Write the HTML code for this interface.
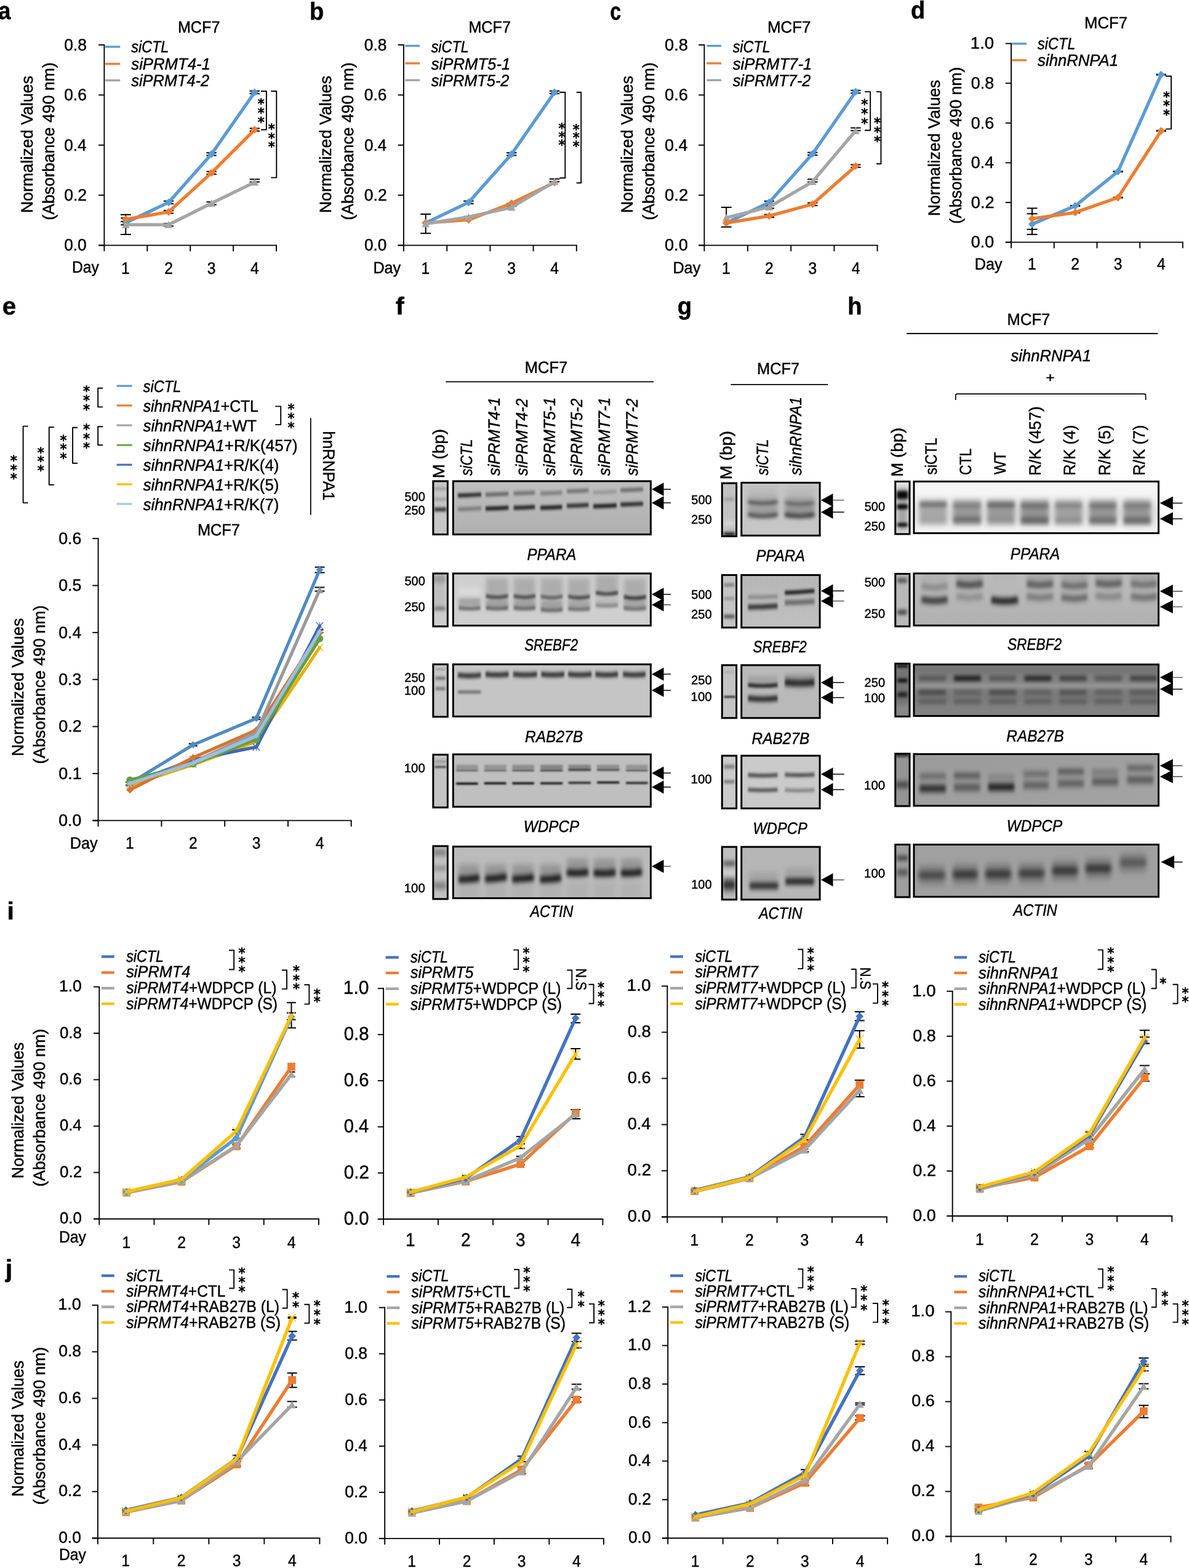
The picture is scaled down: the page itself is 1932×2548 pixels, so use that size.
<!DOCTYPE html>
<html lang="en"><head><meta charset="utf-8"><title>Figure</title>
<style>
html,body{margin:0;padding:0;background:#fff}
svg{display:block}
text.st{font-family:'DejaVu Sans','Liberation Sans',sans-serif;stroke:#000;stroke-width:0.85px}
text{font-family:'Liberation Sans', sans-serif;white-space:pre;stroke:#000;stroke-width:0.45px}
</style></head>
<body>
<svg width="1932" height="2548" viewBox="0 0 1932 2548" font-family='"Liberation Sans", sans-serif' text-rendering="geometricPrecision">
<defs>
<linearGradient id="lg1" x1="0" y1="0" x2="0" y2="1"><stop offset="0" stop-color="#BEBEBE"/><stop offset="1" stop-color="#B0B0B0"/></linearGradient>
<filter id="g15_25" x="-10%" y="-30%" width="120%" height="160%"><feGaussianBlur stdDeviation="1.5 2.5"/></filter>
<filter id="g25_20" x="-10%" y="-30%" width="120%" height="160%"><feGaussianBlur stdDeviation="2.5 2.0"/></filter>
<filter id="g35_40" x="-10%" y="-30%" width="120%" height="160%"><feGaussianBlur stdDeviation="3.5 4.0"/></filter>
<filter id="g25_25" x="-10%" y="-30%" width="120%" height="160%"><feGaussianBlur stdDeviation="2.5 2.5"/></filter>
<filter id="g25_30" x="-10%" y="-30%" width="120%" height="160%"><feGaussianBlur stdDeviation="2.5 3.0"/></filter>
<filter id="g25_50" x="-10%" y="-30%" width="120%" height="160%"><feGaussianBlur stdDeviation="2.5 5.0"/></filter>
<filter id="g35_50" x="-10%" y="-30%" width="120%" height="160%"><feGaussianBlur stdDeviation="3.5 5.0"/></filter>
<filter id="g15_30" x="-10%" y="-30%" width="120%" height="160%"><feGaussianBlur stdDeviation="1.5 3.0"/></filter>
<filter id="g15_20" x="-10%" y="-30%" width="120%" height="160%"><feGaussianBlur stdDeviation="1.5 2.0"/></filter>
<filter id="g15_15" x="-10%" y="-30%" width="120%" height="160%"><feGaussianBlur stdDeviation="1.5 1.5"/></filter>
<filter id="g15_10" x="-10%" y="-30%" width="120%" height="160%"><feGaussianBlur stdDeviation="1.5 1.0"/></filter>
<filter id="g25_45" x="-10%" y="-30%" width="120%" height="160%"><feGaussianBlur stdDeviation="2.5 4.5"/></filter>
<filter id="g35_60" x="-10%" y="-30%" width="120%" height="160%"><feGaussianBlur stdDeviation="3.5 6.0"/></filter>
<filter id="g25_40" x="-10%" y="-30%" width="120%" height="160%"><feGaussianBlur stdDeviation="2.5 4.0"/></filter>
<filter id="g25_35" x="-10%" y="-30%" width="120%" height="160%"><feGaussianBlur stdDeviation="2.5 3.5"/></filter>
<linearGradient id="lg13" x1="0" y1="0" x2="0" y2="1"><stop offset="0" stop-color="#B6B6B6"/><stop offset="1" stop-color="#C0C0C0"/></linearGradient>
<filter id="g15_40" x="-10%" y="-30%" width="120%" height="160%"><feGaussianBlur stdDeviation="1.5 4.0"/></filter>
<filter id="g15_35" x="-10%" y="-30%" width="120%" height="160%"><feGaussianBlur stdDeviation="1.5 3.5"/></filter>
<filter id="g25_65" x="-10%" y="-30%" width="120%" height="160%"><feGaussianBlur stdDeviation="2.5 6.5"/></filter>
<filter id="g50_80" x="-10%" y="-30%" width="120%" height="160%"><feGaussianBlur stdDeviation="5.0 8.0"/></filter>
<filter id="g50_50" x="-10%" y="-30%" width="120%" height="160%"><feGaussianBlur stdDeviation="5.0 5.0"/></filter>
<linearGradient id="lg23" x1="0" y1="0" x2="0" y2="1"><stop offset="0" stop-color="#BCBCBC"/><stop offset="1" stop-color="#B0B0B0"/></linearGradient>
<filter id="g35_30" x="-10%" y="-30%" width="120%" height="160%"><feGaussianBlur stdDeviation="3.5 3.0"/></filter>
<linearGradient id="lg27" x1="0" y1="0" x2="1" y2="1"><stop offset="0" stop-color="#9A9A9A"/><stop offset="1" stop-color="#A4A4A4"/></linearGradient>
<filter id="g35_70" x="-10%" y="-30%" width="120%" height="160%"><feGaussianBlur stdDeviation="3.5 7.0"/></filter>

</defs>
<rect x="0" y="0" width="1932" height="2548" fill="#fff"/>
<text font-size="40" text-anchor="start" fill="#000" font-weight="bold" textLength="20.43" lengthAdjust="spacingAndGlyphs" x="-3.08" y="31.4" >a</text>
<text font-size="40" text-anchor="start" fill="#000" font-weight="bold" textLength="23.29" lengthAdjust="spacingAndGlyphs" x="502.95" y="31.6" >b</text>
<text font-size="40" text-anchor="start" fill="#000" font-weight="bold" textLength="17.95" lengthAdjust="spacingAndGlyphs" x="991.23" y="31.7" >c</text>
<text font-size="40" text-anchor="start" fill="#000" font-weight="bold" textLength="23.29" lengthAdjust="spacingAndGlyphs" x="1480.1" y="30" >d</text>
<line x1="169.4" y1="72.05" x2="169.4" y2="399.55" stroke="#000" stroke-width="1.9" stroke-linecap="butt" />
<line x1="160.1" y1="398.6" x2="449.95" y2="398.6" stroke="#000" stroke-width="1.9" stroke-linecap="butt" />
<line x1="160.1" y1="398.6" x2="169.4" y2="398.6" stroke="#000" stroke-width="1.9" stroke-linecap="butt" />
<text font-size="27" text-anchor="start" fill="#000" textLength="36.52" lengthAdjust="spacingAndGlyphs" x="104.17" y="407.3" >0.0</text>
<line x1="160.1" y1="317.2" x2="169.4" y2="317.2" stroke="#000" stroke-width="1.9" stroke-linecap="butt" />
<text font-size="27" text-anchor="start" fill="#000" textLength="36.95" lengthAdjust="spacingAndGlyphs" x="104.16" y="325.9" >0.2</text>
<line x1="160.1" y1="235.8" x2="169.4" y2="235.8" stroke="#000" stroke-width="1.9" stroke-linecap="butt" />
<text font-size="27" text-anchor="start" fill="#000" textLength="36.39" lengthAdjust="spacingAndGlyphs" x="104.18" y="244.5" >0.4</text>
<line x1="160.1" y1="154.4" x2="169.4" y2="154.4" stroke="#000" stroke-width="1.9" stroke-linecap="butt" />
<text font-size="27" text-anchor="start" fill="#000" textLength="36.66" lengthAdjust="spacingAndGlyphs" x="104.17" y="163.1" >0.6</text>
<line x1="160.1" y1="73" x2="169.4" y2="73" stroke="#000" stroke-width="1.9" stroke-linecap="butt" />
<text font-size="27" text-anchor="start" fill="#000" textLength="36.66" lengthAdjust="spacingAndGlyphs" x="104.17" y="81.7" >0.8</text>
<line x1="169.4" y1="398.6" x2="169.4" y2="408.4" stroke="#000" stroke-width="1.9" stroke-linecap="butt" />
<line x1="239.3" y1="398.6" x2="239.3" y2="408.4" stroke="#000" stroke-width="1.9" stroke-linecap="butt" />
<line x1="309.2" y1="398.6" x2="309.2" y2="408.4" stroke="#000" stroke-width="1.9" stroke-linecap="butt" />
<line x1="379.1" y1="398.6" x2="379.1" y2="408.4" stroke="#000" stroke-width="1.9" stroke-linecap="butt" />
<line x1="449" y1="398.6" x2="449" y2="408.4" stroke="#000" stroke-width="1.9" stroke-linecap="butt" />
<text font-size="27" text-anchor="start" fill="#000" textLength="13.69" lengthAdjust="spacingAndGlyphs" x="197.1" y="445" >1</text>
<text font-size="27" text-anchor="start" fill="#000" textLength="13.72" lengthAdjust="spacingAndGlyphs" x="267.16" y="445" >2</text>
<text font-size="27" text-anchor="start" fill="#000" textLength="13.74" lengthAdjust="spacingAndGlyphs" x="336.75" y="445" >3</text>
<text font-size="27" text-anchor="start" fill="#000" textLength="13.77" lengthAdjust="spacingAndGlyphs" x="407.05" y="445" >4</text>
<text font-size="26.7" text-anchor="start" fill="#000" textLength="43.78" lengthAdjust="spacingAndGlyphs" x="116.96" y="443.2" >Day</text>
<text font-size="26.7" text-anchor="start" fill="#000" textLength="68.48" lengthAdjust="spacingAndGlyphs" x="288.91" y="53" >MCF7</text>
<text font-size="26.7" text-anchor="start" fill="#000" textLength="223.3" lengthAdjust="spacingAndGlyphs" transform="translate(53.1,346.32) rotate(-90)" x="0" y="0" >Normalized Values</text>
<text font-size="26.7" text-anchor="start" fill="#000" textLength="256.19" lengthAdjust="spacingAndGlyphs" transform="translate(88,357.67) rotate(-90)" x="0" y="0" >(Absorbance 490 nm)</text>
<line x1="204.3" y1="348.8" x2="204.3" y2="381" stroke="#000" stroke-width="2" stroke-linecap="butt" />
<line x1="195.8" y1="348.8" x2="212.8" y2="348.8" stroke="#000" stroke-width="2" stroke-linecap="butt" />
<line x1="195.8" y1="381" x2="212.8" y2="381" stroke="#000" stroke-width="2" stroke-linecap="butt" />
<line x1="204.3" y1="354.3" x2="204.3" y2="360" stroke="#000" stroke-width="2" stroke-linecap="butt" />
<line x1="196.3" y1="354.3" x2="212.3" y2="354.3" stroke="#000" stroke-width="2" stroke-linecap="butt" />
<line x1="196.3" y1="360" x2="212.3" y2="360" stroke="#000" stroke-width="2" stroke-linecap="butt" />
<line x1="204.3" y1="360" x2="204.3" y2="365.3" stroke="#000" stroke-width="2" stroke-linecap="butt" />
<line x1="196.3" y1="360" x2="212.3" y2="360" stroke="#000" stroke-width="2" stroke-linecap="butt" />
<line x1="196.3" y1="365.3" x2="212.3" y2="365.3" stroke="#000" stroke-width="2" stroke-linecap="butt" />
<line x1="274" y1="326.7" x2="274" y2="331.1" stroke="#000" stroke-width="2" stroke-linecap="butt" />
<line x1="265.8" y1="326.7" x2="282.2" y2="326.7" stroke="#000" stroke-width="2" stroke-linecap="butt" />
<line x1="265.8" y1="331.1" x2="282.2" y2="331.1" stroke="#000" stroke-width="2" stroke-linecap="butt" />
<line x1="274" y1="342.2" x2="274" y2="346.6" stroke="#000" stroke-width="2" stroke-linecap="butt" />
<line x1="265.8" y1="342.2" x2="282.2" y2="342.2" stroke="#000" stroke-width="2" stroke-linecap="butt" />
<line x1="265.8" y1="346.6" x2="282.2" y2="346.6" stroke="#000" stroke-width="2" stroke-linecap="butt" />
<line x1="274" y1="363" x2="274" y2="367.4" stroke="#000" stroke-width="2" stroke-linecap="butt" />
<line x1="265.8" y1="363" x2="282.2" y2="363" stroke="#000" stroke-width="2" stroke-linecap="butt" />
<line x1="265.8" y1="367.4" x2="282.2" y2="367.4" stroke="#000" stroke-width="2" stroke-linecap="butt" />
<line x1="343.6" y1="248.2" x2="343.6" y2="252.6" stroke="#000" stroke-width="2" stroke-linecap="butt" />
<line x1="335.4" y1="248.2" x2="351.8" y2="248.2" stroke="#000" stroke-width="2" stroke-linecap="butt" />
<line x1="335.4" y1="252.6" x2="351.8" y2="252.6" stroke="#000" stroke-width="2" stroke-linecap="butt" />
<line x1="343.6" y1="278.7" x2="343.6" y2="283.1" stroke="#000" stroke-width="2" stroke-linecap="butt" />
<line x1="335.4" y1="278.7" x2="351.8" y2="278.7" stroke="#000" stroke-width="2" stroke-linecap="butt" />
<line x1="335.4" y1="283.1" x2="351.8" y2="283.1" stroke="#000" stroke-width="2" stroke-linecap="butt" />
<line x1="343.6" y1="328.2" x2="343.6" y2="332.6" stroke="#000" stroke-width="2" stroke-linecap="butt" />
<line x1="335.4" y1="328.2" x2="351.8" y2="328.2" stroke="#000" stroke-width="2" stroke-linecap="butt" />
<line x1="335.4" y1="332.6" x2="351.8" y2="332.6" stroke="#000" stroke-width="2" stroke-linecap="butt" />
<line x1="413.8" y1="147.8" x2="413.8" y2="152.2" stroke="#000" stroke-width="2" stroke-linecap="butt" />
<line x1="405.6" y1="147.8" x2="422" y2="147.8" stroke="#000" stroke-width="2" stroke-linecap="butt" />
<line x1="405.6" y1="152.2" x2="422" y2="152.2" stroke="#000" stroke-width="2" stroke-linecap="butt" />
<line x1="413.8" y1="208.6" x2="413.8" y2="213" stroke="#000" stroke-width="2" stroke-linecap="butt" />
<line x1="405.6" y1="208.6" x2="422" y2="208.6" stroke="#000" stroke-width="2" stroke-linecap="butt" />
<line x1="405.6" y1="213" x2="422" y2="213" stroke="#000" stroke-width="2" stroke-linecap="butt" />
<line x1="413.8" y1="291.3" x2="413.8" y2="295.7" stroke="#000" stroke-width="2" stroke-linecap="butt" />
<line x1="405.6" y1="291.3" x2="422" y2="291.3" stroke="#000" stroke-width="2" stroke-linecap="butt" />
<line x1="405.6" y1="295.7" x2="422" y2="295.7" stroke="#000" stroke-width="2" stroke-linecap="butt" />
<polyline points="204.3,362 274,328.9 343.6,250.4 413.8,150" fill="none" stroke="#5B9BD5" stroke-width="5.3" stroke-linejoin="round" stroke-linecap="round"/>
<polygon points="204.3,355.7 210.6,362 204.3,368.3 198,362" fill="#5B9BD5" stroke="none" stroke-width="0"/>
<polygon points="274,322.6 280.3,328.9 274,335.2 267.7,328.9" fill="#5B9BD5" stroke="none" stroke-width="0"/>
<polygon points="343.6,244.1 349.9,250.4 343.6,256.7 337.3,250.4" fill="#5B9BD5" stroke="none" stroke-width="0"/>
<polygon points="413.8,143.7 420.1,150 413.8,156.3 407.5,150" fill="#5B9BD5" stroke="none" stroke-width="0"/>
<polyline points="204.3,356.3 274,344.4 343.6,280.9 413.8,210.8" fill="none" stroke="#ED7D31" stroke-width="5.3" stroke-linejoin="round" stroke-linecap="round"/>
<polygon points="204.3,350 210.6,356.3 204.3,362.6 198,356.3" fill="#ED7D31" stroke="none" stroke-width="0"/>
<polygon points="274,338.1 280.3,344.4 274,350.7 267.7,344.4" fill="#ED7D31" stroke="none" stroke-width="0"/>
<polygon points="343.6,274.6 349.9,280.9 343.6,287.2 337.3,280.9" fill="#ED7D31" stroke="none" stroke-width="0"/>
<polygon points="413.8,204.5 420.1,210.8 413.8,217.1 407.5,210.8" fill="#ED7D31" stroke="none" stroke-width="0"/>
<polyline points="204.3,365.2 274,365.2 343.6,330.4 413.8,296.1" fill="none" stroke="#A5A5A5" stroke-width="5.3" stroke-linejoin="round" stroke-linecap="round"/>
<polygon points="204.3,358.9 210.6,370.87 198,370.87" fill="#A5A5A5" stroke="none" stroke-width="0"/>
<polygon points="274,358.9 280.3,370.87 267.7,370.87" fill="#A5A5A5" stroke="none" stroke-width="0"/>
<polygon points="343.6,324.1 349.9,336.07 337.3,336.07" fill="#A5A5A5" stroke="none" stroke-width="0"/>
<polygon points="413.8,289.8 420.1,301.77 407.5,301.77" fill="#A5A5A5" stroke="none" stroke-width="0"/>
<line x1="170.8" y1="76" x2="195.3" y2="76" stroke="#5B9BD5" stroke-width="3.4" stroke-linecap="butt" />
<line x1="170.8" y1="103.8" x2="195.3" y2="103.8" stroke="#ED7D31" stroke-width="3.4" stroke-linecap="butt" />
<line x1="170.8" y1="130.6" x2="195.3" y2="130.6" stroke="#A5A5A5" stroke-width="3.4" stroke-linecap="butt" />
<text font-size="26.7" text-anchor="start" fill="#000" font-style="italic" textLength="60.93" lengthAdjust="spacingAndGlyphs" x="213.31" y="85" >siCTL</text>
<text font-size="26.7" text-anchor="start" fill="#000" font-style="italic" textLength="128.58" lengthAdjust="spacingAndGlyphs" x="213.3" y="112.7" >siPRMT4-1</text>
<text font-size="26.7" text-anchor="start" fill="#000" font-style="italic" textLength="126.77" lengthAdjust="spacingAndGlyphs" x="213.3" y="140.1" >siPRMT4-2</text>
<path d="M423.9 148.2 H432.9 V210.8 H423.9" fill="none" stroke="#000" stroke-width="1.9" stroke-linejoin="round"/>
<text class="st" font-size="22" text-anchor="middle"><tspan x="424.3" y="175.85">*</tspan><tspan x="424.3" y="190.98">*</tspan><tspan x="424.3" y="206.11">*</tspan></text>
<path d="M440.3 148.2 H449.3 V288.6 H440.3" fill="none" stroke="#000" stroke-width="1.9" stroke-linejoin="round"/>
<text class="st" font-size="22" text-anchor="middle"><tspan x="441.3" y="216.75">*</tspan><tspan x="441.3" y="231.53">*</tspan><tspan x="441.3" y="246.31">*</tspan></text>
<line x1="655.9" y1="72.05" x2="655.9" y2="399.55" stroke="#000" stroke-width="1.9" stroke-linecap="butt" />
<line x1="646.6" y1="398.6" x2="937.75" y2="398.6" stroke="#000" stroke-width="1.9" stroke-linecap="butt" />
<line x1="646.6" y1="398.6" x2="655.9" y2="398.6" stroke="#000" stroke-width="1.9" stroke-linecap="butt" />
<text font-size="27" text-anchor="start" fill="#000" textLength="36.42" lengthAdjust="spacingAndGlyphs" x="591.88" y="407.3" >0.0</text>
<line x1="646.6" y1="317.2" x2="655.9" y2="317.2" stroke="#000" stroke-width="1.9" stroke-linecap="butt" />
<text font-size="27" text-anchor="start" fill="#000" textLength="36.84" lengthAdjust="spacingAndGlyphs" x="591.87" y="325.9" >0.2</text>
<line x1="646.6" y1="235.8" x2="655.9" y2="235.8" stroke="#000" stroke-width="1.9" stroke-linecap="butt" />
<text font-size="27" text-anchor="start" fill="#000" textLength="36.28" lengthAdjust="spacingAndGlyphs" x="591.88" y="244.5" >0.4</text>
<line x1="646.6" y1="154.4" x2="655.9" y2="154.4" stroke="#000" stroke-width="1.9" stroke-linecap="butt" />
<text font-size="27" text-anchor="start" fill="#000" textLength="36.56" lengthAdjust="spacingAndGlyphs" x="591.87" y="163.1" >0.6</text>
<line x1="646.6" y1="73" x2="655.9" y2="73" stroke="#000" stroke-width="1.9" stroke-linecap="butt" />
<text font-size="27" text-anchor="start" fill="#000" textLength="36.56" lengthAdjust="spacingAndGlyphs" x="591.87" y="81.7" >0.8</text>
<line x1="655.9" y1="398.6" x2="655.9" y2="408.4" stroke="#000" stroke-width="1.9" stroke-linecap="butt" />
<line x1="726.2" y1="398.6" x2="726.2" y2="408.4" stroke="#000" stroke-width="1.9" stroke-linecap="butt" />
<line x1="796.4" y1="398.6" x2="796.4" y2="408.4" stroke="#000" stroke-width="1.9" stroke-linecap="butt" />
<line x1="866.6" y1="398.6" x2="866.6" y2="408.4" stroke="#000" stroke-width="1.9" stroke-linecap="butt" />
<line x1="936.8" y1="398.6" x2="936.8" y2="408.4" stroke="#000" stroke-width="1.9" stroke-linecap="butt" />
<text font-size="27" text-anchor="start" fill="#000" textLength="13.69" lengthAdjust="spacingAndGlyphs" x="684.5" y="444.5" >1</text>
<text font-size="27" text-anchor="start" fill="#000" textLength="13.72" lengthAdjust="spacingAndGlyphs" x="754.56" y="444.5" >2</text>
<text font-size="27" text-anchor="start" fill="#000" textLength="13.74" lengthAdjust="spacingAndGlyphs" x="824.35" y="444.5" >3</text>
<text font-size="27" text-anchor="start" fill="#000" textLength="13.77" lengthAdjust="spacingAndGlyphs" x="894.25" y="444.5" >4</text>
<text font-size="26.7" text-anchor="start" fill="#000" textLength="44.72" lengthAdjust="spacingAndGlyphs" x="606.41" y="443.5" >Day</text>
<text font-size="26.7" text-anchor="start" fill="#000" textLength="68.48" lengthAdjust="spacingAndGlyphs" x="761.41" y="53" >MCF7</text>
<text font-size="26.7" text-anchor="start" fill="#000" textLength="223.3" lengthAdjust="spacingAndGlyphs" transform="translate(538.1,346.32) rotate(-90)" x="0" y="0" >Normalized Values</text>
<text font-size="26.7" text-anchor="start" fill="#000" textLength="256.19" lengthAdjust="spacingAndGlyphs" transform="translate(573.5,357.67) rotate(-90)" x="0" y="0" >(Absorbance 490 nm)</text>
<line x1="691.7" y1="348" x2="691.7" y2="379.2" stroke="#000" stroke-width="2" stroke-linecap="butt" />
<line x1="683.2" y1="348" x2="700.2" y2="348" stroke="#000" stroke-width="2" stroke-linecap="butt" />
<line x1="683.2" y1="379.2" x2="700.2" y2="379.2" stroke="#000" stroke-width="2" stroke-linecap="butt" />
<line x1="761.4" y1="326.7" x2="761.4" y2="331.1" stroke="#000" stroke-width="2" stroke-linecap="butt" />
<line x1="753.2" y1="326.7" x2="769.6" y2="326.7" stroke="#000" stroke-width="2" stroke-linecap="butt" />
<line x1="753.2" y1="331.1" x2="769.6" y2="331.1" stroke="#000" stroke-width="2" stroke-linecap="butt" />
<line x1="761.4" y1="351.8" x2="761.4" y2="356.2" stroke="#000" stroke-width="2" stroke-linecap="butt" />
<line x1="753.2" y1="351.8" x2="769.6" y2="351.8" stroke="#000" stroke-width="2" stroke-linecap="butt" />
<line x1="753.2" y1="356.2" x2="769.6" y2="356.2" stroke="#000" stroke-width="2" stroke-linecap="butt" />
<line x1="831.2" y1="248.2" x2="831.2" y2="252.6" stroke="#000" stroke-width="2" stroke-linecap="butt" />
<line x1="823" y1="248.2" x2="839.4" y2="248.2" stroke="#000" stroke-width="2" stroke-linecap="butt" />
<line x1="823" y1="252.6" x2="839.4" y2="252.6" stroke="#000" stroke-width="2" stroke-linecap="butt" />
<line x1="831.2" y1="330.8" x2="831.2" y2="335.2" stroke="#000" stroke-width="2" stroke-linecap="butt" />
<line x1="823" y1="330.8" x2="839.4" y2="330.8" stroke="#000" stroke-width="2" stroke-linecap="butt" />
<line x1="823" y1="335.2" x2="839.4" y2="335.2" stroke="#000" stroke-width="2" stroke-linecap="butt" />
<line x1="901" y1="147.8" x2="901" y2="152.2" stroke="#000" stroke-width="2" stroke-linecap="butt" />
<line x1="892.8" y1="147.8" x2="909.2" y2="147.8" stroke="#000" stroke-width="2" stroke-linecap="butt" />
<line x1="892.8" y1="152.2" x2="909.2" y2="152.2" stroke="#000" stroke-width="2" stroke-linecap="butt" />
<line x1="901" y1="290.8" x2="901" y2="295.2" stroke="#000" stroke-width="2" stroke-linecap="butt" />
<line x1="892.8" y1="290.8" x2="909.2" y2="290.8" stroke="#000" stroke-width="2" stroke-linecap="butt" />
<line x1="892.8" y1="295.2" x2="909.2" y2="295.2" stroke="#000" stroke-width="2" stroke-linecap="butt" />
<polyline points="691.7,362.3 761.4,328.9 831.2,250.4 901,150" fill="none" stroke="#5B9BD5" stroke-width="5.3" stroke-linejoin="round" stroke-linecap="round"/>
<polygon points="691.7,356 698,362.3 691.7,368.6 685.4,362.3" fill="#5B9BD5" stroke="none" stroke-width="0"/>
<polygon points="761.4,322.6 767.7,328.9 761.4,335.2 755.1,328.9" fill="#5B9BD5" stroke="none" stroke-width="0"/>
<polygon points="831.2,244.1 837.5,250.4 831.2,256.7 824.9,250.4" fill="#5B9BD5" stroke="none" stroke-width="0"/>
<polygon points="901,143.7 907.3,150 901,156.3 894.7,150" fill="#5B9BD5" stroke="none" stroke-width="0"/>
<polyline points="691.7,362.3 761.4,357.2 831.2,330.4 901,296.7" fill="none" stroke="#ED7D31" stroke-width="5.3" stroke-linejoin="round" stroke-linecap="round"/>
<polygon points="691.7,356 698,362.3 691.7,368.6 685.4,362.3" fill="#ED7D31" stroke="none" stroke-width="0"/>
<polygon points="761.4,350.9 767.7,357.2 761.4,363.5 755.1,357.2" fill="#ED7D31" stroke="none" stroke-width="0"/>
<polygon points="831.2,324.1 837.5,330.4 831.2,336.7 824.9,330.4" fill="#ED7D31" stroke="none" stroke-width="0"/>
<polygon points="901,290.4 907.3,296.7 901,303 894.7,296.7" fill="#ED7D31" stroke="none" stroke-width="0"/>
<polyline points="691.7,363.7 761.4,352.7 831.2,336.9 901,295.2" fill="none" stroke="#A5A5A5" stroke-width="5.3" stroke-linejoin="round" stroke-linecap="round"/>
<polygon points="691.7,357.4 698,369.37 685.4,369.37" fill="#A5A5A5" stroke="none" stroke-width="0"/>
<polygon points="761.4,346.4 767.7,358.37 755.1,358.37" fill="#A5A5A5" stroke="none" stroke-width="0"/>
<polygon points="831.2,330.6 837.5,342.57 824.9,342.57" fill="#A5A5A5" stroke="none" stroke-width="0"/>
<polygon points="901,288.9 907.3,300.87 894.7,300.87" fill="#A5A5A5" stroke="none" stroke-width="0"/>
<line x1="658.3" y1="74.5" x2="682.1" y2="74.5" stroke="#5B9BD5" stroke-width="3.4" stroke-linecap="butt" />
<line x1="658.3" y1="102.9" x2="682.1" y2="102.9" stroke="#ED7D31" stroke-width="3.4" stroke-linecap="butt" />
<line x1="658.3" y1="130.3" x2="682.1" y2="130.3" stroke="#A5A5A5" stroke-width="3.4" stroke-linecap="butt" />
<text font-size="26.7" text-anchor="start" fill="#000" font-style="italic" textLength="60.93" lengthAdjust="spacingAndGlyphs" x="700.71" y="85" >siCTL</text>
<text font-size="26.7" text-anchor="start" fill="#000" font-style="italic" textLength="128.58" lengthAdjust="spacingAndGlyphs" x="700.7" y="112.7" >siPRMT5-1</text>
<text font-size="26.7" text-anchor="start" fill="#000" font-style="italic" textLength="126.77" lengthAdjust="spacingAndGlyphs" x="700.7" y="140.1" >siPRMT5-2</text>
<path d="M909.3 150 H918.3 V289.2 H909.3" fill="none" stroke="#000" stroke-width="1.9" stroke-linejoin="round"/>
<text class="st" font-size="22" text-anchor="middle"><tspan x="912.9" y="216.15">*</tspan><tspan x="912.9" y="229.73">*</tspan><tspan x="912.9" y="243.31">*</tspan></text>
<path d="M936.7 150 H944.2 V297.3 H936.7" fill="none" stroke="#000" stroke-width="1.9" stroke-linejoin="round"/>
<text class="st" font-size="22" text-anchor="middle"><tspan x="936.2" y="217.65">*</tspan><tspan x="936.2" y="231.23">*</tspan><tspan x="936.2" y="244.81">*</tspan></text>
<line x1="1144.4" y1="72.05" x2="1144.4" y2="399.55" stroke="#000" stroke-width="1.9" stroke-linecap="butt" />
<line x1="1135.1" y1="398.6" x2="1426.55" y2="398.6" stroke="#000" stroke-width="1.9" stroke-linecap="butt" />
<line x1="1135.1" y1="398.6" x2="1144.4" y2="398.6" stroke="#000" stroke-width="1.9" stroke-linecap="butt" />
<text font-size="27" text-anchor="start" fill="#000" textLength="37.69" lengthAdjust="spacingAndGlyphs" x="1080.04" y="407.3" >0.0</text>
<line x1="1135.1" y1="317.2" x2="1144.4" y2="317.2" stroke="#000" stroke-width="1.9" stroke-linecap="butt" />
<text font-size="27" text-anchor="start" fill="#000" textLength="38.12" lengthAdjust="spacingAndGlyphs" x="1080.03" y="325.9" >0.2</text>
<line x1="1135.1" y1="235.8" x2="1144.4" y2="235.8" stroke="#000" stroke-width="1.9" stroke-linecap="butt" />
<text font-size="27" text-anchor="start" fill="#000" textLength="37.54" lengthAdjust="spacingAndGlyphs" x="1080.04" y="244.5" >0.4</text>
<line x1="1135.1" y1="154.4" x2="1144.4" y2="154.4" stroke="#000" stroke-width="1.9" stroke-linecap="butt" />
<text font-size="27" text-anchor="start" fill="#000" textLength="37.83" lengthAdjust="spacingAndGlyphs" x="1080.04" y="163.1" >0.6</text>
<line x1="1135.1" y1="73" x2="1144.4" y2="73" stroke="#000" stroke-width="1.9" stroke-linecap="butt" />
<text font-size="27" text-anchor="start" fill="#000" textLength="37.83" lengthAdjust="spacingAndGlyphs" x="1080.04" y="81.7" >0.8</text>
<line x1="1144.4" y1="398.6" x2="1144.4" y2="408.4" stroke="#000" stroke-width="1.9" stroke-linecap="butt" />
<line x1="1214.9" y1="398.6" x2="1214.9" y2="408.4" stroke="#000" stroke-width="1.9" stroke-linecap="butt" />
<line x1="1285.2" y1="398.6" x2="1285.2" y2="408.4" stroke="#000" stroke-width="1.9" stroke-linecap="butt" />
<line x1="1355.5" y1="398.6" x2="1355.5" y2="408.4" stroke="#000" stroke-width="1.9" stroke-linecap="butt" />
<line x1="1425.6" y1="398.6" x2="1425.6" y2="408.4" stroke="#000" stroke-width="1.9" stroke-linecap="butt" />
<text font-size="27" text-anchor="start" fill="#000" textLength="13.69" lengthAdjust="spacingAndGlyphs" x="1173" y="445.2" >1</text>
<text font-size="27" text-anchor="start" fill="#000" textLength="13.72" lengthAdjust="spacingAndGlyphs" x="1243.06" y="445.2" >2</text>
<text font-size="27" text-anchor="start" fill="#000" textLength="13.74" lengthAdjust="spacingAndGlyphs" x="1313.45" y="445.2" >3</text>
<text font-size="27" text-anchor="start" fill="#000" textLength="13.77" lengthAdjust="spacingAndGlyphs" x="1383.65" y="445.2" >4</text>
<text font-size="26.7" text-anchor="start" fill="#000" textLength="44.83" lengthAdjust="spacingAndGlyphs" x="1093.41" y="443.5" >Day</text>
<text font-size="26.7" text-anchor="start" fill="#000" textLength="70.58" lengthAdjust="spacingAndGlyphs" x="1246.95" y="53" >MCF7</text>
<text font-size="26.7" text-anchor="start" fill="#000" textLength="223.3" lengthAdjust="spacingAndGlyphs" transform="translate(1027.5,346.32) rotate(-90)" x="0" y="0" >Normalized Values</text>
<text font-size="26.7" text-anchor="start" fill="#000" textLength="256.19" lengthAdjust="spacingAndGlyphs" transform="translate(1063,357.67) rotate(-90)" x="0" y="0" >(Absorbance 490 nm)</text>
<line x1="1180.2" y1="336.9" x2="1180.2" y2="368.8" stroke="#000" stroke-width="2" stroke-linecap="butt" />
<line x1="1171.7" y1="336.9" x2="1188.7" y2="336.9" stroke="#000" stroke-width="2" stroke-linecap="butt" />
<line x1="1171.7" y1="368.8" x2="1188.7" y2="368.8" stroke="#000" stroke-width="2" stroke-linecap="butt" />
<line x1="1249.9" y1="326.8" x2="1249.9" y2="331.2" stroke="#000" stroke-width="2" stroke-linecap="butt" />
<line x1="1241.7" y1="326.8" x2="1258.1" y2="326.8" stroke="#000" stroke-width="2" stroke-linecap="butt" />
<line x1="1241.7" y1="331.2" x2="1258.1" y2="331.2" stroke="#000" stroke-width="2" stroke-linecap="butt" />
<line x1="1249.9" y1="334.1" x2="1249.9" y2="338.5" stroke="#000" stroke-width="2" stroke-linecap="butt" />
<line x1="1241.7" y1="334.1" x2="1258.1" y2="334.1" stroke="#000" stroke-width="2" stroke-linecap="butt" />
<line x1="1241.7" y1="338.5" x2="1258.1" y2="338.5" stroke="#000" stroke-width="2" stroke-linecap="butt" />
<line x1="1249.9" y1="348.7" x2="1249.9" y2="353.1" stroke="#000" stroke-width="2" stroke-linecap="butt" />
<line x1="1241.7" y1="348.7" x2="1258.1" y2="348.7" stroke="#000" stroke-width="2" stroke-linecap="butt" />
<line x1="1241.7" y1="353.1" x2="1258.1" y2="353.1" stroke="#000" stroke-width="2" stroke-linecap="butt" />
<line x1="1320.3" y1="247.7" x2="1320.3" y2="252.1" stroke="#000" stroke-width="2" stroke-linecap="butt" />
<line x1="1312.1" y1="247.7" x2="1328.5" y2="247.7" stroke="#000" stroke-width="2" stroke-linecap="butt" />
<line x1="1312.1" y1="252.1" x2="1328.5" y2="252.1" stroke="#000" stroke-width="2" stroke-linecap="butt" />
<line x1="1320.3" y1="291.3" x2="1320.3" y2="295.7" stroke="#000" stroke-width="2" stroke-linecap="butt" />
<line x1="1312.1" y1="291.3" x2="1328.5" y2="291.3" stroke="#000" stroke-width="2" stroke-linecap="butt" />
<line x1="1312.1" y1="295.7" x2="1328.5" y2="295.7" stroke="#000" stroke-width="2" stroke-linecap="butt" />
<line x1="1320.3" y1="329.6" x2="1320.3" y2="334" stroke="#000" stroke-width="2" stroke-linecap="butt" />
<line x1="1312.1" y1="329.6" x2="1328.5" y2="329.6" stroke="#000" stroke-width="2" stroke-linecap="butt" />
<line x1="1312.1" y1="334" x2="1328.5" y2="334" stroke="#000" stroke-width="2" stroke-linecap="butt" />
<line x1="1390.4" y1="146.9" x2="1390.4" y2="151.3" stroke="#000" stroke-width="2" stroke-linecap="butt" />
<line x1="1382.2" y1="146.9" x2="1398.6" y2="146.9" stroke="#000" stroke-width="2" stroke-linecap="butt" />
<line x1="1382.2" y1="151.3" x2="1398.6" y2="151.3" stroke="#000" stroke-width="2" stroke-linecap="butt" />
<line x1="1390.4" y1="207.8" x2="1390.4" y2="212.2" stroke="#000" stroke-width="2" stroke-linecap="butt" />
<line x1="1382.2" y1="207.8" x2="1398.6" y2="207.8" stroke="#000" stroke-width="2" stroke-linecap="butt" />
<line x1="1382.2" y1="212.2" x2="1398.6" y2="212.2" stroke="#000" stroke-width="2" stroke-linecap="butt" />
<line x1="1390.4" y1="267.6" x2="1390.4" y2="272" stroke="#000" stroke-width="2" stroke-linecap="butt" />
<line x1="1382.2" y1="267.6" x2="1398.6" y2="267.6" stroke="#000" stroke-width="2" stroke-linecap="butt" />
<line x1="1382.2" y1="272" x2="1398.6" y2="272" stroke="#000" stroke-width="2" stroke-linecap="butt" />
<polyline points="1180.2,362.3 1249.9,328.9 1320.3,249.9 1390.4,149.1" fill="none" stroke="#5B9BD5" stroke-width="5.3" stroke-linejoin="round" stroke-linecap="round"/>
<polygon points="1180.2,356 1186.5,362.3 1180.2,368.6 1173.9,362.3" fill="#5B9BD5" stroke="none" stroke-width="0"/>
<polygon points="1249.9,322.6 1256.2,328.9 1249.9,335.2 1243.6,328.9" fill="#5B9BD5" stroke="none" stroke-width="0"/>
<polygon points="1320.3,243.6 1326.6,249.9 1320.3,256.2 1314,249.9" fill="#5B9BD5" stroke="none" stroke-width="0"/>
<polygon points="1390.4,142.8 1396.7,149.1 1390.4,155.4 1384.1,149.1" fill="#5B9BD5" stroke="none" stroke-width="0"/>
<polyline points="1180.2,353.9 1249.9,336.3 1320.3,295.2 1390.4,212.3" fill="none" stroke="#A5A5A5" stroke-width="5.3" stroke-linejoin="round" stroke-linecap="round"/>
<polygon points="1180.2,347.6 1186.5,359.57 1173.9,359.57" fill="#A5A5A5" stroke="none" stroke-width="0"/>
<polygon points="1249.9,330 1256.2,341.97 1243.6,341.97" fill="#A5A5A5" stroke="none" stroke-width="0"/>
<polygon points="1320.3,288.9 1326.6,300.87 1314,300.87" fill="#A5A5A5" stroke="none" stroke-width="0"/>
<polygon points="1390.4,206 1396.7,217.97 1384.1,217.97" fill="#A5A5A5" stroke="none" stroke-width="0"/>
<polyline points="1180.2,362.3 1249.9,350.9 1320.3,331.8 1390.4,269.8" fill="none" stroke="#ED7D31" stroke-width="5.3" stroke-linejoin="round" stroke-linecap="round"/>
<polygon points="1180.2,356 1186.5,362.3 1180.2,368.6 1173.9,362.3" fill="#ED7D31" stroke="none" stroke-width="0"/>
<polygon points="1249.9,344.6 1256.2,350.9 1249.9,357.2 1243.6,350.9" fill="#ED7D31" stroke="none" stroke-width="0"/>
<polygon points="1320.3,325.5 1326.6,331.8 1320.3,338.1 1314,331.8" fill="#ED7D31" stroke="none" stroke-width="0"/>
<polygon points="1390.4,263.5 1396.7,269.8 1390.4,276.1 1384.1,269.8" fill="#ED7D31" stroke="none" stroke-width="0"/>
<line x1="1148.3" y1="74.5" x2="1172.1" y2="74.5" stroke="#5B9BD5" stroke-width="3.4" stroke-linecap="butt" />
<line x1="1148.3" y1="102.9" x2="1172.1" y2="102.9" stroke="#ED7D31" stroke-width="3.4" stroke-linecap="butt" />
<line x1="1148.3" y1="130.3" x2="1172.1" y2="130.3" stroke="#A5A5A5" stroke-width="3.4" stroke-linecap="butt" />
<text font-size="26.7" text-anchor="start" fill="#000" font-style="italic" textLength="60.93" lengthAdjust="spacingAndGlyphs" x="1190.71" y="85" >siCTL</text>
<text font-size="26.7" text-anchor="start" fill="#000" font-style="italic" textLength="128.58" lengthAdjust="spacingAndGlyphs" x="1190.7" y="112.7" >siPRMT7-1</text>
<text font-size="26.7" text-anchor="start" fill="#000" font-style="italic" textLength="126.77" lengthAdjust="spacingAndGlyphs" x="1190.7" y="140.1" >siPRMT7-2</text>
<path d="M1405.2 149.1 H1414.2 V211.7 H1405.2" fill="none" stroke="#000" stroke-width="1.9" stroke-linejoin="round"/>
<text class="st" font-size="22" text-anchor="middle"><tspan x="1404.7" y="177.35">*</tspan><tspan x="1404.7" y="192.48">*</tspan><tspan x="1404.7" y="207.61">*</tspan></text>
<path d="M1424 149.1 H1431.5 V266.2 H1424" fill="none" stroke="#000" stroke-width="1.9" stroke-linejoin="round"/>
<text class="st" font-size="22" text-anchor="middle"><tspan x="1425.6" y="207.15">*</tspan><tspan x="1425.6" y="222.23">*</tspan><tspan x="1425.6" y="237.31">*</tspan></text>
<line x1="1643.1" y1="69.75" x2="1643.1" y2="394.55" stroke="#000" stroke-width="1.9" stroke-linecap="butt" />
<line x1="1633.8" y1="393.6" x2="1922.75" y2="393.6" stroke="#000" stroke-width="1.9" stroke-linecap="butt" />
<line x1="1633.8" y1="393.6" x2="1643.1" y2="393.6" stroke="#000" stroke-width="1.9" stroke-linecap="butt" />
<text font-size="27" text-anchor="start" fill="#000" textLength="37.37" lengthAdjust="spacingAndGlyphs" x="1577.85" y="402.3" >0.0</text>
<line x1="1633.8" y1="329.02" x2="1643.1" y2="329.02" stroke="#000" stroke-width="1.9" stroke-linecap="butt" />
<text font-size="27" text-anchor="start" fill="#000" textLength="37.8" lengthAdjust="spacingAndGlyphs" x="1577.84" y="337.72" >0.2</text>
<line x1="1633.8" y1="264.44" x2="1643.1" y2="264.44" stroke="#000" stroke-width="1.9" stroke-linecap="butt" />
<text font-size="27" text-anchor="start" fill="#000" textLength="37.23" lengthAdjust="spacingAndGlyphs" x="1577.85" y="273.14" >0.4</text>
<line x1="1633.8" y1="199.86" x2="1643.1" y2="199.86" stroke="#000" stroke-width="1.9" stroke-linecap="butt" />
<text font-size="27" text-anchor="start" fill="#000" textLength="37.51" lengthAdjust="spacingAndGlyphs" x="1577.85" y="208.56" >0.6</text>
<line x1="1633.8" y1="135.28" x2="1643.1" y2="135.28" stroke="#000" stroke-width="1.9" stroke-linecap="butt" />
<text font-size="27" text-anchor="start" fill="#000" textLength="37.51" lengthAdjust="spacingAndGlyphs" x="1577.85" y="143.98" >0.8</text>
<line x1="1633.8" y1="70.7" x2="1643.1" y2="70.7" stroke="#000" stroke-width="1.9" stroke-linecap="butt" />
<text font-size="27" text-anchor="start" fill="#000" textLength="38.39" lengthAdjust="spacingAndGlyphs" x="1576.85" y="79.4" >1.0</text>
<line x1="1643.1" y1="393.6" x2="1643.1" y2="403.4" stroke="#000" stroke-width="1.9" stroke-linecap="butt" />
<line x1="1712.8" y1="393.6" x2="1712.8" y2="403.4" stroke="#000" stroke-width="1.9" stroke-linecap="butt" />
<line x1="1782.5" y1="393.6" x2="1782.5" y2="403.4" stroke="#000" stroke-width="1.9" stroke-linecap="butt" />
<line x1="1852.2" y1="393.6" x2="1852.2" y2="403.4" stroke="#000" stroke-width="1.9" stroke-linecap="butt" />
<line x1="1921.8" y1="393.6" x2="1921.8" y2="403.4" stroke="#000" stroke-width="1.9" stroke-linecap="butt" />
<text font-size="27" text-anchor="start" fill="#000" textLength="13.69" lengthAdjust="spacingAndGlyphs" x="1669.9" y="438.3" >1</text>
<text font-size="27" text-anchor="start" fill="#000" textLength="13.72" lengthAdjust="spacingAndGlyphs" x="1740.36" y="438.3" >2</text>
<text font-size="27" text-anchor="start" fill="#000" textLength="13.74" lengthAdjust="spacingAndGlyphs" x="1809.75" y="438.3" >3</text>
<text font-size="27" text-anchor="start" fill="#000" textLength="13.77" lengthAdjust="spacingAndGlyphs" x="1879.95" y="438.3" >4</text>
<text font-size="26.7" text-anchor="start" fill="#000" textLength="44.83" lengthAdjust="spacingAndGlyphs" x="1583.71" y="438.3" >Day</text>
<text font-size="26.7" text-anchor="start" fill="#000" textLength="69.95" lengthAdjust="spacingAndGlyphs" x="1762.07" y="46.2" >MCF7</text>
<text font-size="26.7" text-anchor="start" fill="#000" textLength="221.68" lengthAdjust="spacingAndGlyphs" transform="translate(1527.4,351.31) rotate(-90)" x="0" y="0" >Normalized Values</text>
<text font-size="26.7" text-anchor="start" fill="#000" textLength="254.77" lengthAdjust="spacingAndGlyphs" transform="translate(1562.3,363.66) rotate(-90)" x="0" y="0" >(Absorbance 490 nm)</text>
<line x1="1677.1" y1="338.4" x2="1677.1" y2="372.7" stroke="#000" stroke-width="2" stroke-linecap="butt" />
<line x1="1668.6" y1="338.4" x2="1685.6" y2="338.4" stroke="#000" stroke-width="2" stroke-linecap="butt" />
<line x1="1668.6" y1="372.7" x2="1685.6" y2="372.7" stroke="#000" stroke-width="2" stroke-linecap="butt" />
<line x1="1677.1" y1="347.3" x2="1677.1" y2="381" stroke="#000" stroke-width="2" stroke-linecap="butt" />
<line x1="1668.6" y1="347.3" x2="1685.6" y2="347.3" stroke="#000" stroke-width="2" stroke-linecap="butt" />
<line x1="1668.6" y1="381" x2="1685.6" y2="381" stroke="#000" stroke-width="2" stroke-linecap="butt" />
<line x1="1747.2" y1="334" x2="1747.2" y2="335" stroke="#000" stroke-width="2" stroke-linecap="butt" />
<line x1="1739.2" y1="334" x2="1755.2" y2="334" stroke="#000" stroke-width="2" stroke-linecap="butt" />
<line x1="1739.2" y1="335" x2="1755.2" y2="335" stroke="#000" stroke-width="2" stroke-linecap="butt" />
<line x1="1747.2" y1="344.8" x2="1747.2" y2="345.8" stroke="#000" stroke-width="2" stroke-linecap="butt" />
<line x1="1739.2" y1="344.8" x2="1755.2" y2="344.8" stroke="#000" stroke-width="2" stroke-linecap="butt" />
<line x1="1739.2" y1="345.8" x2="1755.2" y2="345.8" stroke="#000" stroke-width="2" stroke-linecap="butt" />
<line x1="1816.6" y1="278.3" x2="1816.6" y2="279.3" stroke="#000" stroke-width="2" stroke-linecap="butt" />
<line x1="1808.6" y1="278.3" x2="1824.6" y2="278.3" stroke="#000" stroke-width="2" stroke-linecap="butt" />
<line x1="1808.6" y1="279.3" x2="1824.6" y2="279.3" stroke="#000" stroke-width="2" stroke-linecap="butt" />
<line x1="1816.6" y1="320.6" x2="1816.6" y2="321.6" stroke="#000" stroke-width="2" stroke-linecap="butt" />
<line x1="1808.6" y1="320.6" x2="1824.6" y2="320.6" stroke="#000" stroke-width="2" stroke-linecap="butt" />
<line x1="1808.6" y1="321.6" x2="1824.6" y2="321.6" stroke="#000" stroke-width="2" stroke-linecap="butt" />
<line x1="1886.7" y1="120.8" x2="1886.7" y2="121.8" stroke="#000" stroke-width="2" stroke-linecap="butt" />
<line x1="1878.7" y1="120.8" x2="1894.7" y2="120.8" stroke="#000" stroke-width="2" stroke-linecap="butt" />
<line x1="1878.7" y1="121.8" x2="1894.7" y2="121.8" stroke="#000" stroke-width="2" stroke-linecap="butt" />
<line x1="1886.7" y1="212.1" x2="1886.7" y2="213.1" stroke="#000" stroke-width="2" stroke-linecap="butt" />
<line x1="1878.7" y1="212.1" x2="1894.7" y2="212.1" stroke="#000" stroke-width="2" stroke-linecap="butt" />
<line x1="1878.7" y1="213.1" x2="1894.7" y2="213.1" stroke="#000" stroke-width="2" stroke-linecap="butt" />
<polyline points="1677.1,364.3 1747.2,334.5 1816.6,278.8 1886.7,121.3" fill="none" stroke="#5B9BD5" stroke-width="5.3" stroke-linejoin="round" stroke-linecap="round"/>
<polygon points="1677.1,358 1683.4,364.3 1677.1,370.6 1670.8,364.3" fill="#5B9BD5" stroke="none" stroke-width="0"/>
<polygon points="1747.2,328.2 1753.5,334.5 1747.2,340.8 1740.9,334.5" fill="#5B9BD5" stroke="none" stroke-width="0"/>
<polygon points="1816.6,272.5 1822.9,278.8 1816.6,285.1 1810.3,278.8" fill="#5B9BD5" stroke="none" stroke-width="0"/>
<polygon points="1886.7,115 1893,121.3 1886.7,127.6 1880.4,121.3" fill="#5B9BD5" stroke="none" stroke-width="0"/>
<polyline points="1677.1,355.4 1747.2,345.3 1816.6,321.1 1886.7,212.6" fill="none" stroke="#ED7D31" stroke-width="5.3" stroke-linejoin="round" stroke-linecap="round"/>
<polygon points="1677.1,349.1 1683.4,355.4 1677.1,361.7 1670.8,355.4" fill="#ED7D31" stroke="none" stroke-width="0"/>
<polygon points="1747.2,339 1753.5,345.3 1747.2,351.6 1740.9,345.3" fill="#ED7D31" stroke="none" stroke-width="0"/>
<polygon points="1816.6,314.8 1822.9,321.1 1816.6,327.4 1810.3,321.1" fill="#ED7D31" stroke="none" stroke-width="0"/>
<polygon points="1886.7,206.3 1893,212.6 1886.7,218.9 1880.4,212.6" fill="#ED7D31" stroke="none" stroke-width="0"/>
<line x1="1644.3" y1="71" x2="1668.1" y2="71" stroke="#5B9BD5" stroke-width="3.4" stroke-linecap="butt" />
<line x1="1644.3" y1="97.8" x2="1668.1" y2="97.8" stroke="#ED7D31" stroke-width="3.4" stroke-linecap="butt" />
<text font-size="26.7" text-anchor="start" fill="#000" font-style="italic" textLength="61.34" lengthAdjust="spacingAndGlyphs" x="1686.11" y="79.9" >siCTL</text>
<text font-size="26.7" text-anchor="start" fill="#000" font-style="italic" textLength="130.96" lengthAdjust="spacingAndGlyphs" x="1686.1" y="107.3" >sihnRNPA1</text>
<path d="M1894.1 123.7 H1903.1 V209.6 H1894.1" fill="none" stroke="#000" stroke-width="1.9" stroke-linejoin="round"/>
<text class="st" font-size="22" text-anchor="middle"><tspan x="1895.6" y="164.55">*</tspan><tspan x="1895.6" y="179.33">*</tspan><tspan x="1895.6" y="194.11">*</tspan></text>
<text font-size="40" text-anchor="start" fill="#000" font-weight="bold" textLength="22.42" lengthAdjust="spacingAndGlyphs" x="3.81" y="510.7" >e</text>
<line x1="189.6" y1="627.1" x2="214.7" y2="627.1" stroke="#5B9BD5" stroke-width="3.2" stroke-linecap="butt" />
<line x1="189.6" y1="658.9" x2="214.7" y2="658.9" stroke="#ED7D31" stroke-width="3.2" stroke-linecap="butt" />
<line x1="189.6" y1="691.1" x2="214.7" y2="691.1" stroke="#A5A5A5" stroke-width="3.2" stroke-linecap="butt" />
<line x1="189.6" y1="723.3" x2="214.7" y2="723.3" stroke="#70AD47" stroke-width="3.2" stroke-linecap="butt" />
<line x1="189.6" y1="755.2" x2="214.7" y2="755.2" stroke="#4472C4" stroke-width="3.2" stroke-linecap="butt" />
<line x1="189.6" y1="787" x2="214.7" y2="787" stroke="#FFC000" stroke-width="3.2" stroke-linecap="butt" />
<line x1="189.6" y1="818.9" x2="214.7" y2="818.9" stroke="#A9C6E8" stroke-width="3.2" stroke-linecap="butt" />
<text font-size="26.7" text-anchor="start" fill="#000" font-style="italic" textLength="61.45" lengthAdjust="spacingAndGlyphs" x="232.71" y="637.1" >siCTL</text>
<text font-size="26.7" text-anchor="start" fill="#000" textLength="187.19" lengthAdjust="spacingAndGlyphs" x="232.7" y="669.3" ><tspan font-style="italic">sihnRNPA1</tspan><tspan font-style="normal">+CTL</tspan></text>
<text font-size="26.7" text-anchor="start" fill="#000" textLength="184.35" lengthAdjust="spacingAndGlyphs" x="232.7" y="700.8" ><tspan font-style="italic">sihnRNPA1</tspan><tspan font-style="normal">+WT</tspan></text>
<text font-size="26.7" text-anchor="start" fill="#000" textLength="250.95" lengthAdjust="spacingAndGlyphs" x="232.7" y="733" ><tspan font-style="italic">sihnRNPA1</tspan><tspan font-style="normal">+R/K(457)</tspan></text>
<text font-size="26.7" text-anchor="start" fill="#000" textLength="220.61" lengthAdjust="spacingAndGlyphs" x="232.7" y="765.2" ><tspan font-style="italic">sihnRNPA1</tspan><tspan font-style="normal">+R/K(4)</tspan></text>
<text font-size="26.7" text-anchor="start" fill="#000" textLength="220.61" lengthAdjust="spacingAndGlyphs" x="232.7" y="797" ><tspan font-style="italic">sihnRNPA1</tspan><tspan font-style="normal">+R/K(5)</tspan></text>
<text font-size="26.7" text-anchor="start" fill="#000" textLength="220.61" lengthAdjust="spacingAndGlyphs" x="232.7" y="829.2" ><tspan font-style="italic">sihnRNPA1</tspan><tspan font-style="normal">+R/K(7)</tspan></text>
<path d="M447.2 660.4 H456.2 V690.1 H447.2" fill="none" stroke="#000" stroke-width="1.9" stroke-linejoin="round"/>
<text class="st" font-size="22" text-anchor="middle"><tspan x="473" y="672.45">*</tspan><tspan x="473" y="687.08">*</tspan><tspan x="473" y="701.71">*</tspan></text>
<line x1="504.8" y1="679.3" x2="504.8" y2="836.7" stroke="#000" stroke-width="1.8" stroke-linecap="butt" />
<text font-size="26.7" text-anchor="start" fill="#000" textLength="112.79" lengthAdjust="spacingAndGlyphs" transform="translate(525.2,700.62) rotate(90)" x="0" y="0" >hnRNPA1</text>
<path d="M167.2 630.7 H159.2 V661.4 H167.2" fill="none" stroke="#000" stroke-width="1.9" stroke-linejoin="round"/>
<text class="st" font-size="22" text-anchor="middle"><tspan x="140.6" y="643.45">*</tspan><tspan x="140.6" y="658.08">*</tspan><tspan x="140.6" y="672.71">*</tspan></text>
<path d="M167.2 693.3 H159.2 V723.3 H167.2" fill="none" stroke="#000" stroke-width="1.9" stroke-linejoin="round"/>
<text class="st" font-size="22" text-anchor="middle"><tspan x="140.6" y="705.35">*</tspan><tspan x="140.6" y="719.98">*</tspan><tspan x="140.6" y="734.61">*</tspan></text>
<path d="M126.1 694.7 H118.1 V752.7 H126.1" fill="none" stroke="#000" stroke-width="1.9" stroke-linejoin="round"/>
<text class="st" font-size="22" text-anchor="middle"><tspan x="103" y="722.55">*</tspan><tspan x="103" y="737.03">*</tspan><tspan x="103" y="751.51">*</tspan></text>
<path d="M87.8 694.3 H79.8 V787.7 H87.8" fill="none" stroke="#000" stroke-width="1.9" stroke-linejoin="round"/>
<text class="st" font-size="22" text-anchor="middle"><tspan x="66.2" y="742.85">*</tspan><tspan x="66.2" y="757.18">*</tspan><tspan x="66.2" y="771.51">*</tspan></text>
<path d="M45.6 692.6 H37.6 V817.1 H45.6" fill="none" stroke="#000" stroke-width="1.9" stroke-linejoin="round"/>
<text class="st" font-size="22" text-anchor="middle"><tspan x="22.2" y="756.45">*</tspan><tspan x="22.2" y="770.58">*</tspan><tspan x="22.2" y="784.71">*</tspan></text>
<line x1="159.6" y1="874.15" x2="159.6" y2="1334.35" stroke="#000" stroke-width="1.9" stroke-linecap="butt" />
<line x1="150.3" y1="1333.4" x2="571.65" y2="1333.4" stroke="#000" stroke-width="1.9" stroke-linecap="butt" />
<line x1="150.3" y1="1333.4" x2="159.6" y2="1333.4" stroke="#000" stroke-width="1.9" stroke-linecap="butt" />
<text font-size="27" text-anchor="start" fill="#000" textLength="37.05" lengthAdjust="spacingAndGlyphs" x="95.26" y="1342.1" >0.0</text>
<line x1="150.3" y1="1257.02" x2="159.6" y2="1257.02" stroke="#000" stroke-width="1.9" stroke-linecap="butt" />
<text font-size="27" text-anchor="start" fill="#000" textLength="37.34" lengthAdjust="spacingAndGlyphs" x="95.25" y="1265.72" >0.1</text>
<line x1="150.3" y1="1180.63" x2="159.6" y2="1180.63" stroke="#000" stroke-width="1.9" stroke-linecap="butt" />
<text font-size="27" text-anchor="start" fill="#000" textLength="37.48" lengthAdjust="spacingAndGlyphs" x="95.25" y="1189.33" >0.2</text>
<line x1="150.3" y1="1104.25" x2="159.6" y2="1104.25" stroke="#000" stroke-width="1.9" stroke-linecap="butt" />
<text font-size="27" text-anchor="start" fill="#000" textLength="37.19" lengthAdjust="spacingAndGlyphs" x="95.25" y="1112.95" >0.3</text>
<line x1="150.3" y1="1027.87" x2="159.6" y2="1027.87" stroke="#000" stroke-width="1.9" stroke-linecap="butt" />
<text font-size="27" text-anchor="start" fill="#000" textLength="36.91" lengthAdjust="spacingAndGlyphs" x="95.26" y="1036.57" >0.4</text>
<line x1="150.3" y1="951.48" x2="159.6" y2="951.48" stroke="#000" stroke-width="1.9" stroke-linecap="butt" />
<text font-size="27" text-anchor="start" fill="#000" textLength="37.19" lengthAdjust="spacingAndGlyphs" x="95.25" y="960.18" >0.5</text>
<line x1="150.3" y1="875.1" x2="159.6" y2="875.1" stroke="#000" stroke-width="1.9" stroke-linecap="butt" />
<text font-size="27" text-anchor="start" fill="#000" textLength="37.19" lengthAdjust="spacingAndGlyphs" x="95.25" y="883.8" >0.6</text>
<line x1="159.6" y1="1333.4" x2="159.6" y2="1343.2" stroke="#000" stroke-width="1.9" stroke-linecap="butt" />
<line x1="262.4" y1="1333.4" x2="262.4" y2="1343.2" stroke="#000" stroke-width="1.9" stroke-linecap="butt" />
<line x1="365.2" y1="1333.4" x2="365.2" y2="1343.2" stroke="#000" stroke-width="1.9" stroke-linecap="butt" />
<line x1="468" y1="1333.4" x2="468" y2="1343.2" stroke="#000" stroke-width="1.9" stroke-linecap="butt" />
<line x1="570.7" y1="1333.4" x2="570.7" y2="1343.2" stroke="#000" stroke-width="1.9" stroke-linecap="butt" />
<text font-size="27" text-anchor="start" fill="#000" textLength="13.69" lengthAdjust="spacingAndGlyphs" x="203.9" y="1379.2" >1</text>
<text font-size="27" text-anchor="start" fill="#000" textLength="13.72" lengthAdjust="spacingAndGlyphs" x="306.96" y="1379.2" >2</text>
<text font-size="27" text-anchor="start" fill="#000" textLength="13.74" lengthAdjust="spacingAndGlyphs" x="409.65" y="1379.2" >3</text>
<text font-size="27" text-anchor="start" fill="#000" textLength="13.77" lengthAdjust="spacingAndGlyphs" x="512.75" y="1379.2" >4</text>
<text font-size="26.7" text-anchor="start" fill="#000" textLength="44.93" lengthAdjust="spacingAndGlyphs" x="113.8" y="1379.2" >Day</text>
<text font-size="26.7" text-anchor="start" fill="#000" textLength="69.11" lengthAdjust="spacingAndGlyphs" x="320.89" y="870.4" >MCF7</text>
<text font-size="26.7" text-anchor="start" fill="#000" textLength="224.42" lengthAdjust="spacingAndGlyphs" transform="translate(37.6,1229.03) rotate(-90)" x="0" y="0" >Normalized Values</text>
<text font-size="26.7" text-anchor="start" fill="#000" textLength="257.91" lengthAdjust="spacingAndGlyphs" transform="translate(73.3,1241.38) rotate(-90)" x="0" y="0" >(Absorbance 490 nm)</text>
<line x1="519.5" y1="921.57" x2="519.5" y2="930.52" stroke="#000" stroke-width="2" stroke-linecap="butt" />
<line x1="511.5" y1="921.57" x2="527.5" y2="921.57" stroke="#000" stroke-width="2" stroke-linecap="butt" />
<line x1="511.5" y1="930.52" x2="527.5" y2="930.52" stroke="#000" stroke-width="2" stroke-linecap="butt" />
<line x1="519.5" y1="954.49" x2="519.5" y2="960.57" stroke="#000" stroke-width="2" stroke-linecap="butt" />
<line x1="511.5" y1="954.49" x2="527.5" y2="954.49" stroke="#000" stroke-width="2" stroke-linecap="butt" />
<line x1="511.5" y1="960.57" x2="527.5" y2="960.57" stroke="#000" stroke-width="2" stroke-linecap="butt" />
<line x1="519.5" y1="1023.54" x2="519.5" y2="1027.84" stroke="#000" stroke-width="2" stroke-linecap="butt" />
<line x1="513.5" y1="1023.54" x2="525.5" y2="1023.54" stroke="#000" stroke-width="2" stroke-linecap="butt" />
<line x1="513.5" y1="1027.84" x2="525.5" y2="1027.84" stroke="#000" stroke-width="2" stroke-linecap="butt" />
<line x1="211.1" y1="1271.13" x2="211.1" y2="1275.78" stroke="#000" stroke-width="2" stroke-linecap="butt" />
<line x1="204.1" y1="1271.13" x2="218.1" y2="1271.13" stroke="#000" stroke-width="2" stroke-linecap="butt" />
<line x1="204.1" y1="1275.78" x2="218.1" y2="1275.78" stroke="#000" stroke-width="2" stroke-linecap="butt" />
<line x1="313.8" y1="1208.52" x2="313.8" y2="1212.09" stroke="#000" stroke-width="2" stroke-linecap="butt" />
<line x1="306.8" y1="1208.52" x2="320.8" y2="1208.52" stroke="#000" stroke-width="2" stroke-linecap="butt" />
<line x1="306.8" y1="1212.09" x2="320.8" y2="1212.09" stroke="#000" stroke-width="2" stroke-linecap="butt" />
<line x1="416.5" y1="1165.58" x2="416.5" y2="1169.16" stroke="#000" stroke-width="2" stroke-linecap="butt" />
<line x1="409.5" y1="1165.58" x2="423.5" y2="1165.58" stroke="#000" stroke-width="2" stroke-linecap="butt" />
<line x1="409.5" y1="1169.16" x2="423.5" y2="1169.16" stroke="#000" stroke-width="2" stroke-linecap="butt" />
<polyline points="211.1,1272.92 313.8,1210.3 416.5,1167.37 519.5,925.87" fill="none" stroke="#4F8BC1" stroke-width="5.2" stroke-linejoin="round" stroke-linecap="round"/>
<polygon points="211.1,1267.12 216.9,1272.92 211.1,1278.72 205.3,1272.92" fill="#4F8BC1" stroke="none" stroke-width="0"/>
<polygon points="313.8,1204.5 319.6,1210.3 313.8,1216.1 308,1210.3" fill="#4F8BC1" stroke="none" stroke-width="0"/>
<polygon points="416.5,1161.57 422.3,1167.37 416.5,1173.17 410.7,1167.37" fill="#4F8BC1" stroke="none" stroke-width="0"/>
<polygon points="519.5,920.07 525.3,925.87 519.5,931.67 513.7,925.87" fill="#4F8BC1" stroke="none" stroke-width="0"/>
<polyline points="211.1,1276.49 313.8,1242.5 416.5,1204.94 519.5,1052.16" fill="none" stroke="#E9AF0E" stroke-width="5.2" stroke-linejoin="round" stroke-linecap="round"/>
<line x1="205.3" y1="1270.69" x2="216.9" y2="1282.29" stroke="#E9AF0E" stroke-width="1.3" stroke-linecap="butt" />
<line x1="205.3" y1="1282.29" x2="216.9" y2="1270.69" stroke="#E9AF0E" stroke-width="1.3" stroke-linecap="butt" />
<line x1="308" y1="1236.7" x2="319.6" y2="1248.3" stroke="#E9AF0E" stroke-width="1.3" stroke-linecap="butt" />
<line x1="308" y1="1248.3" x2="319.6" y2="1236.7" stroke="#E9AF0E" stroke-width="1.3" stroke-linecap="butt" />
<line x1="410.7" y1="1199.14" x2="422.3" y2="1210.74" stroke="#E9AF0E" stroke-width="1.3" stroke-linecap="butt" />
<line x1="410.7" y1="1210.74" x2="422.3" y2="1199.14" stroke="#E9AF0E" stroke-width="1.3" stroke-linecap="butt" />
<line x1="513.7" y1="1046.36" x2="525.3" y2="1057.96" stroke="#E9AF0E" stroke-width="1.3" stroke-linecap="butt" />
<line x1="513.7" y1="1057.96" x2="525.3" y2="1046.36" stroke="#E9AF0E" stroke-width="1.3" stroke-linecap="butt" />
<polyline points="211.1,1272.92 313.8,1234.63 416.5,1213.88 519.5,1017.1" fill="none" stroke="#3E68B4" stroke-width="5.2" stroke-linejoin="round" stroke-linecap="round"/>
<line x1="205.3" y1="1267.12" x2="216.9" y2="1278.72" stroke="#3E68B4" stroke-width="1.3" stroke-linecap="butt" />
<line x1="205.3" y1="1278.72" x2="216.9" y2="1267.12" stroke="#3E68B4" stroke-width="1.3" stroke-linecap="butt" />
<line x1="211.1" y1="1267.12" x2="211.1" y2="1278.72" stroke="#3E68B4" stroke-width="1.3" stroke-linecap="butt" />
<line x1="308" y1="1228.83" x2="319.6" y2="1240.43" stroke="#3E68B4" stroke-width="1.3" stroke-linecap="butt" />
<line x1="308" y1="1240.43" x2="319.6" y2="1228.83" stroke="#3E68B4" stroke-width="1.3" stroke-linecap="butt" />
<line x1="313.8" y1="1228.83" x2="313.8" y2="1240.43" stroke="#3E68B4" stroke-width="1.3" stroke-linecap="butt" />
<line x1="410.7" y1="1208.08" x2="422.3" y2="1219.68" stroke="#3E68B4" stroke-width="1.3" stroke-linecap="butt" />
<line x1="410.7" y1="1219.68" x2="422.3" y2="1208.08" stroke="#3E68B4" stroke-width="1.3" stroke-linecap="butt" />
<line x1="416.5" y1="1208.08" x2="416.5" y2="1219.68" stroke="#3E68B4" stroke-width="1.3" stroke-linecap="butt" />
<line x1="513.7" y1="1011.3" x2="525.3" y2="1022.9" stroke="#3E68B4" stroke-width="1.3" stroke-linecap="butt" />
<line x1="513.7" y1="1022.9" x2="525.3" y2="1011.3" stroke="#3E68B4" stroke-width="1.3" stroke-linecap="butt" />
<line x1="519.5" y1="1011.3" x2="519.5" y2="1022.9" stroke="#3E68B4" stroke-width="1.3" stroke-linecap="butt" />
<polyline points="211.1,1283.65 313.8,1231.06 416.5,1186.33 519.5,1028.55" fill="none" stroke="#D9742E" stroke-width="5.2" stroke-linejoin="round" stroke-linecap="round"/>
<polygon points="211.1,1277.85 216.9,1283.65 211.1,1289.45 205.3,1283.65" fill="#D9742E" stroke="none" stroke-width="0"/>
<polygon points="313.8,1225.26 319.6,1231.06 313.8,1236.86 308,1231.06" fill="#D9742E" stroke="none" stroke-width="0"/>
<polygon points="416.5,1180.53 422.3,1186.33 416.5,1192.13 410.7,1186.33" fill="#D9742E" stroke="none" stroke-width="0"/>
<polygon points="519.5,1022.75 525.3,1028.55 519.5,1034.35 513.7,1028.55" fill="#D9742E" stroke="none" stroke-width="0"/>
<polyline points="211.1,1271.13 313.8,1238.93 416.5,1190.63 519.5,958.78" fill="none" stroke="#9A9A9A" stroke-width="5.2" stroke-linejoin="round" stroke-linecap="round"/>
<polygon points="211.1,1265.33 216.9,1276.35 205.3,1276.35" fill="#9A9A9A" stroke="none" stroke-width="0"/>
<polygon points="313.8,1233.13 319.6,1244.15 308,1244.15" fill="#9A9A9A" stroke="none" stroke-width="0"/>
<polygon points="416.5,1184.83 422.3,1195.85 410.7,1195.85" fill="#9A9A9A" stroke="none" stroke-width="0"/>
<polygon points="519.5,952.98 525.3,964 513.7,964" fill="#9A9A9A" stroke="none" stroke-width="0"/>
<polyline points="211.1,1267.55 313.8,1241.43 416.5,1201.36 519.5,1037.85" fill="none" stroke="#64A044" stroke-width="5.2" stroke-linejoin="round" stroke-linecap="round"/>
<circle cx="211.1" cy="1267.55" r="5.8" fill="#64A044"/>
<circle cx="313.8" cy="1241.43" r="5.8" fill="#64A044"/>
<circle cx="416.5" cy="1201.36" r="5.8" fill="#64A044"/>
<circle cx="519.5" cy="1037.85" r="5.8" fill="#64A044"/>
<polyline points="211.1,1272.92 313.8,1240 416.5,1195.99 519.5,1026.05" fill="none" stroke="#9BBEE4" stroke-width="5.2" stroke-linejoin="round" stroke-linecap="round"/>
<polygon points="211.1,1268.42 215.6,1272.92 211.1,1277.42 206.6,1272.92" fill="#9BBEE4" stroke="none" stroke-width="0"/>
<polygon points="313.8,1235.5 318.3,1240 313.8,1244.5 309.3,1240" fill="#9BBEE4" stroke="none" stroke-width="0"/>
<polygon points="416.5,1191.49 421,1195.99 416.5,1200.49 412,1195.99" fill="#9BBEE4" stroke="none" stroke-width="0"/>
<polygon points="519.5,1021.55 524,1026.05 519.5,1030.55 515,1026.05" fill="#9BBEE4" stroke="none" stroke-width="0"/>
<text font-size="40" text-anchor="start" fill="#000" font-weight="bold" textLength="14" lengthAdjust="spacingAndGlyphs" x="642.69" y="510.6" >f</text>
<text font-size="26.7" text-anchor="start" fill="#000" textLength="69.42" lengthAdjust="spacingAndGlyphs" x="852.78" y="606.1" >MCF7</text>
<line x1="724.4" y1="620.4" x2="1062.2" y2="620.4" stroke="#000" stroke-width="1.8" stroke-linecap="butt" />
<text font-size="26.7" text-anchor="start" fill="#000" textLength="80.36" lengthAdjust="spacingAndGlyphs" transform="translate(722.3,777.3) rotate(-90)" x="0" y="0" >M (bp)</text>
<text font-size="26.7" text-anchor="start" fill="#000" font-style="italic" textLength="59.59" lengthAdjust="spacingAndGlyphs" transform="translate(767,773.09) rotate(-90)" x="0" y="0" >siCTL</text>
<text font-size="26.7" text-anchor="start" fill="#000" font-style="italic" textLength="127.46" lengthAdjust="spacingAndGlyphs" transform="translate(812.3,773.1) rotate(-90)" x="0" y="0" >siPRMT4-1</text>
<text font-size="26.7" text-anchor="start" fill="#000" font-style="italic" textLength="125.67" lengthAdjust="spacingAndGlyphs" transform="translate(857.02,773.1) rotate(-90)" x="0" y="0" >siPRMT4-2</text>
<text font-size="26.7" text-anchor="start" fill="#000" font-style="italic" textLength="127.46" lengthAdjust="spacingAndGlyphs" transform="translate(901.74,773.1) rotate(-90)" x="0" y="0" >siPRMT5-1</text>
<text font-size="26.7" text-anchor="start" fill="#000" font-style="italic" textLength="125.67" lengthAdjust="spacingAndGlyphs" transform="translate(946.46,773.1) rotate(-90)" x="0" y="0" >siPRMT5-2</text>
<text font-size="26.7" text-anchor="start" fill="#000" font-style="italic" textLength="127.46" lengthAdjust="spacingAndGlyphs" transform="translate(991.18,773.1) rotate(-90)" x="0" y="0" >siPRMT7-1</text>
<text font-size="26.7" text-anchor="start" fill="#000" font-style="italic" textLength="125.67" lengthAdjust="spacingAndGlyphs" transform="translate(1035.9,773.1) rotate(-90)" x="0" y="0" >siPRMT7-2</text>
<clipPath id="c1"><rect x="736.32" y="781.9" width="321.05" height="86.54"/></clipPath>
<g clip-path="url(#c1)">
<rect x="736.32" y="781.9" width="321.05" height="86.54" fill="url(#lg1)" stroke="none" stroke-width="0" />
<g filter="url(#g15_25)"><rect x="736.32" y="781.9" width="321.05" height="86.54" fill="none"/>
<path d="M743.91 805.08 Q762.96 804.93 782.01 803.58" fill="none" stroke="#000" stroke-width="5.1" opacity="0.97"/>
<path d="M788.99 803.74 Q807.63 803.59 826.28 802.24" fill="none" stroke="#000" stroke-width="5.1" opacity="0.57"/>
<path d="M834.6 801.86 Q851.91 801.71 869.21 800.36" fill="none" stroke="#000" stroke-width="5.1" opacity="0.47"/>
<path d="M878.07 801.86 Q895.77 801.71 913.48 800.36" fill="none" stroke="#000" stroke-width="5.1" opacity="0.39"/>
<path d="M921 798.38 Q938.7 798.23 956.41 796.88" fill="none" stroke="#000" stroke-width="5.1" opacity="0.47"/>
<path d="M963.93 800.25 Q982.98 800.1 1002.03 798.75" fill="none" stroke="#000" stroke-width="5.1" opacity="0.23"/>
<path d="M1008.2 796.5 Q1026.58 796.35 1044.96 795" fill="none" stroke="#000" stroke-width="5.1" opacity="0.54"/>
<path d="M743.91 827.35 Q762.96 827.2 782.01 825.85" fill="none" stroke="#000" stroke-width="5.4" opacity="0.4"/>
<path d="M788.99 826.55 Q807.63 826.4 826.28 825.05" fill="none" stroke="#000" stroke-width="5.4" opacity="1"/>
<path d="M834.6 825.21 Q851.91 825.06 869.21 823.71" fill="none" stroke="#000" stroke-width="5.4" opacity="0.97"/>
<path d="M878.07 825.21 Q895.77 825.06 913.48 823.71" fill="none" stroke="#000" stroke-width="5.4" opacity="1"/>
<path d="M921 821.99 Q938.7 821.84 956.41 820.49" fill="none" stroke="#000" stroke-width="5.4" opacity="0.89"/>
<path d="M963.93 822.79 Q982.98 822.64 1002.03 821.29" fill="none" stroke="#000" stroke-width="5.4" opacity="1"/>
<path d="M1008.2 819.84 Q1026.58 819.69 1044.96 818.34" fill="none" stroke="#000" stroke-width="5.4" opacity="0.94"/>
</g>
</g>
<rect x="736.32" y="781.9" width="321.05" height="86.54" fill="none" stroke="#000" stroke-width="3" />
<clipPath id="c2"><rect x="703.86" y="781.9" width="23.49" height="86.54"/></clipPath>
<g clip-path="url(#c2)">
<rect x="703.86" y="781.9" width="23.49" height="86.54" fill="#C6C6C6" stroke="none" stroke-width="0" />
<g filter="url(#g25_20)"><rect x="703.86" y="781.9" width="23.49" height="86.54" fill="none"/>
<rect x="705" y="792.22" width="21.46" height="4.2" fill="#000" opacity="0.23"/>
<rect x="705" y="809.12" width="21.46" height="4.2" fill="#000" opacity="0.23"/>
</g>
<g filter="url(#g15_25)"><rect x="703.86" y="781.9" width="23.49" height="86.54" fill="none"/>
<rect x="705.81" y="825.46" width="19.32" height="4.8" fill="#000" opacity="0.97"/>
</g>
</g>
<rect x="703.86" y="781.9" width="23.49" height="86.54" fill="none" stroke="#000" stroke-width="3" />
<polygon points="1059,795.12 1078.5,784.32 1078.5,805.92" fill="#000" stroke="none" stroke-width="0"/>
<line x1="1078" y1="795.12" x2="1090" y2="795.12" stroke="#000" stroke-width="1.5" stroke-linecap="butt" />
<polygon points="1059,817.13 1078.5,806.33 1078.5,827.93" fill="#000" stroke="none" stroke-width="0"/>
<line x1="1078" y1="817.13" x2="1090" y2="817.13" stroke="#000" stroke-width="1.5" stroke-linecap="butt" />
<text font-size="20.3" text-anchor="start" fill="#000" textLength="33.32" lengthAdjust="spacingAndGlyphs" x="657.43" y="814.4" >500</text>
<text font-size="20.3" text-anchor="start" fill="#000" textLength="33.53" lengthAdjust="spacingAndGlyphs" x="657.22" y="836.2" >250</text>
<text font-size="26.7" text-anchor="start" fill="#000" font-style="italic" textLength="79.9" lengthAdjust="spacingAndGlyphs" x="856.5" y="910.2" >PPARA</text>
<clipPath id="c3"><rect x="736.32" y="931.9" width="321.05" height="84.66"/></clipPath>
<g clip-path="url(#c3)">
<rect x="736.32" y="931.9" width="321.05" height="84.66" fill="#CFCFCF" stroke="none" stroke-width="0" />
<g filter="url(#g35_40)"><rect x="736.32" y="931.9" width="321.05" height="84.66" fill="none"/>
<rect x="789.52" y="938.98" width="36.22" height="30" fill="#000" opacity="0.17"/>
<rect x="834.6" y="938.98" width="35.42" height="30" fill="#000" opacity="0.17"/>
<rect x="878.6" y="939.51" width="35.69" height="30" fill="#000" opacity="0.17"/>
<rect x="923.14" y="939.51" width="35.42" height="30" fill="#000" opacity="0.17"/>
<rect x="967.95" y="934.15" width="36.22" height="30" fill="#000" opacity="0.17"/>
<rect x="1013.56" y="939.51" width="36.22" height="30" fill="#000" opacity="0.17"/>
</g>
<g filter="url(#g15_25)"><rect x="736.32" y="931.9" width="321.05" height="84.66" fill="none"/>
<path d="M789.52 968.49 Q807.63 972.89 825.74 968.49" fill="none" stroke="#000" stroke-width="4.8" opacity="0.79"/>
<path d="M834.6 968.49 Q852.31 972.89 870.02 968.49" fill="none" stroke="#000" stroke-width="4.8" opacity="0.79"/>
<path d="M878.6 969.29 Q896.44 973.69 914.29 969.29" fill="none" stroke="#000" stroke-width="4.8" opacity="0.64"/>
<path d="M923.14 969.29 Q940.85 973.69 958.56 969.29" fill="none" stroke="#000" stroke-width="4.8" opacity="0.79"/>
<path d="M967.95 963.12 Q986.06 967.52 1004.17 963.12" fill="none" stroke="#000" stroke-width="4.8" opacity="0.79"/>
<path d="M1013.56 969.83 Q1031.67 974.23 1049.79 969.83" fill="none" stroke="#000" stroke-width="4.8" opacity="0.89"/>
<path d="M745.25 987.87 Q762.96 990.27 780.67 987.87" fill="none" stroke="#000" stroke-width="4.8" opacity="0.6"/>
<path d="M789.52 987.87 Q807.63 990.27 825.74 987.87" fill="none" stroke="#000" stroke-width="4.8" opacity="0.6"/>
<path d="M834.6 987.87 Q852.31 990.27 870.02 987.87" fill="none" stroke="#000" stroke-width="4.8" opacity="0.6"/>
<path d="M878.6 990.55 Q896.44 992.95 914.29 990.55" fill="none" stroke="#000" stroke-width="4.8" opacity="0.6"/>
<path d="M923.14 989.21 Q940.85 991.61 958.56 989.21" fill="none" stroke="#000" stroke-width="4.8" opacity="0.54"/>
<path d="M967.95 983.31 Q986.06 985.71 1004.17 983.31" fill="none" stroke="#000" stroke-width="4.8" opacity="0.4"/>
<path d="M1013.56 988.41 Q1031.67 990.81 1049.79 988.41" fill="none" stroke="#000" stroke-width="4.8" opacity="0.54"/>
</g>
<g filter="url(#g25_25)"><rect x="736.32" y="931.9" width="321.05" height="84.66" fill="none"/>
<rect x="745.25" y="972.16" width="35.42" height="13" fill="#000" opacity="0.2"/>
<rect x="789.52" y="974.31" width="36.22" height="13" fill="#000" opacity="0.22"/>
<rect x="834.6" y="974.31" width="35.42" height="13" fill="#000" opacity="0.22"/>
<rect x="878.6" y="976.19" width="35.69" height="13" fill="#000" opacity="0.22"/>
<rect x="923.14" y="975.38" width="35.42" height="13" fill="#000" opacity="0.2"/>
<rect x="967.95" y="970.82" width="36.22" height="13" fill="#000" opacity="0.1"/>
<rect x="1013.56" y="974.85" width="36.22" height="13" fill="#000" opacity="0.2"/>
</g>
<g filter="url(#g25_30)"><rect x="736.32" y="931.9" width="321.05" height="84.66" fill="none"/>
<rect x="745.25" y="955.22" width="35.42" height="12" fill="#fff" opacity="0.25"/>
</g>
</g>
<rect x="736.32" y="931.9" width="321.05" height="84.66" fill="none" stroke="#000" stroke-width="3" />
<clipPath id="c4"><rect x="703.86" y="931.9" width="23.49" height="86.01"/></clipPath>
<g clip-path="url(#c4)">
<rect x="703.86" y="931.9" width="23.49" height="86.01" fill="#CDCDCD" stroke="none" stroke-width="0" />
<g filter="url(#g25_50)"><rect x="703.86" y="931.9" width="23.49" height="86.01" fill="none"/>
<rect x="705" y="934.96" width="18.78" height="9.6" fill="#000" opacity="0.31"/>
</g>
<g filter="url(#g25_25)"><rect x="703.86" y="931.9" width="23.49" height="86.01" fill="none"/>
<rect x="705" y="986.16" width="18.78" height="5.4" fill="#000" opacity="0.43"/>
</g>
<g filter="url(#g35_50)"><rect x="703.86" y="931.9" width="23.49" height="86.01" fill="none"/>
<rect x="705" y="940.25" width="18.78" height="50" fill="#000" opacity="0.08"/>
</g>
</g>
<rect x="703.86" y="931.9" width="23.49" height="86.01" fill="none" stroke="#000" stroke-width="3" />
<polygon points="1059,965.78 1078.5,954.98 1078.5,976.58" fill="#000" stroke="none" stroke-width="0"/>
<line x1="1078" y1="965.78" x2="1090" y2="965.78" stroke="#000" stroke-width="1.5" stroke-linecap="butt" />
<polygon points="1059,982.69 1078.5,971.89 1078.5,993.49" fill="#000" stroke="none" stroke-width="0"/>
<line x1="1078" y1="982.69" x2="1090" y2="982.69" stroke="#444" stroke-width="1.5" stroke-linecap="butt" />
<text font-size="20.3" text-anchor="start" fill="#000" textLength="33.32" lengthAdjust="spacingAndGlyphs" x="657.43" y="950.5" >500</text>
<text font-size="20.3" text-anchor="start" fill="#000" textLength="33.53" lengthAdjust="spacingAndGlyphs" x="657.22" y="993.4" >250</text>
<text font-size="26.7" text-anchor="start" fill="#000" font-style="italic" textLength="86.96" lengthAdjust="spacingAndGlyphs" x="852.15" y="1057.2" >SREBF2</text>
<clipPath id="c5"><rect x="736.32" y="1079.59" width="321.05" height="84.66"/></clipPath>
<g clip-path="url(#c5)">
<rect x="736.32" y="1079.59" width="321.05" height="84.66" fill="#C5C5C5" stroke="none" stroke-width="0" />
<g filter="url(#g15_30)"><rect x="736.32" y="1079.59" width="321.05" height="84.66" fill="none"/>
<path d="M743.91 1096.86 Q762.69 1099.46 781.47 1096.86" fill="none" stroke="#000" stroke-width="6" opacity="1"/>
<path d="M788.99 1095.51 Q807.77 1098.11 826.55 1095.51" fill="none" stroke="#000" stroke-width="6" opacity="1"/>
<path d="M833.79 1095.51 Q853.25 1098.11 872.7 1095.51" fill="none" stroke="#000" stroke-width="6" opacity="1"/>
<path d="M879.41 1095.51 Q898.19 1098.11 916.97 1095.51" fill="none" stroke="#000" stroke-width="6" opacity="1"/>
<path d="M923.14 1095.51 Q942.19 1098.11 961.24 1095.51" fill="none" stroke="#000" stroke-width="6" opacity="1"/>
<path d="M967.41 1095.51 Q985.79 1098.11 1004.17 1095.51" fill="none" stroke="#000" stroke-width="6" opacity="1"/>
<path d="M1012.22 1095.51 Q1030.6 1098.11 1048.98 1095.51" fill="none" stroke="#000" stroke-width="6" opacity="1"/>
</g>
<g filter="url(#g15_20)"><rect x="736.32" y="1079.59" width="321.05" height="84.66" fill="none"/>
<rect x="743.91" y="1122.67" width="37.56" height="3.6" fill="#000" opacity="0.6"/>
</g>
</g>
<rect x="736.32" y="1079.59" width="321.05" height="84.66" fill="none" stroke="#000" stroke-width="3" />
<clipPath id="c6"><rect x="703.86" y="1079.59" width="23.49" height="85.2"/></clipPath>
<g clip-path="url(#c6)">
<rect x="703.86" y="1079.59" width="23.49" height="85.2" fill="#C6C6C6" stroke="none" stroke-width="0" />
<g filter="url(#g15_15)"><rect x="703.86" y="1079.59" width="23.49" height="85.2" fill="none"/>
<rect x="707.69" y="1085.94" width="16.1" height="3" fill="#000" opacity="0.21"/>
</g>
<g filter="url(#g15_20)"><rect x="703.86" y="1079.59" width="23.49" height="85.2" fill="none"/>
<rect x="707.69" y="1100.4" width="16.1" height="3.6" fill="#000" opacity="0.6"/>
<rect x="707.69" y="1117.3" width="16.1" height="3.6" fill="#000" opacity="0.54"/>
</g>
</g>
<rect x="703.86" y="1079.59" width="23.49" height="85.2" fill="none" stroke="#000" stroke-width="3" />
<polygon points="1059,1095.49 1078.5,1084.69 1078.5,1106.29" fill="#000" stroke="none" stroke-width="0"/>
<line x1="1078" y1="1095.49" x2="1090" y2="1095.49" stroke="#000" stroke-width="1.5" stroke-linecap="butt" />
<polygon points="1059,1121.78 1078.5,1110.98 1078.5,1132.58" fill="#000" stroke="none" stroke-width="0"/>
<line x1="1078" y1="1121.78" x2="1090" y2="1121.78" stroke="#000" stroke-width="1.5" stroke-linecap="butt" />
<text font-size="20.3" text-anchor="start" fill="#000" textLength="33.53" lengthAdjust="spacingAndGlyphs" x="657.22" y="1108.4" >250</text>
<text font-size="20.3" text-anchor="start" fill="#000" textLength="34.07" lengthAdjust="spacingAndGlyphs" x="656.69" y="1128.5" >100</text>
<text font-size="26.7" text-anchor="start" fill="#000" font-style="italic" textLength="94.04" lengthAdjust="spacingAndGlyphs" x="852.99" y="1206.2" >RAB27B</text>
<clipPath id="c7"><rect x="736.32" y="1225.83" width="321.05" height="85.2"/></clipPath>
<g clip-path="url(#c7)">
<rect x="736.32" y="1225.83" width="321.05" height="85.2" fill="#BFBFBF" stroke="none" stroke-width="0" />
<g filter="url(#g15_15)"><rect x="736.32" y="1225.83" width="321.05" height="85.2" fill="none"/>
<rect x="741.23" y="1242.67" width="35.42" height="11" fill="#000" opacity="0.22"/>
<rect x="786.84" y="1242.67" width="35.69" height="11" fill="#000" opacity="0.22"/>
<rect x="832.45" y="1242.67" width="35.42" height="11" fill="#000" opacity="0.25"/>
<rect x="878.07" y="1242.67" width="36.22" height="11" fill="#000" opacity="0.3"/>
<rect x="923.68" y="1242.67" width="36.22" height="11" fill="#000" opacity="0.3"/>
<rect x="970.1" y="1242.67" width="36.22" height="11" fill="#000" opacity="0.25"/>
<rect x="1017.05" y="1242.67" width="35.42" height="11" fill="#000" opacity="0.22"/>
<rect x="741.23" y="1271.74" width="35.42" height="3.3" fill="#000" opacity="1"/>
<rect x="786.84" y="1271.21" width="35.69" height="3.3" fill="#000" opacity="1"/>
<rect x="832.45" y="1271.21" width="35.42" height="3.3" fill="#000" opacity="1"/>
<rect x="878.07" y="1271.21" width="36.22" height="3.3" fill="#000" opacity="0.93"/>
<rect x="923.68" y="1270.4" width="36.22" height="3.3" fill="#000" opacity="0.86"/>
<rect x="970.1" y="1269.87" width="36.22" height="3.3" fill="#000" opacity="0.93"/>
<rect x="1017.05" y="1270.67" width="35.42" height="3.3" fill="#000" opacity="0.86"/>
</g>
<g filter="url(#g15_10)"><rect x="736.32" y="1225.83" width="321.05" height="85.2" fill="none"/>
<rect x="741.23" y="1251" width="35.42" height="2.4" fill="#000" opacity="0.29"/>
<rect x="786.84" y="1251" width="35.69" height="2.4" fill="#000" opacity="0.29"/>
<rect x="832.45" y="1251" width="35.42" height="2.4" fill="#000" opacity="0.36"/>
<rect x="878.07" y="1251" width="36.22" height="2.4" fill="#000" opacity="0.43"/>
<rect x="923.68" y="1249.66" width="36.22" height="2.4" fill="#000" opacity="0.57"/>
<rect x="970.1" y="1249.66" width="36.22" height="2.4" fill="#000" opacity="0.43"/>
<rect x="1017.05" y="1251" width="35.42" height="2.4" fill="#000" opacity="0.36"/>
</g>
</g>
<rect x="736.32" y="1225.83" width="321.05" height="85.2" fill="none" stroke="#000" stroke-width="3" />
<clipPath id="c8"><rect x="703.86" y="1226.37" width="23.49" height="85.74"/></clipPath>
<g clip-path="url(#c8)">
<rect x="703.86" y="1226.37" width="23.49" height="85.74" fill="#C4C4C4" stroke="none" stroke-width="0" />
<g filter="url(#g15_20)"><rect x="703.86" y="1226.37" width="23.49" height="85.74" fill="none"/>
<rect x="706.35" y="1235.64" width="18.78" height="3.6" fill="#000" opacity="0.29"/>
</g>
<g filter="url(#g15_15)"><rect x="703.86" y="1226.37" width="23.49" height="85.74" fill="none"/>
<rect x="706.35" y="1244.79" width="18.78" height="3" fill="#000" opacity="0.69"/>
</g>
</g>
<rect x="703.86" y="1226.37" width="23.49" height="85.74" fill="none" stroke="#000" stroke-width="3" />
<polygon points="1059,1256.22 1078.5,1245.42 1078.5,1267.02" fill="#000" stroke="none" stroke-width="0"/>
<line x1="1078" y1="1256.22" x2="1090" y2="1256.22" stroke="#000" stroke-width="1.5" stroke-linecap="butt" />
<polygon points="1059,1279.03 1078.5,1268.23 1078.5,1289.83" fill="#000" stroke="none" stroke-width="0"/>
<line x1="1078" y1="1279.03" x2="1090" y2="1279.03" stroke="#000" stroke-width="1.5" stroke-linecap="butt" />
<text font-size="20.3" text-anchor="start" fill="#000" textLength="34.07" lengthAdjust="spacingAndGlyphs" x="656.69" y="1254.9" >100</text>
<text font-size="26.7" text-anchor="start" fill="#000" font-style="italic" textLength="90.6" lengthAdjust="spacingAndGlyphs" x="850.76" y="1352.3" >WDPCP</text>
<clipPath id="c9"><rect x="736.32" y="1375.71" width="321.05" height="83.86"/></clipPath>
<g clip-path="url(#c9)">
<rect x="736.32" y="1375.71" width="321.05" height="83.86" fill="#BBBBBB" stroke="none" stroke-width="0" />
<g filter="url(#g35_50)"><rect x="736.32" y="1375.71" width="321.05" height="83.86" fill="none"/>
<rect x="745.25" y="1404.64" width="33.54" height="26" fill="#000" opacity="0.2"/>
<rect x="788.18" y="1404.64" width="34.88" height="26" fill="#000" opacity="0.2"/>
<rect x="832.45" y="1404.64" width="34.88" height="26" fill="#000" opacity="0.2"/>
<rect x="877.53" y="1404.64" width="34.08" height="26" fill="#000" opacity="0.2"/>
<rect x="921" y="1395.25" width="34.88" height="26" fill="#000" opacity="0.2"/>
<rect x="964.73" y="1395.25" width="35.42" height="26" fill="#000" opacity="0.2"/>
<rect x="1009" y="1395.25" width="34.08" height="26" fill="#000" opacity="0.2"/>
</g>
<g filter="url(#g25_45)"><rect x="736.32" y="1375.71" width="321.05" height="83.86" fill="none"/>
<path d="M745.25 1429.27 Q762.02 1429.77 778.79 1426.27" fill="none" stroke="#000" stroke-width="9" opacity="1"/>
<path d="M788.18 1428.18 Q805.62 1428.43 823.06 1424.68" fill="none" stroke="#000" stroke-width="9" opacity="1"/>
<path d="M832.45 1428.47 Q849.89 1428.97 867.33 1425.47" fill="none" stroke="#000" stroke-width="9" opacity="1"/>
<path d="M877.53 1429.27 Q894.57 1429.77 911.6 1426.27" fill="none" stroke="#000" stroke-width="9" opacity="1"/>
<path d="M921 1418.04 Q938.44 1420.54 955.88 1417.04" fill="none" stroke="#000" stroke-width="9" opacity="1"/>
<path d="M964.73 1418.58 Q982.44 1421.08 1000.15 1417.58" fill="none" stroke="#000" stroke-width="9" opacity="1"/>
<path d="M1009 1418.54 Q1026.04 1420.54 1043.08 1416.54" fill="none" stroke="#000" stroke-width="9" opacity="1"/>
</g>
<g filter="url(#g35_60)"><rect x="736.32" y="1375.71" width="321.05" height="83.86" fill="none"/>
<rect x="745.25" y="1430.81" width="33.54" height="30" fill="#000" opacity="0.05"/>
<rect x="788.18" y="1430.81" width="34.88" height="30" fill="#000" opacity="0.05"/>
<rect x="832.45" y="1430.81" width="34.88" height="30" fill="#000" opacity="0.05"/>
<rect x="877.53" y="1430.81" width="34.08" height="30" fill="#000" opacity="0.05"/>
<rect x="921" y="1430.81" width="34.88" height="30" fill="#000" opacity="0.05"/>
<rect x="964.73" y="1430.81" width="35.42" height="30" fill="#000" opacity="0.05"/>
<rect x="1009" y="1430.81" width="34.08" height="30" fill="#000" opacity="0.05"/>
</g>
</g>
<rect x="736.32" y="1375.71" width="321.05" height="83.86" fill="none" stroke="#000" stroke-width="3" />
<clipPath id="c10"><rect x="703.86" y="1374.9" width="23.49" height="86.01"/></clipPath>
<g clip-path="url(#c10)">
<rect x="703.86" y="1374.9" width="23.49" height="86.01" fill="#C2C2C2" stroke="none" stroke-width="0" />
<g filter="url(#g25_40)"><rect x="703.86" y="1374.9" width="23.49" height="86.01" fill="none"/>
<rect x="705" y="1381.24" width="20.12" height="8.4" fill="#000" opacity="0.43"/>
</g>
<g filter="url(#g25_35)"><rect x="703.86" y="1374.9" width="23.49" height="86.01" fill="none"/>
<rect x="705" y="1407.33" width="20.12" height="7.2" fill="#000" opacity="0.29"/>
</g>
<g filter="url(#g25_50)"><rect x="703.86" y="1374.9" width="23.49" height="86.01" fill="none"/>
<rect x="705" y="1434.3" width="20.12" height="9.6" fill="#000" opacity="0.43"/>
</g>
</g>
<rect x="703.86" y="1374.9" width="23.49" height="86.01" fill="none" stroke="#000" stroke-width="3" />
<polygon points="1059,1407.71 1078.5,1396.91 1078.5,1418.51" fill="#000" stroke="none" stroke-width="0"/>
<line x1="1078" y1="1407.71" x2="1090" y2="1407.71" stroke="#555" stroke-width="1.5" stroke-linecap="butt" />
<text font-size="20.3" text-anchor="start" fill="#000" textLength="34.07" lengthAdjust="spacingAndGlyphs" x="656.69" y="1449.8" >100</text>
<text font-size="26.7" text-anchor="start" fill="#000" font-style="italic" textLength="69.87" lengthAdjust="spacingAndGlyphs" x="861.39" y="1490" >ACTIN</text>
<text font-size="40" text-anchor="start" fill="#000" font-weight="bold" textLength="23.41" lengthAdjust="spacingAndGlyphs" x="1100.69" y="510.6" >g</text>
<text font-size="26.7" text-anchor="start" fill="#000" textLength="69.11" lengthAdjust="spacingAndGlyphs" x="1229.99" y="607.7" >MCF7</text>
<line x1="1187.4" y1="624.8" x2="1345.3" y2="624.8" stroke="#000" stroke-width="1.8" stroke-linecap="butt" />
<text font-size="26.7" text-anchor="start" fill="#000" textLength="79.21" lengthAdjust="spacingAndGlyphs" transform="translate(1189.1,779.27) rotate(-90)" x="0" y="0" >M (bp)</text>
<text font-size="26.7" text-anchor="start" fill="#000" font-style="italic" textLength="58.56" lengthAdjust="spacingAndGlyphs" transform="translate(1247.9,772.29) rotate(-90)" x="0" y="0" >siCTL</text>
<text font-size="26.7" text-anchor="start" fill="#000" font-style="italic" textLength="127.5" lengthAdjust="spacingAndGlyphs" transform="translate(1302.1,772.3) rotate(-90)" x="0" y="0" >sihnRNPA1</text>
<clipPath id="c11"><rect x="1204.75" y="784.41" width="127.36" height="85.87"/></clipPath>
<g clip-path="url(#c11)">
<rect x="1204.75" y="784.41" width="127.36" height="85.87" fill="#C6C6C6" stroke="none" stroke-width="0" />
<g filter="url(#g35_40)"><rect x="1204.75" y="784.41" width="127.36" height="85.87" fill="none"/>
<rect x="1215.46" y="808.68" width="48.08" height="30" fill="#000" opacity="0.2"/>
<rect x="1275.26" y="809.9" width="48.08" height="30" fill="#000" opacity="0.25"/>
</g>
<g filter="url(#g25_25)"><rect x="1204.75" y="784.41" width="127.36" height="85.87" fill="none"/>
<path d="M1215.46 815.35 Q1239.51 820.35 1263.55 815.35" fill="none" stroke="#000" stroke-width="5.4" opacity="0.43"/>
<path d="M1275.26 816.81 Q1299.31 821.81 1323.35 816.81" fill="none" stroke="#000" stroke-width="5.4" opacity="0.29"/>
</g>
<g filter="url(#g25_30)"><rect x="1204.75" y="784.41" width="127.36" height="85.87" fill="none"/>
<path d="M1215.46 836.04 Q1239.51 842.04 1263.55 836.04" fill="none" stroke="#000" stroke-width="6" opacity="0.64"/>
<path d="M1275.26 836.04 Q1299.31 842.04 1323.35 836.04" fill="none" stroke="#000" stroke-width="6" opacity="0.71"/>
</g>
<g filter="url(#g35_50)"><rect x="1204.75" y="784.41" width="127.36" height="85.87" fill="none"/>
<rect x="1215.46" y="791.71" width="48.08" height="20" fill="#000" opacity="0.06"/>
<rect x="1275.26" y="791.71" width="48.08" height="20" fill="#000" opacity="0.06"/>
</g>
</g>
<rect x="1204.75" y="784.41" width="127.36" height="85.87" fill="none" stroke="#000" stroke-width="3" />
<clipPath id="c12"><rect x="1173.26" y="785.14" width="23.38" height="86.36"/></clipPath>
<g clip-path="url(#c12)">
<rect x="1173.26" y="785.14" width="23.38" height="86.36" fill="#C2C2C2" stroke="none" stroke-width="0" />
<g filter="url(#g25_25)"><rect x="1173.26" y="785.14" width="23.38" height="86.36" fill="none"/>
<rect x="1176.41" y="809.08" width="17.09" height="4.8" fill="#000" opacity="0.21"/>
<rect x="1175.68" y="865.4" width="19.04" height="5.4" fill="#000" opacity="1"/>
</g>
<g filter="url(#g25_30)"><rect x="1173.26" y="785.14" width="23.38" height="86.36" fill="none"/>
<rect x="1176.41" y="847.53" width="17.09" height="6" fill="#fff" opacity="0.43"/>
</g>
</g>
<rect x="1173.26" y="785.14" width="23.38" height="86.36" fill="none" stroke="#000" stroke-width="3" />
<polygon points="1334,812.7 1353.5,801.9 1353.5,823.5" fill="#000" stroke="none" stroke-width="0"/>
<line x1="1353" y1="812.7" x2="1371.7" y2="812.7" stroke="#666" stroke-width="1.5" stroke-linecap="butt" />
<polygon points="1334,832.22 1353.5,821.42 1353.5,843.02" fill="#000" stroke="none" stroke-width="0"/>
<line x1="1353" y1="832.22" x2="1371.7" y2="832.22" stroke="#000" stroke-width="1.5" stroke-linecap="butt" />
<text font-size="20.3" text-anchor="start" fill="#000" textLength="33.42" lengthAdjust="spacingAndGlyphs" x="1123.32" y="819.3" >500</text>
<text font-size="20.3" text-anchor="start" fill="#000" textLength="33.63" lengthAdjust="spacingAndGlyphs" x="1123.12" y="850.5" >250</text>
<text font-size="26.7" text-anchor="start" fill="#000" font-style="italic" textLength="79.6" lengthAdjust="spacingAndGlyphs" x="1228.4" y="911.6" >PPARA</text>
<clipPath id="c13"><rect x="1204.75" y="934.42" width="127.36" height="85.38"/></clipPath>
<g clip-path="url(#c13)">
<rect x="1204.75" y="934.42" width="127.36" height="85.38" fill="url(#lg13)" stroke="none" stroke-width="0" />
<g filter="url(#g15_25)"><rect x="1204.75" y="934.42" width="127.36" height="85.38" fill="none"/>
<path d="M1215.46 970.24 Q1239.51 970.74 1263.55 969.24" fill="none" stroke="#000" stroke-width="5.4" opacity="0.29"/>
<path d="M1275.26 963.18 Q1299.31 962.68 1323.35 960.18" fill="none" stroke="#000" stroke-width="5.4" opacity="1"/>
</g>
<g filter="url(#g15_30)"><rect x="1204.75" y="934.42" width="127.36" height="85.38" fill="none"/>
<path d="M1215.46 986.6 Q1239.51 986.6 1263.55 984.6" fill="none" stroke="#000" stroke-width="5.7" opacity="1"/>
<path d="M1275.26 979.28 Q1299.31 979.28 1323.35 977.28" fill="none" stroke="#000" stroke-width="5.7" opacity="0.64"/>
</g>
</g>
<rect x="1204.75" y="934.42" width="127.36" height="85.38" fill="none" stroke="#000" stroke-width="3" />
<clipPath id="c14"><rect x="1173.26" y="934.42" width="23.38" height="85.38"/></clipPath>
<g clip-path="url(#c14)">
<rect x="1173.26" y="934.42" width="23.38" height="85.38" fill="#C4C4C4" stroke="none" stroke-width="0" />
<g filter="url(#g15_20)"><rect x="1173.26" y="934.42" width="23.38" height="85.38" fill="none"/>
<rect x="1176.41" y="948.41" width="17.09" height="4.2" fill="#000" opacity="0.43"/>
<rect x="1176.41" y="970.38" width="17.09" height="4.2" fill="#000" opacity="0.29"/>
</g>
<g filter="url(#g15_25)"><rect x="1173.26" y="934.42" width="23.38" height="85.38" fill="none"/>
<rect x="1176.41" y="999.37" width="17.09" height="4.8" fill="#000" opacity="0.69"/>
</g>
</g>
<rect x="1173.26" y="934.42" width="23.38" height="85.38" fill="none" stroke="#000" stroke-width="3" />
<polygon points="1334,960.27 1353.5,949.47 1353.5,971.07" fill="#000" stroke="none" stroke-width="0"/>
<line x1="1353" y1="960.27" x2="1371.7" y2="960.27" stroke="#000" stroke-width="1.5" stroke-linecap="butt" />
<polygon points="1334,976.63 1353.5,965.83 1353.5,987.43" fill="#000" stroke="none" stroke-width="0"/>
<line x1="1353" y1="976.63" x2="1371.7" y2="976.63" stroke="#555" stroke-width="1.5" stroke-linecap="butt" />
<text font-size="20.3" text-anchor="start" fill="#000" textLength="33.42" lengthAdjust="spacingAndGlyphs" x="1123.32" y="973.2" >500</text>
<text font-size="20.3" text-anchor="start" fill="#000" textLength="33.63" lengthAdjust="spacingAndGlyphs" x="1123.12" y="1004.9" >250</text>
<text font-size="26.7" text-anchor="start" fill="#000" font-style="italic" textLength="87.27" lengthAdjust="spacingAndGlyphs" x="1223.55" y="1059.6" >SREBF2</text>
<clipPath id="c15"><rect x="1204.75" y="1080.87" width="127.36" height="85.87"/></clipPath>
<g clip-path="url(#c15)">
<rect x="1204.75" y="1080.87" width="127.36" height="85.87" fill="#B9B9B9" stroke="none" stroke-width="0" />
<g filter="url(#g15_25)"><rect x="1204.75" y="1080.87" width="127.36" height="85.87" fill="none"/>
<path d="M1215.46 1113.14 Q1239.51 1116.14 1263.55 1113.14" fill="none" stroke="#000" stroke-width="4.8" opacity="1"/>
</g>
<g filter="url(#g15_40)"><rect x="1204.75" y="1080.87" width="127.36" height="85.87" fill="none"/>
<path d="M1275.26 1109 Q1299.31 1112 1323.35 1109" fill="none" stroke="#000" stroke-width="8.4" opacity="1"/>
</g>
<g filter="url(#g15_35)"><rect x="1204.75" y="1080.87" width="127.36" height="85.87" fill="none"/>
<path d="M1215.46 1134.62 Q1239.51 1137.62 1263.55 1134.62" fill="none" stroke="#000" stroke-width="6.6" opacity="1"/>
</g>
<g filter="url(#g25_30)"><rect x="1204.75" y="1080.87" width="127.36" height="85.87" fill="none"/>
<rect x="1215.46" y="1098.5" width="48.08" height="14" fill="#000" opacity="0.12"/>
<rect x="1275.26" y="1094.84" width="48.08" height="14" fill="#000" opacity="0.15"/>
</g>
</g>
<rect x="1204.75" y="1080.87" width="127.36" height="85.87" fill="none" stroke="#000" stroke-width="3" />
<clipPath id="c16"><rect x="1173.26" y="1080.87" width="23.38" height="85.87"/></clipPath>
<g clip-path="url(#c16)">
<rect x="1173.26" y="1080.87" width="23.38" height="85.87" fill="#C4C4C4" stroke="none" stroke-width="0" />
<g filter="url(#g15_15)"><rect x="1173.26" y="1080.87" width="23.38" height="85.87" fill="none"/>
<rect x="1176.41" y="1130.85" width="18.31" height="3" fill="#000" opacity="0.83"/>
</g>
<g filter="url(#g25_20)"><rect x="1173.26" y="1080.87" width="23.38" height="85.87" fill="none"/>
<rect x="1176.41" y="1090.28" width="17.09" height="3.6" fill="#000" opacity="0.14"/>
</g>
</g>
<rect x="1173.26" y="1080.87" width="23.38" height="85.87" fill="none" stroke="#000" stroke-width="3" />
<polygon points="1334,1109.16 1353.5,1098.36 1353.5,1119.96" fill="#000" stroke="none" stroke-width="0"/>
<line x1="1353" y1="1109.16" x2="1371.7" y2="1109.16" stroke="#000" stroke-width="1.5" stroke-linecap="butt" />
<polygon points="1334,1133.57 1353.5,1122.77 1353.5,1144.37" fill="#000" stroke="none" stroke-width="0"/>
<line x1="1353" y1="1133.57" x2="1371.7" y2="1133.57" stroke="#000" stroke-width="1.5" stroke-linecap="butt" />
<text font-size="20.3" text-anchor="start" fill="#000" textLength="33.63" lengthAdjust="spacingAndGlyphs" x="1123.12" y="1111.6" >250</text>
<text font-size="20.3" text-anchor="start" fill="#000" textLength="34.18" lengthAdjust="spacingAndGlyphs" x="1122.59" y="1138.5" >100</text>
<text font-size="26.7" text-anchor="start" fill="#000" font-style="italic" textLength="93.73" lengthAdjust="spacingAndGlyphs" x="1221.59" y="1209.2" >RAB27B</text>
<clipPath id="c17"><rect x="1204.75" y="1228.05" width="127.36" height="85.63"/></clipPath>
<g clip-path="url(#c17)">
<rect x="1204.75" y="1228.05" width="127.36" height="85.63" fill="#CACACA" stroke="none" stroke-width="0" />
<g filter="url(#g15_25)"><rect x="1204.75" y="1228.05" width="127.36" height="85.63" fill="none"/>
<path d="M1215.46 1259.4 Q1239.51 1261.4 1263.55 1259.4" fill="none" stroke="#000" stroke-width="5.1" opacity="0.74"/>
<path d="M1275.26 1258.67 Q1299.31 1260.67 1323.35 1258.67" fill="none" stroke="#000" stroke-width="5.1" opacity="0.74"/>
<path d="M1215.46 1283.08 Q1239.51 1285.08 1263.55 1283.08" fill="none" stroke="#000" stroke-width="4.8" opacity="0.74"/>
<path d="M1275.26 1283.57 Q1299.31 1285.57 1323.35 1283.57" fill="none" stroke="#000" stroke-width="4.8" opacity="0.43"/>
</g>
</g>
<rect x="1204.75" y="1228.05" width="127.36" height="85.63" fill="none" stroke="#000" stroke-width="3" />
<clipPath id="c18"><rect x="1173.26" y="1228.05" width="23.38" height="85.63"/></clipPath>
<g clip-path="url(#c18)">
<rect x="1173.26" y="1228.05" width="23.38" height="85.63" fill="#CBCBCB" stroke="none" stroke-width="0" />
<g filter="url(#g15_25)"><rect x="1173.26" y="1228.05" width="23.38" height="85.63" fill="none"/>
<rect x="1176.41" y="1243.45" width="17.09" height="4.8" fill="#000" opacity="0.5"/>
</g>
<g filter="url(#g15_20)"><rect x="1173.26" y="1228.05" width="23.38" height="85.63" fill="none"/>
<rect x="1176.41" y="1268.16" width="17.09" height="4.2" fill="#000" opacity="0.5"/>
</g>
</g>
<rect x="1173.26" y="1228.05" width="23.38" height="85.63" fill="none" stroke="#000" stroke-width="3" />
<polygon points="1334,1258.05 1353.5,1247.25 1353.5,1268.85" fill="#000" stroke="none" stroke-width="0"/>
<line x1="1353" y1="1258.05" x2="1371.7" y2="1258.05" stroke="#000" stroke-width="1.5" stroke-linecap="butt" />
<polygon points="1334,1283.19 1353.5,1272.39 1353.5,1293.99" fill="#000" stroke="none" stroke-width="0"/>
<line x1="1353" y1="1283.19" x2="1371.7" y2="1283.19" stroke="#000" stroke-width="1.5" stroke-linecap="butt" />
<text font-size="20.3" text-anchor="start" fill="#000" textLength="34.18" lengthAdjust="spacingAndGlyphs" x="1122.59" y="1272.7" >100</text>
<text font-size="26.7" text-anchor="start" fill="#000" font-style="italic" textLength="88.44" lengthAdjust="spacingAndGlyphs" x="1223.41" y="1354.5" >WDPCP</text>
<clipPath id="c19"><rect x="1204.75" y="1376.21" width="127.36" height="85.66"/></clipPath>
<g clip-path="url(#c19)">
<rect x="1204.75" y="1376.21" width="127.36" height="85.66" fill="#B6B6B6" stroke="none" stroke-width="0" />
<g filter="url(#g25_45)"><rect x="1204.75" y="1376.21" width="127.36" height="85.66" fill="none"/>
<rect x="1218.07" y="1435.11" width="46.51" height="9" fill="#000" opacity="0.89"/>
</g>
<g filter="url(#g25_40)"><rect x="1204.75" y="1376.21" width="127.36" height="85.66" fill="none"/>
<rect x="1276.21" y="1428.25" width="46.51" height="8.4" fill="#000" opacity="1"/>
</g>
<g filter="url(#g35_40)"><rect x="1204.75" y="1376.21" width="127.36" height="85.66" fill="none"/>
<rect x="1218.07" y="1416.98" width="46.51" height="22" fill="#000" opacity="0.1"/>
<rect x="1276.21" y="1409.82" width="46.51" height="22" fill="#000" opacity="0.1"/>
</g>
</g>
<rect x="1204.75" y="1376.21" width="127.36" height="85.66" fill="none" stroke="#000" stroke-width="3" />
<clipPath id="c20"><rect x="1173.26" y="1376.21" width="23.38" height="85.66"/></clipPath>
<g clip-path="url(#c20)">
<rect x="1173.26" y="1376.21" width="23.38" height="85.66" fill="#BEBEBE" stroke="none" stroke-width="0" />
<g filter="url(#g25_35)"><rect x="1173.26" y="1376.21" width="23.38" height="85.66" fill="none"/>
<rect x="1175.13" y="1399.33" width="19.68" height="7.2" fill="#000" opacity="0.57"/>
</g>
<g filter="url(#g25_65)"><rect x="1173.26" y="1376.21" width="23.38" height="85.66" fill="none"/>
<rect x="1175.13" y="1431.22" width="19.68" height="13.2" fill="#000" opacity="1"/>
</g>
<g filter="url(#g25_30)"><rect x="1173.26" y="1376.21" width="23.38" height="85.66" fill="none"/>
<rect x="1175.13" y="1416.03" width="19.68" height="6" fill="#fff" opacity="0.36"/>
</g>
</g>
<rect x="1173.26" y="1376.21" width="23.38" height="85.66" fill="none" stroke="#000" stroke-width="3" />
<polygon points="1334,1429.77 1353.5,1418.97 1353.5,1440.57" fill="#000" stroke="none" stroke-width="0"/>
<line x1="1353" y1="1429.77" x2="1371.7" y2="1429.77" stroke="#555" stroke-width="1.5" stroke-linecap="butt" />
<text font-size="20.3" text-anchor="start" fill="#000" textLength="33.32" lengthAdjust="spacingAndGlyphs" x="1123.23" y="1443.7" >100</text>
<text font-size="26.7" text-anchor="start" fill="#000" font-style="italic" textLength="70.66" lengthAdjust="spacingAndGlyphs" x="1232.9" y="1492.7" >ACTIN</text>
<text font-size="40" text-anchor="start" fill="#000" font-weight="bold" textLength="23.35" lengthAdjust="spacingAndGlyphs" x="1377.35" y="510.6" >h</text>
<text font-size="26.7" text-anchor="start" fill="#000" textLength="69.74" lengthAdjust="spacingAndGlyphs" x="1636.58" y="527.5" >MCF7</text>
<line x1="1473.2" y1="542" x2="1881.3" y2="542" stroke="#000" stroke-width="1.8" stroke-linecap="butt" />
<text font-size="26.7" text-anchor="start" fill="#000" font-style="italic" textLength="130.55" lengthAdjust="spacingAndGlyphs" x="1642.4" y="586.7" >sihnRNPA1</text>
<text font-size="22" text-anchor="start" fill="#000" textLength="14.15" lengthAdjust="spacingAndGlyphs" x="1699.41" y="621" >+</text>
<path d="M1552.8 650 V642.6 Q1552.8 640.1 1555.3 640.1 H1859.1 Q1861.6 640.1 1861.6 642.6 V650" fill="none" stroke="#000" stroke-width="1.7"/>
<text font-size="26.7" text-anchor="start" fill="#000" textLength="79.94" lengthAdjust="spacingAndGlyphs" transform="translate(1467.2,774.69) rotate(-90)" x="0" y="0" >M (bp)</text>
<text font-size="26.7" text-anchor="start" fill="#000" textLength="60.27" lengthAdjust="spacingAndGlyphs" transform="translate(1522.2,771.57) rotate(-90)" x="0" y="0" >siCTL</text>
<text font-size="26.7" text-anchor="start" fill="#000" textLength="43.16" lengthAdjust="spacingAndGlyphs" transform="translate(1578.2,772.02) rotate(-90)" x="0" y="0" >CTL</text>
<text font-size="26.7" text-anchor="start" fill="#000" textLength="36.33" lengthAdjust="spacingAndGlyphs" transform="translate(1634.1,770.99) rotate(-90)" x="0" y="0" >WT</text>
<text font-size="26.7" text-anchor="start" fill="#000" textLength="112.65" lengthAdjust="spacingAndGlyphs" transform="translate(1691.1,772.98) rotate(-90)" x="0" y="0" >R/K (457)</text>
<text font-size="26.7" text-anchor="start" fill="#000" textLength="82.24" lengthAdjust="spacingAndGlyphs" transform="translate(1747,772.95) rotate(-90)" x="0" y="0" >R/K (4)</text>
<text font-size="26.7" text-anchor="start" fill="#000" textLength="82.24" lengthAdjust="spacingAndGlyphs" transform="translate(1803.6,772.95) rotate(-90)" x="0" y="0" >R/K (5)</text>
<text font-size="26.7" text-anchor="start" fill="#000" textLength="82.24" lengthAdjust="spacingAndGlyphs" transform="translate(1859.6,772.95) rotate(-90)" x="0" y="0" >R/K (7)</text>
<clipPath id="c21"><rect x="1485" y="782.45" width="397.53" height="83.95"/></clipPath>
<g clip-path="url(#c21)">
<rect x="1485" y="782.45" width="397.53" height="83.95" fill="#F6F6F6" stroke="none" stroke-width="0" />
<g filter="url(#g50_80)"><rect x="1485" y="782.45" width="397.53" height="83.95" fill="none"/>
<rect x="1484" y="813.67" width="399.53" height="40" fill="#000" opacity="0.1"/>
</g>
<g filter="url(#g35_40)"><rect x="1485" y="782.45" width="397.53" height="83.95" fill="none"/>
<rect x="1494.27" y="812.2" width="44" height="40" fill="#000" opacity="0.24"/>
<rect x="1548.54" y="812.2" width="45.47" height="40" fill="#000" opacity="0.3"/>
<rect x="1604.27" y="812.2" width="44.59" height="40" fill="#000" opacity="0.3"/>
<rect x="1658.54" y="812.2" width="45.47" height="40" fill="#000" opacity="0.34"/>
<rect x="1714.27" y="812.2" width="44" height="40" fill="#000" opacity="0.27"/>
<rect x="1770.01" y="812.2" width="44" height="40" fill="#000" opacity="0.32"/>
<rect x="1825.74" y="812.2" width="44" height="40" fill="#000" opacity="0.32"/>
</g>
<g filter="url(#g25_35)"><rect x="1485" y="782.45" width="397.53" height="83.95" fill="none"/>
<rect x="1494.27" y="816.29" width="44" height="6.6" fill="#000" opacity="0.43"/>
<rect x="1548.54" y="818.05" width="45.47" height="6.6" fill="#000" opacity="0.23"/>
<rect x="1604.27" y="817.17" width="44.59" height="6.6" fill="#000" opacity="0.43"/>
<rect x="1658.54" y="818.63" width="45.47" height="6.6" fill="#000" opacity="0.29"/>
<rect x="1714.27" y="818.05" width="44" height="6.6" fill="#000" opacity="0.23"/>
<rect x="1770.01" y="818.63" width="44" height="6.6" fill="#000" opacity="0.29"/>
<rect x="1825.74" y="818.63" width="44" height="6.6" fill="#000" opacity="0.23"/>
</g>
<g filter="url(#g25_40)"><rect x="1485" y="782.45" width="397.53" height="83.95" fill="none"/>
<rect x="1494.27" y="841.5" width="44" height="7.8" fill="#000" opacity="0.06"/>
<rect x="1548.54" y="840.92" width="45.47" height="7.8" fill="#000" opacity="0.39"/>
<rect x="1604.27" y="841.5" width="44.59" height="7.8" fill="#000" opacity="0.09"/>
<rect x="1658.54" y="842.09" width="45.47" height="7.8" fill="#000" opacity="0.43"/>
<rect x="1714.27" y="842.09" width="44" height="7.8" fill="#000" opacity="0.17"/>
<rect x="1770.01" y="842.09" width="44" height="7.8" fill="#000" opacity="0.39"/>
<rect x="1825.74" y="842.38" width="44" height="7.8" fill="#000" opacity="0.43"/>
</g>
</g>
<rect x="1485" y="782.45" width="397.53" height="83.95" fill="none" stroke="#000" stroke-width="3" />
<clipPath id="c22"><rect x="1454.79" y="782.45" width="23.23" height="85.42"/></clipPath>
<g clip-path="url(#c22)">
<rect x="1454.79" y="782.45" width="23.23" height="85.42" fill="#E6E6E6" stroke="none" stroke-width="0" />
<g filter="url(#g50_50)"><rect x="1454.79" y="782.45" width="23.23" height="85.42" fill="none"/>
<rect x="1457.6" y="792.8" width="17.6" height="70" fill="#000" opacity="0.3"/>
</g>
<g filter="url(#g25_25)"><rect x="1454.79" y="782.45" width="23.23" height="85.42" fill="none"/>
<rect x="1457.01" y="797.83" width="18.77" height="13" fill="#000" opacity="0.95"/>
</g>
<g filter="url(#g25_20)"><rect x="1454.79" y="782.45" width="23.23" height="85.42" fill="none"/>
<rect x="1457.6" y="819.4" width="17.6" height="8" fill="#000" opacity="0.95"/>
<rect x="1458.19" y="849.74" width="16.43" height="6" fill="#000" opacity="0.95"/>
</g>
</g>
<rect x="1454.79" y="782.45" width="23.23" height="85.42" fill="none" stroke="#000" stroke-width="3" />
<polygon points="1884.6,817.53 1905.8,806.73 1905.8,828.33" fill="#000" stroke="none" stroke-width="0"/>
<line x1="1905.3" y1="817.53" x2="1921.5" y2="817.53" stroke="#000" stroke-width="1.5" stroke-linecap="butt" />
<polygon points="1884.6,843.06 1905.8,832.26 1905.8,853.86" fill="#000" stroke="none" stroke-width="0"/>
<line x1="1905.3" y1="843.06" x2="1921.5" y2="843.06" stroke="#000" stroke-width="1.5" stroke-linecap="butt" />
<text font-size="20.3" text-anchor="start" fill="#000" textLength="33.42" lengthAdjust="spacingAndGlyphs" x="1404.72" y="830.3" >500</text>
<text font-size="20.3" text-anchor="start" fill="#000" textLength="33.63" lengthAdjust="spacingAndGlyphs" x="1404.52" y="861.6" >250</text>
<text font-size="26.7" text-anchor="start" fill="#000" font-style="italic" textLength="80.52" lengthAdjust="spacingAndGlyphs" x="1641.8" y="909.3" >PPARA</text>
<clipPath id="c23"><rect x="1485" y="931.87" width="397.53" height="84.54"/></clipPath>
<g clip-path="url(#c23)">
<rect x="1485" y="931.87" width="397.53" height="84.54" fill="url(#lg23)" stroke="none" stroke-width="0" />
<g filter="url(#g25_40)"><rect x="1485" y="931.87" width="397.53" height="84.54" fill="none"/>
<path d="M1497.2 952.25 Q1518.47 957.25 1539.74 952.25" fill="none" stroke="#000" stroke-width="8.4" opacity="0.31"/>
<path d="M1553.82 948.43 Q1575.38 953.43 1596.94 948.43" fill="none" stroke="#000" stroke-width="8.4" opacity="0.71"/>
<path d="M1668.22 948.43 Q1689.78 953.43 1711.34 948.43" fill="none" stroke="#000" stroke-width="8.4" opacity="0.6"/>
<path d="M1724.54 950.19 Q1745.81 955.19 1767.08 950.19" fill="none" stroke="#000" stroke-width="8.4" opacity="0.51"/>
<path d="M1780.28 947.26 Q1801.54 952.26 1822.81 947.26" fill="none" stroke="#000" stroke-width="8.4" opacity="0.6"/>
<path d="M1837.48 948.43 Q1858.74 953.43 1880.01 948.43" fill="none" stroke="#000" stroke-width="8.4" opacity="0.46"/>
</g>
<g filter="url(#g25_45)"><rect x="1485" y="931.87" width="397.53" height="84.54" fill="none"/>
<path d="M1497.2 973.95 Q1518.47 978.95 1539.74 973.95" fill="none" stroke="#000" stroke-width="9" opacity="0.79"/>
<path d="M1553.82 968.67 Q1575.38 973.67 1596.94 968.67" fill="none" stroke="#000" stroke-width="9" opacity="0.26"/>
<path d="M1610.72 974.54 Q1632.43 979.54 1654.14 974.54" fill="none" stroke="#000" stroke-width="9" opacity="0.97"/>
<path d="M1668.22 968.67 Q1689.78 973.67 1711.34 968.67" fill="none" stroke="#000" stroke-width="9" opacity="0.39"/>
<path d="M1724.54 970.14 Q1745.81 975.14 1767.08 970.14" fill="none" stroke="#000" stroke-width="9" opacity="0.51"/>
<path d="M1780.28 967.5 Q1801.54 972.5 1822.81 967.5" fill="none" stroke="#000" stroke-width="9" opacity="0.31"/>
<path d="M1837.48 968.67 Q1858.74 973.67 1880.01 968.67" fill="none" stroke="#000" stroke-width="9" opacity="0.46"/>
</g>
<g filter="url(#g35_40)"><rect x="1485" y="931.87" width="397.53" height="84.54" fill="none"/>
<rect x="1497.2" y="928.2" width="42.53" height="20" fill="#000" opacity="0.05"/>
<rect x="1553.82" y="928.2" width="43.12" height="20" fill="#000" opacity="0.1"/>
<rect x="1610.72" y="928.2" width="43.41" height="20" fill="#000" opacity="0.02"/>
<rect x="1668.22" y="928.2" width="43.12" height="20" fill="#000" opacity="0.1"/>
<rect x="1724.54" y="928.2" width="42.53" height="20" fill="#000" opacity="0.1"/>
<rect x="1780.28" y="928.2" width="42.53" height="20" fill="#000" opacity="0.1"/>
<rect x="1837.48" y="928.2" width="42.53" height="20" fill="#000" opacity="0.1"/>
</g>
</g>
<rect x="1485" y="931.87" width="397.53" height="84.54" fill="none" stroke="#000" stroke-width="3" />
<clipPath id="c24"><rect x="1454.79" y="932.45" width="23.23" height="85.42"/></clipPath>
<g clip-path="url(#c24)">
<rect x="1454.79" y="932.45" width="23.23" height="85.42" fill="#B8B8B8" stroke="none" stroke-width="0" />
<g filter="url(#g25_30)"><rect x="1454.79" y="932.45" width="23.23" height="85.42" fill="none"/>
<rect x="1458.19" y="940.19" width="15.55" height="6" fill="#000" opacity="0.71"/>
<rect x="1458.19" y="991.82" width="15.55" height="6" fill="#000" opacity="0.79"/>
</g>
</g>
<rect x="1454.79" y="932.45" width="23.23" height="85.42" fill="none" stroke="#000" stroke-width="3" />
<polygon points="1884.6,960.79 1905.8,949.99 1905.8,971.59" fill="#000" stroke="none" stroke-width="0"/>
<line x1="1905.3" y1="960.79" x2="1921.5" y2="960.79" stroke="#444" stroke-width="1.5" stroke-linecap="butt" />
<polygon points="1884.6,986.01 1905.8,975.21 1905.8,996.81" fill="#000" stroke="none" stroke-width="0"/>
<line x1="1905.3" y1="986.01" x2="1921.5" y2="986.01" stroke="#666" stroke-width="1.5" stroke-linecap="butt" />
<text font-size="20.3" text-anchor="start" fill="#000" textLength="33.42" lengthAdjust="spacingAndGlyphs" x="1404.72" y="952.5" >500</text>
<text font-size="20.3" text-anchor="start" fill="#000" textLength="33.63" lengthAdjust="spacingAndGlyphs" x="1404.52" y="1004.2" >250</text>
<text font-size="26.7" text-anchor="start" fill="#000" font-style="italic" textLength="88.18" lengthAdjust="spacingAndGlyphs" x="1636.95" y="1055.9" >SREBF2</text>
<clipPath id="c25"><rect x="1485" y="1079.8" width="397.53" height="83.66"/></clipPath>
<g clip-path="url(#c25)">
<rect x="1485" y="1079.8" width="397.53" height="83.66" fill="#828282" stroke="none" stroke-width="0" />
<g filter="url(#g35_30)"><rect x="1485" y="1079.8" width="397.53" height="83.66" fill="none"/>
<rect x="1484" y="1111.09" width="399.53" height="7" fill="#fff" opacity="0.2"/>
</g>
<g filter="url(#g35_40)"><rect x="1485" y="1079.8" width="397.53" height="83.66" fill="none"/>
<rect x="1484" y="1079.6" width="399.53" height="16" fill="#000" opacity="0.1"/>
</g>
<g filter="url(#g35_60)"><rect x="1485" y="1079.8" width="397.53" height="83.66" fill="none"/>
<rect x="1484" y="1119.19" width="399.53" height="26" fill="#000" opacity="0.06"/>
</g>
<g filter="url(#g25_35)"><rect x="1485" y="1079.8" width="397.53" height="83.66" fill="none"/>
<rect x="1492.8" y="1098.97" width="44" height="6.6" fill="#000" opacity="0.43"/>
<rect x="1550" y="1098.97" width="44" height="6.6" fill="#000" opacity="1"/>
<rect x="1607.2" y="1098.97" width="44" height="6.6" fill="#000" opacity="0.43"/>
<rect x="1664.41" y="1098.97" width="44" height="6.6" fill="#000" opacity="0.89"/>
<rect x="1721.61" y="1098.97" width="44" height="6.6" fill="#000" opacity="0.64"/>
<rect x="1778.81" y="1098.97" width="44" height="6.6" fill="#000" opacity="0.43"/>
<rect x="1836.01" y="1098.97" width="44" height="6.6" fill="#000" opacity="0.64"/>
<rect x="1492.8" y="1121.85" width="44" height="6.6" fill="#000" opacity="0.51"/>
<rect x="1550" y="1121.85" width="44" height="6.6" fill="#000" opacity="0.29"/>
<rect x="1607.2" y="1121.85" width="44" height="6.6" fill="#000" opacity="0.51"/>
<rect x="1664.41" y="1121.85" width="44" height="6.6" fill="#000" opacity="0.29"/>
<rect x="1721.61" y="1121.85" width="44" height="6.6" fill="#000" opacity="0.43"/>
<rect x="1778.81" y="1121.85" width="44" height="6.6" fill="#000" opacity="0.29"/>
<rect x="1836.01" y="1121.85" width="44" height="6.6" fill="#000" opacity="0.36"/>
<rect x="1492.8" y="1136.52" width="44" height="6.6" fill="#000" opacity="0.31"/>
<rect x="1550" y="1136.52" width="44" height="6.6" fill="#000" opacity="0.29"/>
<rect x="1607.2" y="1136.52" width="44" height="6.6" fill="#000" opacity="0.31"/>
<rect x="1664.41" y="1136.52" width="44" height="6.6" fill="#000" opacity="0.29"/>
<rect x="1721.61" y="1136.52" width="44" height="6.6" fill="#000" opacity="0.31"/>
<rect x="1778.81" y="1136.52" width="44" height="6.6" fill="#000" opacity="0.29"/>
<rect x="1836.01" y="1136.52" width="44" height="6.6" fill="#000" opacity="0.29"/>
</g>
</g>
<rect x="1485" y="1079.8" width="397.53" height="83.66" fill="none" stroke="#000" stroke-width="3" />
<clipPath id="c26"><rect x="1454.79" y="1078.33" width="23.23" height="86"/></clipPath>
<g clip-path="url(#c26)">
<rect x="1454.79" y="1078.33" width="23.23" height="86" fill="#747474" stroke="none" stroke-width="0" />
<g filter="url(#g15_20)"><rect x="1454.79" y="1078.33" width="23.23" height="86" fill="none"/>
<rect x="1457.6" y="1080.22" width="17.6" height="4.2" fill="#000" opacity="1"/>
</g>
<g filter="url(#g25_25)"><rect x="1454.79" y="1078.33" width="23.23" height="86" fill="none"/>
<rect x="1458.19" y="1103.09" width="16.43" height="5.4" fill="#000" opacity="1"/>
</g>
<g filter="url(#g25_30)"><rect x="1454.79" y="1078.33" width="23.23" height="86" fill="none"/>
<rect x="1458.19" y="1125.67" width="16.43" height="6" fill="#000" opacity="1"/>
</g>
<g filter="url(#g35_40)"><rect x="1454.79" y="1078.33" width="23.23" height="86" fill="none"/>
<rect x="1453.79" y="1145.07" width="25.23" height="20" fill="#fff" opacity="0.15"/>
</g>
</g>
<rect x="1454.79" y="1078.33" width="23.23" height="86" fill="none" stroke="#000" stroke-width="3" />
<polygon points="1884.6,1100.8 1905.8,1090 1905.8,1111.6" fill="#000" stroke="none" stroke-width="0"/>
<line x1="1905.3" y1="1100.8" x2="1921.5" y2="1100.8" stroke="#666" stroke-width="1.5" stroke-linecap="butt" />
<polygon points="1884.6,1119.87 1905.8,1109.07 1905.8,1130.67" fill="#000" stroke="none" stroke-width="0"/>
<line x1="1905.3" y1="1119.87" x2="1921.5" y2="1119.87" stroke="#000" stroke-width="1.5" stroke-linecap="butt" />
<text font-size="20.3" text-anchor="start" fill="#000" textLength="33.63" lengthAdjust="spacingAndGlyphs" x="1404.52" y="1116.1" >250</text>
<text font-size="20.3" text-anchor="start" fill="#000" textLength="34.18" lengthAdjust="spacingAndGlyphs" x="1403.99" y="1141.4" >100</text>
<text font-size="26.7" text-anchor="start" fill="#000" font-style="italic" textLength="93.53" lengthAdjust="spacingAndGlyphs" x="1635.29" y="1205" >RAB27B</text>
<clipPath id="c27"><rect x="1485" y="1225.39" width="397.53" height="83.95"/></clipPath>
<g clip-path="url(#c27)">
<rect x="1485" y="1225.39" width="397.53" height="83.95" fill="url(#lg27)" stroke="none" stroke-width="0" />
<g filter="url(#g25_40)"><rect x="1485" y="1225.39" width="397.53" height="83.95" fill="none"/>
<rect x="1494.27" y="1257.45" width="42.53" height="7.8" fill="#000" opacity="0.4"/>
<rect x="1550" y="1256.57" width="42.53" height="7.8" fill="#000" opacity="0.54"/>
<rect x="1605.74" y="1258.91" width="42.53" height="7.8" fill="#000" opacity="0.2"/>
<rect x="1662.94" y="1253.93" width="41.07" height="7.8" fill="#000" opacity="0.4"/>
<rect x="1718.67" y="1250.11" width="42.53" height="7.8" fill="#000" opacity="0.54"/>
<rect x="1774.41" y="1250.99" width="42.53" height="7.8" fill="#000" opacity="0.29"/>
<rect x="1831.61" y="1244.25" width="42.53" height="7.8" fill="#000" opacity="0.47"/>
</g>
<g filter="url(#g25_50)"><rect x="1485" y="1225.39" width="397.53" height="83.95" fill="none"/>
<rect x="1494.27" y="1276.5" width="42.53" height="9.6" fill="#000" opacity="0.89"/>
<rect x="1550" y="1274.74" width="42.53" height="9.6" fill="#000" opacity="0.54"/>
<rect x="1605.74" y="1274.15" width="42.53" height="9.6" fill="#000" opacity="1"/>
<rect x="1662.94" y="1271.21" width="41.07" height="9.6" fill="#000" opacity="0.49"/>
<rect x="1718.67" y="1268.28" width="42.53" height="9.6" fill="#000" opacity="0.49"/>
<rect x="1774.41" y="1265.35" width="42.53" height="9.6" fill="#000" opacity="0.54"/>
<rect x="1831.61" y="1262.41" width="42.53" height="9.6" fill="#000" opacity="0.54"/>
</g>
</g>
<rect x="1485" y="1225.39" width="397.53" height="83.95" fill="none" stroke="#000" stroke-width="3" />
<clipPath id="c28"><rect x="1454.79" y="1224.8" width="23.23" height="85.12"/></clipPath>
<g clip-path="url(#c28)">
<rect x="1454.79" y="1224.8" width="23.23" height="85.12" fill="#949494" stroke="none" stroke-width="0" />
<g filter="url(#g25_40)"><rect x="1454.79" y="1224.8" width="23.23" height="85.12" fill="none"/>
<rect x="1456.13" y="1270.93" width="20.53" height="8.4" fill="#000" opacity="0.64"/>
</g>
<g filter="url(#g15_20)"><rect x="1454.79" y="1224.8" width="23.23" height="85.12" fill="none"/>
<rect x="1456.13" y="1225.22" width="20.53" height="4.2" fill="#000" opacity="0.86"/>
</g>
</g>
<rect x="1454.79" y="1224.8" width="23.23" height="85.12" fill="none" stroke="#000" stroke-width="3" />
<polygon points="1884.6,1244.33 1905.8,1233.53 1905.8,1255.13" fill="#000" stroke="none" stroke-width="0"/>
<line x1="1905.3" y1="1244.33" x2="1921.5" y2="1244.33" stroke="#444" stroke-width="1.5" stroke-linecap="butt" />
<polygon points="1884.6,1261.93 1905.8,1251.13 1905.8,1272.73" fill="#000" stroke="none" stroke-width="0"/>
<line x1="1905.3" y1="1261.93" x2="1921.5" y2="1261.93" stroke="#444" stroke-width="1.5" stroke-linecap="butt" />
<text font-size="20.3" text-anchor="start" fill="#000" textLength="34.18" lengthAdjust="spacingAndGlyphs" x="1403.99" y="1283" >100</text>
<text font-size="26.7" text-anchor="start" fill="#000" font-style="italic" textLength="90.39" lengthAdjust="spacingAndGlyphs" x="1635.86" y="1350.8" >WDPCP</text>
<clipPath id="c29"><rect x="1485" y="1372.45" width="397.53" height="84.83"/></clipPath>
<g clip-path="url(#c29)">
<rect x="1485" y="1372.45" width="397.53" height="84.83" fill="#A0A0A0" stroke="none" stroke-width="0" />
<g filter="url(#g35_70)"><rect x="1485" y="1372.45" width="397.53" height="84.83" fill="none"/>
<rect x="1492.8" y="1409.2" width="42.53" height="26" fill="#000" opacity="0.32"/>
<rect x="1548.54" y="1407.73" width="39.6" height="26" fill="#000" opacity="0.38"/>
<rect x="1601.34" y="1407.15" width="41.07" height="26" fill="#000" opacity="0.38"/>
<rect x="1655.61" y="1406.27" width="41.07" height="26" fill="#000" opacity="0.36"/>
<rect x="1709.87" y="1401.87" width="41.07" height="26" fill="#000" opacity="0.38"/>
<rect x="1764.14" y="1398.35" width="41.07" height="26" fill="#000" opacity="0.38"/>
<rect x="1819.88" y="1388.67" width="42.53" height="26" fill="#000" opacity="0.3"/>
</g>
<g filter="url(#g35_30)"><rect x="1485" y="1372.45" width="397.53" height="84.83" fill="none"/>
<rect x="1492.8" y="1416.7" width="42.53" height="11" fill="#000" opacity="0.3"/>
<rect x="1548.54" y="1415.23" width="39.6" height="11" fill="#000" opacity="0.4"/>
<rect x="1601.34" y="1414.65" width="41.07" height="11" fill="#000" opacity="0.4"/>
<rect x="1655.61" y="1413.77" width="41.07" height="11" fill="#000" opacity="0.36"/>
<rect x="1709.87" y="1409.37" width="41.07" height="11" fill="#000" opacity="0.4"/>
<rect x="1764.14" y="1405.85" width="41.07" height="11" fill="#000" opacity="0.4"/>
<rect x="1819.88" y="1396.17" width="42.53" height="11" fill="#000" opacity="0.2"/>
</g>
</g>
<rect x="1485" y="1372.45" width="397.53" height="84.83" fill="none" stroke="#000" stroke-width="3" />
<clipPath id="c30"><rect x="1454.79" y="1372.45" width="23.23" height="85.42"/></clipPath>
<g clip-path="url(#c30)">
<rect x="1454.79" y="1372.45" width="23.23" height="85.42" fill="#9E9E9E" stroke="none" stroke-width="0" />
<g filter="url(#g25_35)"><rect x="1454.79" y="1372.45" width="23.23" height="85.42" fill="none"/>
<rect x="1457.6" y="1390.73" width="17.6" height="7.2" fill="#000" opacity="0.64"/>
</g>
<g filter="url(#g25_40)"><rect x="1454.79" y="1372.45" width="23.23" height="85.42" fill="none"/>
<rect x="1457.6" y="1413.6" width="17.6" height="8.4" fill="#000" opacity="0.57"/>
</g>
</g>
<rect x="1454.79" y="1372.45" width="23.23" height="85.42" fill="none" stroke="#000" stroke-width="3" />
<polygon points="1886.5,1400.79 1908,1390.29 1908,1411.29" fill="#000" stroke="none" stroke-width="0"/>
<line x1="1907.5" y1="1400.79" x2="1921.5" y2="1400.79" stroke="#000" stroke-width="1.5" stroke-linecap="butt" />
<text font-size="20.3" text-anchor="start" fill="#000" textLength="34.18" lengthAdjust="spacingAndGlyphs" x="1403.99" y="1426.2" >100</text>
<text font-size="26.7" text-anchor="start" fill="#000" font-style="italic" textLength="71.25" lengthAdjust="spacingAndGlyphs" x="1646.41" y="1488" >ACTIN</text>
<text font-size="40" text-anchor="start" fill="#000" font-weight="bold" textLength="11.81" lengthAdjust="spacingAndGlyphs" x="11.25" y="1493.8" >i</text>
<text font-size="40" text-anchor="start" fill="#000" font-weight="bold" textLength="11.67" lengthAdjust="spacingAndGlyphs" x="8.86" y="2075.2" >j</text>
<line x1="161.3" y1="1602.65" x2="161.3" y2="1981.71" stroke="#000" stroke-width="1.9" stroke-linecap="butt" />
<line x1="152" y1="1980.76" x2="518.84" y2="1980.76" stroke="#000" stroke-width="1.9" stroke-linecap="butt" />
<line x1="152" y1="1980.76" x2="161.3" y2="1980.76" stroke="#000" stroke-width="1.9" stroke-linecap="butt" />
<text font-size="26" text-anchor="start" fill="#000" textLength="35.77" lengthAdjust="spacingAndGlyphs" x="96.99" y="1988.3" >0.0</text>
<line x1="152" y1="1905.32" x2="161.3" y2="1905.32" stroke="#000" stroke-width="1.9" stroke-linecap="butt" />
<text font-size="26" text-anchor="start" fill="#000" textLength="36.18" lengthAdjust="spacingAndGlyphs" x="96.98" y="1912.86" >0.2</text>
<line x1="152" y1="1829.89" x2="161.3" y2="1829.89" stroke="#000" stroke-width="1.9" stroke-linecap="butt" />
<text font-size="26" text-anchor="start" fill="#000" textLength="35.64" lengthAdjust="spacingAndGlyphs" x="96.99" y="1837.43" >0.4</text>
<line x1="152" y1="1754.46" x2="161.3" y2="1754.46" stroke="#000" stroke-width="1.9" stroke-linecap="butt" />
<text font-size="26" text-anchor="start" fill="#000" textLength="35.91" lengthAdjust="spacingAndGlyphs" x="96.99" y="1762" >0.6</text>
<line x1="152" y1="1679.03" x2="161.3" y2="1679.03" stroke="#000" stroke-width="1.9" stroke-linecap="butt" />
<text font-size="26" text-anchor="start" fill="#000" textLength="35.91" lengthAdjust="spacingAndGlyphs" x="96.99" y="1686.57" >0.8</text>
<line x1="152" y1="1603.6" x2="161.3" y2="1603.6" stroke="#000" stroke-width="1.9" stroke-linecap="butt" />
<text font-size="26" text-anchor="start" fill="#000" textLength="36.75" lengthAdjust="spacingAndGlyphs" x="96.04" y="1611.14" >1.0</text>
<line x1="161.3" y1="1980.76" x2="161.3" y2="1990.56" stroke="#000" stroke-width="1.9" stroke-linecap="butt" />
<line x1="250.45" y1="1980.76" x2="250.45" y2="1990.56" stroke="#000" stroke-width="1.9" stroke-linecap="butt" />
<line x1="339.3" y1="1980.76" x2="339.3" y2="1990.56" stroke="#000" stroke-width="1.9" stroke-linecap="butt" />
<line x1="428.74" y1="1980.76" x2="428.74" y2="1990.56" stroke="#000" stroke-width="1.9" stroke-linecap="butt" />
<line x1="517.89" y1="1980.76" x2="517.89" y2="1990.56" stroke="#000" stroke-width="1.9" stroke-linecap="butt" />
<text font-size="27" text-anchor="start" fill="#000" textLength="13.69" lengthAdjust="spacingAndGlyphs" x="198.52" y="2027.58" >1</text>
<text font-size="27" text-anchor="start" fill="#000" textLength="13.72" lengthAdjust="spacingAndGlyphs" x="288.33" y="2027.58" >2</text>
<text font-size="27" text-anchor="start" fill="#000" textLength="13.74" lengthAdjust="spacingAndGlyphs" x="377.16" y="2027.58" >3</text>
<text font-size="27" text-anchor="start" fill="#000" textLength="13.77" lengthAdjust="spacingAndGlyphs" x="466.72" y="2027.58" >4</text>
<text font-size="26.7" text-anchor="start" fill="#000" textLength="43.82" lengthAdjust="spacingAndGlyphs" x="96.05" y="2019.22" >Day</text>
<text font-size="26.7" text-anchor="start" fill="#000" textLength="221.72" lengthAdjust="spacingAndGlyphs" transform="translate(38.16,1915.28) rotate(-90)" x="0" y="0" >Normalized Values</text>
<text font-size="26.7" text-anchor="start" fill="#000" textLength="256.22" lengthAdjust="spacingAndGlyphs" transform="translate(73.05,1928.17) rotate(-90)" x="0" y="0" >(Absorbance 490 nm)</text>
<line x1="473.46" y1="1629.24" x2="473.46" y2="1670.38" stroke="#000" stroke-width="2" stroke-linecap="butt" />
<line x1="465.96" y1="1629.24" x2="480.96" y2="1629.24" stroke="#000" stroke-width="2" stroke-linecap="butt" />
<line x1="465.96" y1="1670.38" x2="480.96" y2="1670.38" stroke="#000" stroke-width="2" stroke-linecap="butt" />
<line x1="473.46" y1="1645.93" x2="473.46" y2="1656.96" stroke="#000" stroke-width="2" stroke-linecap="butt" />
<line x1="465.96" y1="1645.93" x2="480.96" y2="1645.93" stroke="#000" stroke-width="2" stroke-linecap="butt" />
<line x1="465.96" y1="1656.96" x2="480.96" y2="1656.96" stroke="#000" stroke-width="2" stroke-linecap="butt" />
<line x1="473.46" y1="1728.52" x2="473.46" y2="1738.96" stroke="#000" stroke-width="2" stroke-linecap="butt" />
<line x1="467.46" y1="1728.52" x2="479.46" y2="1728.52" stroke="#000" stroke-width="2" stroke-linecap="butt" />
<line x1="467.46" y1="1738.96" x2="479.46" y2="1738.96" stroke="#000" stroke-width="2" stroke-linecap="butt" />
<line x1="473.46" y1="1741.94" x2="473.46" y2="1749.39" stroke="#000" stroke-width="2" stroke-linecap="butt" />
<line x1="467.46" y1="1741.94" x2="479.46" y2="1741.94" stroke="#000" stroke-width="2" stroke-linecap="butt" />
<line x1="467.46" y1="1749.39" x2="479.46" y2="1749.39" stroke="#000" stroke-width="2" stroke-linecap="butt" />
<line x1="384.02" y1="1835.86" x2="384.02" y2="1841.82" stroke="#000" stroke-width="2" stroke-linecap="butt" />
<line x1="377.02" y1="1835.86" x2="391.02" y2="1835.86" stroke="#000" stroke-width="2" stroke-linecap="butt" />
<line x1="377.02" y1="1841.82" x2="391.02" y2="1841.82" stroke="#000" stroke-width="2" stroke-linecap="butt" />
<line x1="384.02" y1="1859.71" x2="384.02" y2="1866.27" stroke="#000" stroke-width="2" stroke-linecap="butt" />
<line x1="377.02" y1="1859.71" x2="391.02" y2="1859.71" stroke="#000" stroke-width="2" stroke-linecap="butt" />
<line x1="377.02" y1="1866.27" x2="391.02" y2="1866.27" stroke="#000" stroke-width="2" stroke-linecap="butt" />
<line x1="205.72" y1="1935.74" x2="205.72" y2="1939.31" stroke="#000" stroke-width="2" stroke-linecap="butt" />
<line x1="199.72" y1="1935.74" x2="211.72" y2="1935.74" stroke="#000" stroke-width="2" stroke-linecap="butt" />
<line x1="199.72" y1="1939.31" x2="211.72" y2="1939.31" stroke="#000" stroke-width="2" stroke-linecap="butt" />
<line x1="295.17" y1="1914.87" x2="295.17" y2="1920.83" stroke="#000" stroke-width="2" stroke-linecap="butt" />
<line x1="289.17" y1="1914.87" x2="301.17" y2="1914.87" stroke="#000" stroke-width="2" stroke-linecap="butt" />
<line x1="289.17" y1="1920.83" x2="301.17" y2="1920.83" stroke="#000" stroke-width="2" stroke-linecap="butt" />
<polyline points="205.72,1938.12 295.17,1920.23 384.02,1862.69 473.46,1733.59" fill="none" stroke="#ED7D31" stroke-width="5.4" stroke-linejoin="round" stroke-linecap="round"/>
<rect x="199.32" y="1931.72" width="12.8" height="12.8" fill="#ED7D31" stroke="none" stroke-width="0" />
<rect x="288.77" y="1913.83" width="12.8" height="12.8" fill="#ED7D31" stroke="none" stroke-width="0" />
<rect x="377.62" y="1856.29" width="12.8" height="12.8" fill="#ED7D31" stroke="none" stroke-width="0" />
<rect x="467.06" y="1727.19" width="12.8" height="12.8" fill="#ED7D31" stroke="none" stroke-width="0" />
<polyline points="205.72,1938.12 295.17,1919.34 384.02,1862.09 473.46,1745.81" fill="none" stroke="#A5A5A5" stroke-width="5.4" stroke-linejoin="round" stroke-linecap="round"/>
<polygon points="205.72,1931.72 212.12,1943.88 199.32,1943.88" fill="#A5A5A5" stroke="none" stroke-width="0"/>
<polygon points="295.17,1912.94 301.57,1925.1 288.77,1925.1" fill="#A5A5A5" stroke="none" stroke-width="0"/>
<polygon points="384.02,1855.69 390.42,1867.85 377.62,1867.85" fill="#A5A5A5" stroke="none" stroke-width="0"/>
<polygon points="473.46,1739.41 479.86,1751.57 467.06,1751.57" fill="#A5A5A5" stroke="none" stroke-width="0"/>
<polyline points="205.72,1936.63 295.17,1916.95 384.02,1849.27 473.46,1652.49" fill="none" stroke="#5B9BD5" stroke-width="5.4" stroke-linejoin="round" stroke-linecap="round"/>
<polygon points="205.72,1930.23 212.12,1936.63 205.72,1943.03 199.32,1936.63" fill="#5B9BD5" stroke="none" stroke-width="0"/>
<polygon points="295.17,1910.55 301.57,1916.95 295.17,1923.35 288.77,1916.95" fill="#5B9BD5" stroke="none" stroke-width="0"/>
<polygon points="384.02,1842.87 390.42,1849.27 384.02,1855.67 377.62,1849.27" fill="#5B9BD5" stroke="none" stroke-width="0"/>
<polygon points="473.46,1646.09 479.86,1652.49 473.46,1658.89 467.06,1652.49" fill="#5B9BD5" stroke="none" stroke-width="0"/>
<polyline points="205.72,1936.63 295.17,1916.36 384.02,1838.24 473.46,1650.41" fill="none" stroke="#FFC000" stroke-width="5.4" stroke-linejoin="round" stroke-linecap="round"/>
<line x1="199.32" y1="1930.23" x2="212.12" y2="1943.03" stroke="#FFC000" stroke-width="1.3" stroke-linecap="butt" />
<line x1="199.32" y1="1943.03" x2="212.12" y2="1930.23" stroke="#FFC000" stroke-width="1.3" stroke-linecap="butt" />
<line x1="288.77" y1="1909.96" x2="301.57" y2="1922.76" stroke="#FFC000" stroke-width="1.3" stroke-linecap="butt" />
<line x1="288.77" y1="1922.76" x2="301.57" y2="1909.96" stroke="#FFC000" stroke-width="1.3" stroke-linecap="butt" />
<line x1="377.62" y1="1831.84" x2="390.42" y2="1844.64" stroke="#FFC000" stroke-width="1.3" stroke-linecap="butt" />
<line x1="377.62" y1="1844.64" x2="390.42" y2="1831.84" stroke="#FFC000" stroke-width="1.3" stroke-linecap="butt" />
<line x1="467.06" y1="1644.01" x2="479.86" y2="1656.81" stroke="#FFC000" stroke-width="1.3" stroke-linecap="butt" />
<line x1="467.06" y1="1656.81" x2="479.86" y2="1644.01" stroke="#FFC000" stroke-width="1.3" stroke-linecap="butt" />
<line x1="164.88" y1="1554.51" x2="185.75" y2="1554.51" stroke="#4472C4" stroke-width="4.3" stroke-linecap="butt" />
<line x1="164.88" y1="1580.45" x2="185.75" y2="1580.45" stroke="#ED7D31" stroke-width="4.3" stroke-linecap="butt" />
<line x1="164.88" y1="1605.79" x2="185.75" y2="1605.79" stroke="#A5A5A5" stroke-width="4.3" stroke-linecap="butt" />
<line x1="164.88" y1="1631.13" x2="185.75" y2="1631.13" stroke="#FFC000" stroke-width="4.3" stroke-linecap="butt" />
<text font-size="26.7" text-anchor="start" fill="#000" textLength="60.66" lengthAdjust="spacingAndGlyphs" x="205.24" y="1563.05" ><tspan font-style="italic">siCTL</tspan></text>
<text font-size="26.7" text-anchor="start" fill="#000" textLength="104.06" lengthAdjust="spacingAndGlyphs" x="205.23" y="1588.39" ><tspan font-style="italic">siPRMT4</tspan></text>
<text font-size="26.7" text-anchor="start" fill="#000" textLength="244.23" lengthAdjust="spacingAndGlyphs" x="205.23" y="1614.33" ><tspan font-style="italic">siPRMT4</tspan><tspan font-style="normal">+WDPCP (L)</tspan></text>
<text font-size="26.7" text-anchor="start" fill="#000" textLength="245.73" lengthAdjust="spacingAndGlyphs" x="205.23" y="1639.97" ><tspan font-style="italic">siPRMT4</tspan><tspan font-style="normal">+WDPCP (S)</tspan></text>
<path d="M372.14 1544.26 H380.14 V1575.57 H372.14" fill="none" stroke="#000" stroke-width="1.9" stroke-linejoin="round"/>
<text class="st" font-size="22" text-anchor="middle"><tspan x="392.96" y="1556.44">*</tspan><tspan x="392.96" y="1571.1">*</tspan><tspan x="392.96" y="1585.76">*</tspan></text>
<path d="M458.01 1576.46 H466.01 V1607.17 H458.01" fill="none" stroke="#000" stroke-width="1.9" stroke-linejoin="round"/>
<text class="st" font-size="22" text-anchor="middle"><tspan x="481.51" y="1585.36">*</tspan><tspan x="481.51" y="1599.72">*</tspan><tspan x="481.51" y="1614.08">*</tspan></text>
<path d="M494.39 1600.32 H502.39 V1631.62 H494.39" fill="none" stroke="#000" stroke-width="1.9" stroke-linejoin="round"/>
<text class="st" font-size="22" text-anchor="middle"><tspan x="515.21" y="1622.63">*</tspan><tspan x="515.21" y="1634.95">*</tspan></text>
<line x1="623.11" y1="1605.33" x2="623.11" y2="1982.01" stroke="#000" stroke-width="1.9" stroke-linecap="butt" />
<line x1="613.81" y1="1981.06" x2="980.35" y2="1981.06" stroke="#000" stroke-width="1.9" stroke-linecap="butt" />
<line x1="613.81" y1="1981.06" x2="623.11" y2="1981.06" stroke="#000" stroke-width="1.9" stroke-linecap="butt" />
<text font-size="30.5" text-anchor="start" fill="#000" textLength="40.66" lengthAdjust="spacingAndGlyphs" x="558.81" y="1989.9" >0.0</text>
<line x1="613.81" y1="1906.1" x2="623.11" y2="1906.1" stroke="#000" stroke-width="1.9" stroke-linecap="butt" />
<text font-size="30.5" text-anchor="start" fill="#000" textLength="41.13" lengthAdjust="spacingAndGlyphs" x="558.8" y="1914.95" >0.2</text>
<line x1="613.81" y1="1831.14" x2="623.11" y2="1831.14" stroke="#000" stroke-width="1.9" stroke-linecap="butt" />
<text font-size="30.5" text-anchor="start" fill="#000" textLength="40.5" lengthAdjust="spacingAndGlyphs" x="558.82" y="1839.99" >0.4</text>
<line x1="613.81" y1="1756.19" x2="623.11" y2="1756.19" stroke="#000" stroke-width="1.9" stroke-linecap="butt" />
<text font-size="30.5" text-anchor="start" fill="#000" textLength="40.81" lengthAdjust="spacingAndGlyphs" x="558.81" y="1765.03" >0.6</text>
<line x1="613.81" y1="1681.23" x2="623.11" y2="1681.23" stroke="#000" stroke-width="1.9" stroke-linecap="butt" />
<text font-size="30.5" text-anchor="start" fill="#000" textLength="40.81" lengthAdjust="spacingAndGlyphs" x="558.81" y="1690.08" >0.8</text>
<line x1="613.81" y1="1606.28" x2="623.11" y2="1606.28" stroke="#000" stroke-width="1.9" stroke-linecap="butt" />
<text font-size="30.5" text-anchor="start" fill="#000" textLength="41.77" lengthAdjust="spacingAndGlyphs" x="557.73" y="1615.12" >1.0</text>
<line x1="623.11" y1="1981.06" x2="623.11" y2="1990.86" stroke="#000" stroke-width="1.9" stroke-linecap="butt" />
<line x1="711.96" y1="1981.06" x2="711.96" y2="1990.86" stroke="#000" stroke-width="1.9" stroke-linecap="butt" />
<line x1="801.11" y1="1981.06" x2="801.11" y2="1990.86" stroke="#000" stroke-width="1.9" stroke-linecap="butt" />
<line x1="890.55" y1="1981.06" x2="890.55" y2="1990.86" stroke="#000" stroke-width="1.9" stroke-linecap="butt" />
<line x1="979.4" y1="1981.06" x2="979.4" y2="1990.86" stroke="#000" stroke-width="1.9" stroke-linecap="butt" />
<text font-size="30.5" text-anchor="start" fill="#000" textLength="15.54" lengthAdjust="spacingAndGlyphs" x="659.07" y="2025.19" >1</text>
<text font-size="30.5" text-anchor="start" fill="#000" textLength="15.57" lengthAdjust="spacingAndGlyphs" x="748.92" y="2025.19" >2</text>
<text font-size="30.5" text-anchor="start" fill="#000" textLength="15.59" lengthAdjust="spacingAndGlyphs" x="838.05" y="2025.19" >3</text>
<text font-size="30.5" text-anchor="start" fill="#000" textLength="15.62" lengthAdjust="spacingAndGlyphs" x="927.62" y="2025.19" >4</text>
<line x1="935.28" y1="1648.02" x2="935.28" y2="1662.03" stroke="#000" stroke-width="2" stroke-linecap="butt" />
<line x1="927.28" y1="1648.02" x2="943.28" y2="1648.02" stroke="#000" stroke-width="2" stroke-linecap="butt" />
<line x1="927.28" y1="1662.03" x2="943.28" y2="1662.03" stroke="#000" stroke-width="2" stroke-linecap="butt" />
<line x1="935.28" y1="1704.07" x2="935.28" y2="1721.07" stroke="#000" stroke-width="2" stroke-linecap="butt" />
<line x1="927.28" y1="1704.07" x2="943.28" y2="1704.07" stroke="#000" stroke-width="2" stroke-linecap="butt" />
<line x1="927.28" y1="1721.07" x2="943.28" y2="1721.07" stroke="#000" stroke-width="2" stroke-linecap="butt" />
<line x1="935.28" y1="1803.06" x2="935.28" y2="1817.97" stroke="#000" stroke-width="2" stroke-linecap="butt" />
<line x1="927.28" y1="1803.06" x2="943.28" y2="1803.06" stroke="#000" stroke-width="2" stroke-linecap="butt" />
<line x1="927.28" y1="1817.97" x2="943.28" y2="1817.97" stroke="#000" stroke-width="2" stroke-linecap="butt" />
<line x1="845.83" y1="1846.89" x2="845.83" y2="1855.24" stroke="#000" stroke-width="2" stroke-linecap="butt" />
<line x1="838.83" y1="1846.89" x2="852.83" y2="1846.89" stroke="#000" stroke-width="2" stroke-linecap="butt" />
<line x1="838.83" y1="1855.24" x2="852.83" y2="1855.24" stroke="#000" stroke-width="2" stroke-linecap="butt" />
<line x1="845.83" y1="1858.81" x2="845.83" y2="1866.27" stroke="#000" stroke-width="2" stroke-linecap="butt" />
<line x1="838.83" y1="1858.81" x2="852.83" y2="1858.81" stroke="#000" stroke-width="2" stroke-linecap="butt" />
<line x1="838.83" y1="1866.27" x2="852.83" y2="1866.27" stroke="#000" stroke-width="2" stroke-linecap="butt" />
<line x1="845.83" y1="1879.09" x2="845.83" y2="1892.5" stroke="#000" stroke-width="2" stroke-linecap="butt" />
<line x1="838.83" y1="1879.09" x2="852.83" y2="1879.09" stroke="#000" stroke-width="2" stroke-linecap="butt" />
<line x1="838.83" y1="1892.5" x2="852.83" y2="1892.5" stroke="#000" stroke-width="2" stroke-linecap="butt" />
<line x1="667.24" y1="1936.33" x2="667.24" y2="1940.21" stroke="#000" stroke-width="2" stroke-linecap="butt" />
<line x1="661.24" y1="1936.33" x2="673.24" y2="1936.33" stroke="#000" stroke-width="2" stroke-linecap="butt" />
<line x1="661.24" y1="1940.21" x2="673.24" y2="1940.21" stroke="#000" stroke-width="2" stroke-linecap="butt" />
<line x1="756.68" y1="1910.39" x2="756.68" y2="1921.43" stroke="#000" stroke-width="2" stroke-linecap="butt" />
<line x1="750.68" y1="1910.39" x2="762.68" y2="1910.39" stroke="#000" stroke-width="2" stroke-linecap="butt" />
<line x1="750.68" y1="1921.43" x2="762.68" y2="1921.43" stroke="#000" stroke-width="2" stroke-linecap="butt" />
<polyline points="667.24,1938.72 756.68,1919.93 845.83,1891.61 935.28,1809.02" fill="none" stroke="#ED7D31" stroke-width="5.4" stroke-linejoin="round" stroke-linecap="round"/>
<rect x="660.84" y="1932.32" width="12.8" height="12.8" fill="#ED7D31" stroke="none" stroke-width="0" />
<rect x="750.28" y="1913.53" width="12.8" height="12.8" fill="#ED7D31" stroke="none" stroke-width="0" />
<rect x="839.43" y="1885.21" width="12.8" height="12.8" fill="#ED7D31" stroke="none" stroke-width="0" />
<rect x="928.88" y="1802.62" width="12.8" height="12.8" fill="#ED7D31" stroke="none" stroke-width="0" />
<polyline points="667.24,1938.12 756.68,1919.34 845.83,1881.17 935.28,1810.51" fill="none" stroke="#A5A5A5" stroke-width="5.4" stroke-linejoin="round" stroke-linecap="round"/>
<polygon points="667.24,1931.72 673.64,1943.88 660.84,1943.88" fill="#A5A5A5" stroke="none" stroke-width="0"/>
<polygon points="756.68,1912.94 763.08,1925.1 750.28,1925.1" fill="#A5A5A5" stroke="none" stroke-width="0"/>
<polygon points="845.83,1874.77 852.23,1886.93 839.43,1886.93" fill="#A5A5A5" stroke="none" stroke-width="0"/>
<polygon points="935.28,1804.11 941.68,1816.27 928.88,1816.27" fill="#A5A5A5" stroke="none" stroke-width="0"/>
<polyline points="667.24,1937.23 756.68,1914.87 845.83,1852.25 935.28,1654.58" fill="none" stroke="#4472C4" stroke-width="5.4" stroke-linejoin="round" stroke-linecap="round"/>
<polygon points="667.24,1930.83 673.64,1937.23 667.24,1943.63 660.84,1937.23" fill="#4472C4" stroke="none" stroke-width="0"/>
<polygon points="756.68,1908.47 763.08,1914.87 756.68,1921.27 750.28,1914.87" fill="#4472C4" stroke="none" stroke-width="0"/>
<polygon points="845.83,1845.85 852.23,1852.25 845.83,1858.65 839.43,1852.25" fill="#4472C4" stroke="none" stroke-width="0"/>
<polygon points="935.28,1648.18 941.68,1654.58 935.28,1660.98 928.88,1654.58" fill="#4472C4" stroke="none" stroke-width="0"/>
<polyline points="667.24,1937.23 756.68,1912.78 845.83,1861.79 935.28,1712.72" fill="none" stroke="#FFC000" stroke-width="5.4" stroke-linejoin="round" stroke-linecap="round"/>
<line x1="660.84" y1="1930.83" x2="673.64" y2="1943.63" stroke="#FFC000" stroke-width="1.3" stroke-linecap="butt" />
<line x1="660.84" y1="1943.63" x2="673.64" y2="1930.83" stroke="#FFC000" stroke-width="1.3" stroke-linecap="butt" />
<line x1="750.28" y1="1906.38" x2="763.08" y2="1919.18" stroke="#FFC000" stroke-width="1.3" stroke-linecap="butt" />
<line x1="750.28" y1="1919.18" x2="763.08" y2="1906.38" stroke="#FFC000" stroke-width="1.3" stroke-linecap="butt" />
<line x1="839.43" y1="1855.39" x2="852.23" y2="1868.19" stroke="#FFC000" stroke-width="1.3" stroke-linecap="butt" />
<line x1="839.43" y1="1868.19" x2="852.23" y2="1855.39" stroke="#FFC000" stroke-width="1.3" stroke-linecap="butt" />
<line x1="928.88" y1="1706.32" x2="941.68" y2="1719.12" stroke="#FFC000" stroke-width="1.3" stroke-linecap="butt" />
<line x1="928.88" y1="1719.12" x2="941.68" y2="1706.32" stroke="#FFC000" stroke-width="1.3" stroke-linecap="butt" />
<line x1="626.69" y1="1555.7" x2="647.86" y2="1555.7" stroke="#4472C4" stroke-width="4.3" stroke-linecap="butt" />
<line x1="626.69" y1="1581.04" x2="647.86" y2="1581.04" stroke="#ED7D31" stroke-width="4.3" stroke-linecap="butt" />
<line x1="626.69" y1="1606.68" x2="647.86" y2="1606.68" stroke="#A5A5A5" stroke-width="4.3" stroke-linecap="butt" />
<line x1="626.69" y1="1631.73" x2="647.86" y2="1631.73" stroke="#FFC000" stroke-width="4.3" stroke-linecap="butt" />
<text font-size="26.7" text-anchor="start" fill="#000" textLength="60.96" lengthAdjust="spacingAndGlyphs" x="667.05" y="1563.64" ><tspan font-style="italic">siCTL</tspan></text>
<text font-size="26.7" text-anchor="start" fill="#000" textLength="102.45" lengthAdjust="spacingAndGlyphs" x="667.04" y="1589.28" ><tspan font-style="italic">siPRMT5</tspan></text>
<text font-size="26.7" text-anchor="start" fill="#000" textLength="244.53" lengthAdjust="spacingAndGlyphs" x="667.04" y="1615.22" ><tspan font-style="italic">siPRMT5</tspan><tspan font-style="normal">+WDPCP (L)</tspan></text>
<text font-size="26.7" text-anchor="start" fill="#000" textLength="246.03" lengthAdjust="spacingAndGlyphs" x="667.04" y="1640.57" ><tspan font-style="italic">siPRMT5</tspan><tspan font-style="normal">+WDPCP (S)</tspan></text>
<path d="M834.25 1543.67 H842.25 V1574.97 H834.25" fill="none" stroke="#000" stroke-width="1.9" stroke-linejoin="round"/>
<text class="st" font-size="22" text-anchor="middle"><tspan x="855.07" y="1556.44">*</tspan><tspan x="855.07" y="1571.1">*</tspan><tspan x="855.07" y="1585.76">*</tspan></text>
<path d="M921.31 1576.46 H929.31 V1606.28 H921.31" fill="none" stroke="#000" stroke-width="1.9" stroke-linejoin="round"/>
<text font-size="24" text-anchor="start" textLength="35.78" lengthAdjust="spacingAndGlyphs" transform="translate(945.12,1573.48) rotate(90)" x="0" y="8.64">N.S</text>
<path d="M956.5 1599.72 H964.5 V1630.73 H956.5" fill="none" stroke="#000" stroke-width="1.9" stroke-linejoin="round"/>
<text class="st" font-size="22" text-anchor="middle"><tspan x="976.42" y="1612.19">*</tspan><tspan x="976.42" y="1627.3">*</tspan><tspan x="976.42" y="1642.41">*</tspan></text>
<line x1="1084.33" y1="1601.45" x2="1084.33" y2="1978.43" stroke="#000" stroke-width="1.9" stroke-linecap="butt" />
<line x1="1075.03" y1="1977.48" x2="1441.87" y2="1977.48" stroke="#000" stroke-width="1.9" stroke-linecap="butt" />
<line x1="1075.03" y1="1977.48" x2="1084.33" y2="1977.48" stroke="#000" stroke-width="1.9" stroke-linecap="butt" />
<text font-size="27" text-anchor="start" fill="#000" textLength="37.98" lengthAdjust="spacingAndGlyphs" x="1019.66" y="1985.31" >0.0</text>
<line x1="1075.03" y1="1902.46" x2="1084.33" y2="1902.46" stroke="#000" stroke-width="1.9" stroke-linecap="butt" />
<text font-size="27" text-anchor="start" fill="#000" textLength="38.42" lengthAdjust="spacingAndGlyphs" x="1019.64" y="1910.29" >0.2</text>
<line x1="1075.03" y1="1827.45" x2="1084.33" y2="1827.45" stroke="#000" stroke-width="1.9" stroke-linecap="butt" />
<text font-size="27" text-anchor="start" fill="#000" textLength="37.83" lengthAdjust="spacingAndGlyphs" x="1019.66" y="1835.28" >0.4</text>
<line x1="1075.03" y1="1752.43" x2="1084.33" y2="1752.43" stroke="#000" stroke-width="1.9" stroke-linecap="butt" />
<text font-size="27" text-anchor="start" fill="#000" textLength="38.12" lengthAdjust="spacingAndGlyphs" x="1019.65" y="1760.26" >0.6</text>
<line x1="1075.03" y1="1677.42" x2="1084.33" y2="1677.42" stroke="#000" stroke-width="1.9" stroke-linecap="butt" />
<text font-size="27" text-anchor="start" fill="#000" textLength="38.12" lengthAdjust="spacingAndGlyphs" x="1019.65" y="1685.25" >0.8</text>
<line x1="1075.03" y1="1602.4" x2="1084.33" y2="1602.4" stroke="#000" stroke-width="1.9" stroke-linecap="butt" />
<text font-size="27" text-anchor="start" fill="#000" textLength="39.02" lengthAdjust="spacingAndGlyphs" x="1018.64" y="1610.23" >1.0</text>
<line x1="1084.33" y1="1977.48" x2="1084.33" y2="1987.28" stroke="#000" stroke-width="1.9" stroke-linecap="butt" />
<line x1="1173.48" y1="1977.48" x2="1173.48" y2="1987.28" stroke="#000" stroke-width="1.9" stroke-linecap="butt" />
<line x1="1262.62" y1="1977.48" x2="1262.62" y2="1987.28" stroke="#000" stroke-width="1.9" stroke-linecap="butt" />
<line x1="1352.07" y1="1977.48" x2="1352.07" y2="1987.28" stroke="#000" stroke-width="1.9" stroke-linecap="butt" />
<line x1="1440.92" y1="1977.48" x2="1440.92" y2="1987.28" stroke="#000" stroke-width="1.9" stroke-linecap="butt" />
<text font-size="27" text-anchor="start" fill="#000" textLength="13.69" lengthAdjust="spacingAndGlyphs" x="1121.55" y="2024.3" >1</text>
<text font-size="27" text-anchor="start" fill="#000" textLength="13.72" lengthAdjust="spacingAndGlyphs" x="1211.06" y="2024.3" >2</text>
<text font-size="27" text-anchor="start" fill="#000" textLength="13.74" lengthAdjust="spacingAndGlyphs" x="1300.49" y="2024.3" >3</text>
<text font-size="27" text-anchor="start" fill="#000" textLength="13.77" lengthAdjust="spacingAndGlyphs" x="1390.05" y="2024.3" >4</text>
<line x1="1396.79" y1="1644.14" x2="1396.79" y2="1658.46" stroke="#000" stroke-width="2" stroke-linecap="butt" />
<line x1="1388.79" y1="1644.14" x2="1404.79" y2="1644.14" stroke="#000" stroke-width="2" stroke-linecap="butt" />
<line x1="1388.79" y1="1658.46" x2="1404.79" y2="1658.46" stroke="#000" stroke-width="2" stroke-linecap="butt" />
<line x1="1396.79" y1="1674.85" x2="1396.79" y2="1703.18" stroke="#000" stroke-width="2" stroke-linecap="butt" />
<line x1="1388.79" y1="1674.85" x2="1404.79" y2="1674.85" stroke="#000" stroke-width="2" stroke-linecap="butt" />
<line x1="1388.79" y1="1703.18" x2="1404.79" y2="1703.18" stroke="#000" stroke-width="2" stroke-linecap="butt" />
<line x1="1396.79" y1="1755.35" x2="1396.79" y2="1782.19" stroke="#000" stroke-width="2" stroke-linecap="butt" />
<line x1="1388.79" y1="1755.35" x2="1404.79" y2="1755.35" stroke="#000" stroke-width="2" stroke-linecap="butt" />
<line x1="1388.79" y1="1782.19" x2="1404.79" y2="1782.19" stroke="#000" stroke-width="2" stroke-linecap="butt" />
<line x1="1307.35" y1="1843.31" x2="1307.35" y2="1852.25" stroke="#000" stroke-width="2" stroke-linecap="butt" />
<line x1="1300.35" y1="1843.31" x2="1314.35" y2="1843.31" stroke="#000" stroke-width="2" stroke-linecap="butt" />
<line x1="1300.35" y1="1852.25" x2="1314.35" y2="1852.25" stroke="#000" stroke-width="2" stroke-linecap="butt" />
<line x1="1307.35" y1="1859.71" x2="1307.35" y2="1871.63" stroke="#000" stroke-width="2" stroke-linecap="butt" />
<line x1="1300.35" y1="1859.71" x2="1314.35" y2="1859.71" stroke="#000" stroke-width="2" stroke-linecap="butt" />
<line x1="1300.35" y1="1871.63" x2="1314.35" y2="1871.63" stroke="#000" stroke-width="2" stroke-linecap="butt" />
<line x1="1128.75" y1="1933.35" x2="1128.75" y2="1937.23" stroke="#000" stroke-width="2" stroke-linecap="butt" />
<line x1="1122.75" y1="1933.35" x2="1134.75" y2="1933.35" stroke="#000" stroke-width="2" stroke-linecap="butt" />
<line x1="1122.75" y1="1937.23" x2="1134.75" y2="1937.23" stroke="#000" stroke-width="2" stroke-linecap="butt" />
<line x1="1217.9" y1="1910.99" x2="1217.9" y2="1916.95" stroke="#000" stroke-width="2" stroke-linecap="butt" />
<line x1="1211.9" y1="1910.99" x2="1223.9" y2="1910.99" stroke="#000" stroke-width="2" stroke-linecap="butt" />
<line x1="1211.9" y1="1916.95" x2="1223.9" y2="1916.95" stroke="#000" stroke-width="2" stroke-linecap="butt" />
<polyline points="1128.75,1935.74 1217.9,1914.87 1307.35,1862.69 1396.79,1762.81" fill="none" stroke="#ED7D31" stroke-width="5.4" stroke-linejoin="round" stroke-linecap="round"/>
<rect x="1122.35" y="1929.34" width="12.8" height="12.8" fill="#ED7D31" stroke="none" stroke-width="0" />
<rect x="1211.5" y="1908.47" width="12.8" height="12.8" fill="#ED7D31" stroke="none" stroke-width="0" />
<rect x="1300.95" y="1856.29" width="12.8" height="12.8" fill="#ED7D31" stroke="none" stroke-width="0" />
<rect x="1390.39" y="1756.41" width="12.8" height="12.8" fill="#ED7D31" stroke="none" stroke-width="0" />
<polyline points="1128.75,1936.33 1217.9,1914.87 1307.35,1868.65 1396.79,1771.75" fill="none" stroke="#A5A5A5" stroke-width="5.4" stroke-linejoin="round" stroke-linecap="round"/>
<polygon points="1128.75,1929.93 1135.15,1942.09 1122.35,1942.09" fill="#A5A5A5" stroke="none" stroke-width="0"/>
<polygon points="1217.9,1908.47 1224.3,1920.63 1211.5,1920.63" fill="#A5A5A5" stroke="none" stroke-width="0"/>
<polygon points="1307.35,1862.25 1313.75,1874.41 1300.95,1874.41" fill="#A5A5A5" stroke="none" stroke-width="0"/>
<polygon points="1396.79,1765.35 1403.19,1777.51 1390.39,1777.51" fill="#A5A5A5" stroke="none" stroke-width="0"/>
<polyline points="1128.75,1934.25 1217.9,1912.48 1307.35,1847.78 1396.79,1651.6" fill="none" stroke="#4472C4" stroke-width="5.4" stroke-linejoin="round" stroke-linecap="round"/>
<polygon points="1128.75,1927.85 1135.15,1934.25 1128.75,1940.65 1122.35,1934.25" fill="#4472C4" stroke="none" stroke-width="0"/>
<polygon points="1217.9,1906.08 1224.3,1912.48 1217.9,1918.88 1211.5,1912.48" fill="#4472C4" stroke="none" stroke-width="0"/>
<polygon points="1307.35,1841.38 1313.75,1847.78 1307.35,1854.18 1300.95,1847.78" fill="#4472C4" stroke="none" stroke-width="0"/>
<polygon points="1396.79,1645.2 1403.19,1651.6 1396.79,1658 1390.39,1651.6" fill="#4472C4" stroke="none" stroke-width="0"/>
<polyline points="1128.75,1935.74 1217.9,1913.38 1307.35,1852.25 1396.79,1689.17" fill="none" stroke="#FFC000" stroke-width="5.4" stroke-linejoin="round" stroke-linecap="round"/>
<line x1="1122.35" y1="1929.34" x2="1135.15" y2="1942.14" stroke="#FFC000" stroke-width="1.3" stroke-linecap="butt" />
<line x1="1122.35" y1="1942.14" x2="1135.15" y2="1929.34" stroke="#FFC000" stroke-width="1.3" stroke-linecap="butt" />
<line x1="1211.5" y1="1906.98" x2="1224.3" y2="1919.78" stroke="#FFC000" stroke-width="1.3" stroke-linecap="butt" />
<line x1="1211.5" y1="1919.78" x2="1224.3" y2="1906.98" stroke="#FFC000" stroke-width="1.3" stroke-linecap="butt" />
<line x1="1300.95" y1="1845.85" x2="1313.75" y2="1858.65" stroke="#FFC000" stroke-width="1.3" stroke-linecap="butt" />
<line x1="1300.95" y1="1858.65" x2="1313.75" y2="1845.85" stroke="#FFC000" stroke-width="1.3" stroke-linecap="butt" />
<line x1="1390.39" y1="1682.77" x2="1403.19" y2="1695.57" stroke="#FFC000" stroke-width="1.3" stroke-linecap="butt" />
<line x1="1390.39" y1="1695.57" x2="1403.19" y2="1682.77" stroke="#FFC000" stroke-width="1.3" stroke-linecap="butt" />
<line x1="1089.1" y1="1554.51" x2="1109.97" y2="1554.51" stroke="#4472C4" stroke-width="4.3" stroke-linecap="butt" />
<line x1="1089.1" y1="1579.85" x2="1109.97" y2="1579.85" stroke="#ED7D31" stroke-width="4.3" stroke-linecap="butt" />
<line x1="1089.1" y1="1605.79" x2="1109.97" y2="1605.79" stroke="#A5A5A5" stroke-width="4.3" stroke-linecap="butt" />
<line x1="1089.1" y1="1631.13" x2="1109.97" y2="1631.13" stroke="#FFC000" stroke-width="4.3" stroke-linecap="butt" />
<text font-size="26.7" text-anchor="start" fill="#000" textLength="60.96" lengthAdjust="spacingAndGlyphs" x="1129.46" y="1563.05" ><tspan font-style="italic">siCTL</tspan></text>
<text font-size="26.7" text-anchor="start" fill="#000" textLength="102.42" lengthAdjust="spacingAndGlyphs" x="1129.45" y="1588.39" ><tspan font-style="italic">siPRMT7</tspan></text>
<text font-size="26.7" text-anchor="start" fill="#000" textLength="244.83" lengthAdjust="spacingAndGlyphs" x="1129.45" y="1614.33" ><tspan font-style="italic">siPRMT7</tspan><tspan font-style="normal">+WDPCP (L)</tspan></text>
<text font-size="26.7" text-anchor="start" fill="#000" textLength="246.33" lengthAdjust="spacingAndGlyphs" x="1129.45" y="1639.97" ><tspan font-style="italic">siPRMT7</tspan><tspan font-style="normal">+WDPCP (S)</tspan></text>
<path d="M1296.36 1542.77 H1304.36 V1574.08 H1296.36" fill="none" stroke="#000" stroke-width="1.9" stroke-linejoin="round"/>
<text class="st" font-size="22" text-anchor="middle"><tspan x="1317.19" y="1555.54">*</tspan><tspan x="1317.19" y="1569.9">*</tspan><tspan x="1317.19" y="1584.27">*</tspan></text>
<path d="M1382.83 1574.97 H1390.83 V1605.38 H1382.83" fill="none" stroke="#000" stroke-width="1.9" stroke-linejoin="round"/>
<text font-size="24" text-anchor="start" textLength="35.78" lengthAdjust="spacingAndGlyphs" transform="translate(1406.33,1571.99) rotate(90)" x="0" y="8.64">N.S</text>
<path d="M1418.01 1598.83 H1426.01 V1630.13 H1418.01" fill="none" stroke="#000" stroke-width="1.9" stroke-linejoin="round"/>
<text class="st" font-size="22" text-anchor="middle"><tspan x="1438.53" y="1610.7">*</tspan><tspan x="1438.53" y="1625.81">*</tspan><tspan x="1438.53" y="1640.92">*</tspan></text>
<line x1="1547.68" y1="1609.8" x2="1547.68" y2="1976.94" stroke="#000" stroke-width="1.9" stroke-linecap="butt" />
<line x1="1538.38" y1="1975.99" x2="1905.22" y2="1975.99" stroke="#000" stroke-width="1.9" stroke-linecap="butt" />
<line x1="1538.38" y1="1975.99" x2="1547.68" y2="1975.99" stroke="#000" stroke-width="1.9" stroke-linecap="butt" />
<text font-size="27" text-anchor="start" fill="#000" textLength="37.35" lengthAdjust="spacingAndGlyphs" x="1483.33" y="1983.82" >0.0</text>
<line x1="1538.38" y1="1902.94" x2="1547.68" y2="1902.94" stroke="#000" stroke-width="1.9" stroke-linecap="butt" />
<text font-size="27" text-anchor="start" fill="#000" textLength="37.78" lengthAdjust="spacingAndGlyphs" x="1483.31" y="1910.77" >0.2</text>
<line x1="1538.38" y1="1829.89" x2="1547.68" y2="1829.89" stroke="#000" stroke-width="1.9" stroke-linecap="butt" />
<text font-size="27" text-anchor="start" fill="#000" textLength="37.21" lengthAdjust="spacingAndGlyphs" x="1483.33" y="1837.72" >0.4</text>
<line x1="1538.38" y1="1756.85" x2="1547.68" y2="1756.85" stroke="#000" stroke-width="1.9" stroke-linecap="butt" />
<text font-size="27" text-anchor="start" fill="#000" textLength="37.49" lengthAdjust="spacingAndGlyphs" x="1483.32" y="1764.68" >0.6</text>
<line x1="1538.38" y1="1683.8" x2="1547.68" y2="1683.8" stroke="#000" stroke-width="1.9" stroke-linecap="butt" />
<text font-size="27" text-anchor="start" fill="#000" textLength="37.49" lengthAdjust="spacingAndGlyphs" x="1483.32" y="1691.63" >0.8</text>
<line x1="1538.38" y1="1610.75" x2="1547.68" y2="1610.75" stroke="#000" stroke-width="1.9" stroke-linecap="butt" />
<text font-size="27" text-anchor="start" fill="#000" textLength="38.37" lengthAdjust="spacingAndGlyphs" x="1482.33" y="1618.58" >1.0</text>
<line x1="1547.68" y1="1975.99" x2="1547.68" y2="1985.79" stroke="#000" stroke-width="1.9" stroke-linecap="butt" />
<line x1="1636.83" y1="1975.99" x2="1636.83" y2="1985.79" stroke="#000" stroke-width="1.9" stroke-linecap="butt" />
<line x1="1725.98" y1="1975.99" x2="1725.98" y2="1985.79" stroke="#000" stroke-width="1.9" stroke-linecap="butt" />
<line x1="1815.12" y1="1975.99" x2="1815.12" y2="1985.79" stroke="#000" stroke-width="1.9" stroke-linecap="butt" />
<line x1="1904.27" y1="1975.99" x2="1904.27" y2="1985.79" stroke="#000" stroke-width="1.9" stroke-linecap="butt" />
<text font-size="27" text-anchor="start" fill="#000" textLength="13.69" lengthAdjust="spacingAndGlyphs" x="1584.91" y="2023.1" >1</text>
<text font-size="27" text-anchor="start" fill="#000" textLength="13.72" lengthAdjust="spacingAndGlyphs" x="1674.11" y="2023.1" >2</text>
<text font-size="27" text-anchor="start" fill="#000" textLength="13.74" lengthAdjust="spacingAndGlyphs" x="1763.55" y="2023.1" >3</text>
<text font-size="27" text-anchor="start" fill="#000" textLength="13.77" lengthAdjust="spacingAndGlyphs" x="1853.1" y="2023.1" >4</text>
<line x1="1859.85" y1="1674.26" x2="1859.85" y2="1695.72" stroke="#000" stroke-width="2" stroke-linecap="butt" />
<line x1="1851.85" y1="1674.26" x2="1867.85" y2="1674.26" stroke="#000" stroke-width="2" stroke-linecap="butt" />
<line x1="1851.85" y1="1695.72" x2="1867.85" y2="1695.72" stroke="#000" stroke-width="2" stroke-linecap="butt" />
<line x1="1859.85" y1="1685.29" x2="1859.85" y2="1695.72" stroke="#000" stroke-width="2" stroke-linecap="butt" />
<line x1="1851.85" y1="1685.29" x2="1867.85" y2="1685.29" stroke="#000" stroke-width="2" stroke-linecap="butt" />
<line x1="1851.85" y1="1695.72" x2="1867.85" y2="1695.72" stroke="#000" stroke-width="2" stroke-linecap="butt" />
<line x1="1859.85" y1="1731.5" x2="1859.85" y2="1744.92" stroke="#000" stroke-width="2" stroke-linecap="butt" />
<line x1="1851.85" y1="1731.5" x2="1867.85" y2="1731.5" stroke="#000" stroke-width="2" stroke-linecap="butt" />
<line x1="1851.85" y1="1744.92" x2="1867.85" y2="1744.92" stroke="#000" stroke-width="2" stroke-linecap="butt" />
<line x1="1859.85" y1="1744.92" x2="1859.85" y2="1756.85" stroke="#000" stroke-width="2" stroke-linecap="butt" />
<line x1="1851.85" y1="1744.92" x2="1867.85" y2="1744.92" stroke="#000" stroke-width="2" stroke-linecap="butt" />
<line x1="1851.85" y1="1756.85" x2="1867.85" y2="1756.85" stroke="#000" stroke-width="2" stroke-linecap="butt" />
<line x1="1770.4" y1="1839.43" x2="1770.4" y2="1851.36" stroke="#000" stroke-width="2" stroke-linecap="butt" />
<line x1="1763.4" y1="1839.43" x2="1777.4" y2="1839.43" stroke="#000" stroke-width="2" stroke-linecap="butt" />
<line x1="1763.4" y1="1851.36" x2="1777.4" y2="1851.36" stroke="#000" stroke-width="2" stroke-linecap="butt" />
<line x1="1770.4" y1="1859.71" x2="1770.4" y2="1865.07" stroke="#000" stroke-width="2" stroke-linecap="butt" />
<line x1="1763.4" y1="1859.71" x2="1777.4" y2="1859.71" stroke="#000" stroke-width="2" stroke-linecap="butt" />
<line x1="1763.4" y1="1865.07" x2="1777.4" y2="1865.07" stroke="#000" stroke-width="2" stroke-linecap="butt" />
<line x1="1592.11" y1="1927.39" x2="1592.11" y2="1934.25" stroke="#000" stroke-width="2" stroke-linecap="butt" />
<line x1="1586.11" y1="1927.39" x2="1598.11" y2="1927.39" stroke="#000" stroke-width="2" stroke-linecap="butt" />
<line x1="1586.11" y1="1934.25" x2="1598.11" y2="1934.25" stroke="#000" stroke-width="2" stroke-linecap="butt" />
<line x1="1680.96" y1="1902.94" x2="1680.96" y2="1914.87" stroke="#000" stroke-width="2" stroke-linecap="butt" />
<line x1="1674.96" y1="1902.94" x2="1686.96" y2="1902.94" stroke="#000" stroke-width="2" stroke-linecap="butt" />
<line x1="1674.96" y1="1914.87" x2="1686.96" y2="1914.87" stroke="#000" stroke-width="2" stroke-linecap="butt" />
<polyline points="1592.11,1930.67 1680.96,1913.38 1770.4,1862.69 1859.85,1750.88" fill="none" stroke="#ED7D31" stroke-width="5.4" stroke-linejoin="round" stroke-linecap="round"/>
<rect x="1585.71" y="1924.27" width="12.8" height="12.8" fill="#ED7D31" stroke="none" stroke-width="0" />
<rect x="1674.56" y="1906.98" width="12.8" height="12.8" fill="#ED7D31" stroke="none" stroke-width="0" />
<rect x="1764" y="1856.29" width="12.8" height="12.8" fill="#ED7D31" stroke="none" stroke-width="0" />
<rect x="1853.45" y="1744.48" width="12.8" height="12.8" fill="#ED7D31" stroke="none" stroke-width="0" />
<polyline points="1592.11,1932.75 1680.96,1908.9 1770.4,1850.76 1859.85,1737.47" fill="none" stroke="#A5A5A5" stroke-width="5.4" stroke-linejoin="round" stroke-linecap="round"/>
<polygon points="1592.11,1926.35 1598.51,1938.51 1585.71,1938.51" fill="#A5A5A5" stroke="none" stroke-width="0"/>
<polygon points="1680.96,1902.5 1687.36,1914.66 1674.56,1914.66" fill="#A5A5A5" stroke="none" stroke-width="0"/>
<polygon points="1770.4,1844.36 1776.8,1856.52 1764,1856.52" fill="#A5A5A5" stroke="none" stroke-width="0"/>
<polygon points="1859.85,1731.07 1866.25,1743.23 1853.45,1743.23" fill="#A5A5A5" stroke="none" stroke-width="0"/>
<polyline points="1592.11,1929.77 1680.96,1905.32 1770.4,1844.8 1859.85,1691.85" fill="none" stroke="#4472C4" stroke-width="5.4" stroke-linejoin="round" stroke-linecap="round"/>
<polygon points="1592.11,1923.37 1598.51,1929.77 1592.11,1936.17 1585.71,1929.77" fill="#4472C4" stroke="none" stroke-width="0"/>
<polygon points="1680.96,1898.92 1687.36,1905.32 1680.96,1911.72 1674.56,1905.32" fill="#4472C4" stroke="none" stroke-width="0"/>
<polygon points="1770.4,1838.4 1776.8,1844.8 1770.4,1851.2 1764,1844.8" fill="#4472C4" stroke="none" stroke-width="0"/>
<polygon points="1859.85,1685.45 1866.25,1691.85 1859.85,1698.25 1853.45,1691.85" fill="#4472C4" stroke="none" stroke-width="0"/>
<polyline points="1592.11,1928.88 1680.96,1904.43 1770.4,1841.82 1859.85,1686.18" fill="none" stroke="#FFC000" stroke-width="5.4" stroke-linejoin="round" stroke-linecap="round"/>
<line x1="1585.71" y1="1922.48" x2="1598.51" y2="1935.28" stroke="#FFC000" stroke-width="1.3" stroke-linecap="butt" />
<line x1="1585.71" y1="1935.28" x2="1598.51" y2="1922.48" stroke="#FFC000" stroke-width="1.3" stroke-linecap="butt" />
<line x1="1674.56" y1="1898.03" x2="1687.36" y2="1910.83" stroke="#FFC000" stroke-width="1.3" stroke-linecap="butt" />
<line x1="1674.56" y1="1910.83" x2="1687.36" y2="1898.03" stroke="#FFC000" stroke-width="1.3" stroke-linecap="butt" />
<line x1="1764" y1="1835.42" x2="1776.8" y2="1848.22" stroke="#FFC000" stroke-width="1.3" stroke-linecap="butt" />
<line x1="1764" y1="1848.22" x2="1776.8" y2="1835.42" stroke="#FFC000" stroke-width="1.3" stroke-linecap="butt" />
<line x1="1853.45" y1="1679.78" x2="1866.25" y2="1692.58" stroke="#FFC000" stroke-width="1.3" stroke-linecap="butt" />
<line x1="1853.45" y1="1692.58" x2="1866.25" y2="1679.78" stroke="#FFC000" stroke-width="1.3" stroke-linecap="butt" />
<line x1="1550.37" y1="1555.7" x2="1571.24" y2="1555.7" stroke="#4472C4" stroke-width="4.3" stroke-linecap="butt" />
<line x1="1550.37" y1="1581.04" x2="1571.24" y2="1581.04" stroke="#ED7D31" stroke-width="4.3" stroke-linecap="butt" />
<line x1="1550.37" y1="1606.68" x2="1571.24" y2="1606.68" stroke="#A5A5A5" stroke-width="4.3" stroke-linecap="butt" />
<line x1="1550.37" y1="1632.03" x2="1571.24" y2="1632.03" stroke="#FFC000" stroke-width="4.3" stroke-linecap="butt" />
<text font-size="26.7" text-anchor="start" fill="#000" textLength="60.96" lengthAdjust="spacingAndGlyphs" x="1590.13" y="1563.94" ><tspan font-style="italic">siCTL</tspan></text>
<text font-size="26.7" text-anchor="start" fill="#000" textLength="130.66" lengthAdjust="spacingAndGlyphs" x="1590.12" y="1589.88" ><tspan font-style="italic">sihnRNPA1</tspan></text>
<text font-size="26.7" text-anchor="start" fill="#000" textLength="271.68" lengthAdjust="spacingAndGlyphs" x="1590.12" y="1615.22" ><tspan font-style="italic">sihnRNPA1</tspan><tspan font-style="normal">+WDPCP (L)</tspan></text>
<text font-size="26.7" text-anchor="start" fill="#000" textLength="273.18" lengthAdjust="spacingAndGlyphs" x="1590.12" y="1641.16" ><tspan font-style="italic">sihnRNPA1</tspan><tspan font-style="normal">+WDPCP (S)</tspan></text>
<path d="M1783.87 1543.67 H1791.87 V1574.97 H1783.87" fill="none" stroke="#000" stroke-width="1.9" stroke-linejoin="round"/>
<text class="st" font-size="22" text-anchor="middle"><tspan x="1804.69" y="1556.44">*</tspan><tspan x="1804.69" y="1571.1">*</tspan><tspan x="1804.69" y="1585.76">*</tspan></text>
<path d="M1870.63 1575.57 H1878.63 V1606.28 H1870.63" fill="none" stroke="#000" stroke-width="1.9" stroke-linejoin="round"/>
<text class="st" font-size="22" text-anchor="middle"><tspan x="1889.66" y="1604.94">*</tspan></text>
<path d="M1905.51 1599.72 H1913.51 V1630.73 H1905.51" fill="none" stroke="#000" stroke-width="1.9" stroke-linejoin="round"/>
<text class="st" font-size="22" text-anchor="middle"><tspan x="1926.04" y="1621.13">*</tspan><tspan x="1926.04" y="1634.95">*</tspan></text>
<line x1="158.91" y1="2119.96" x2="158.91" y2="2500.51" stroke="#000" stroke-width="1.9" stroke-linecap="butt" />
<line x1="149.61" y1="2499.56" x2="520.33" y2="2499.56" stroke="#000" stroke-width="1.9" stroke-linecap="butt" />
<line x1="149.61" y1="2499.56" x2="158.91" y2="2499.56" stroke="#000" stroke-width="1.9" stroke-linecap="butt" />
<text font-size="26" text-anchor="start" fill="#000" textLength="36.72" lengthAdjust="spacingAndGlyphs" x="95.17" y="2507.1" >0.0</text>
<line x1="149.61" y1="2423.83" x2="158.91" y2="2423.83" stroke="#000" stroke-width="1.9" stroke-linecap="butt" />
<text font-size="26" text-anchor="start" fill="#000" textLength="37.14" lengthAdjust="spacingAndGlyphs" x="95.16" y="2431.37" >0.2</text>
<line x1="149.61" y1="2348.1" x2="158.91" y2="2348.1" stroke="#000" stroke-width="1.9" stroke-linecap="butt" />
<text font-size="26" text-anchor="start" fill="#000" textLength="36.58" lengthAdjust="spacingAndGlyphs" x="95.18" y="2355.64" >0.4</text>
<line x1="149.61" y1="2272.37" x2="158.91" y2="2272.37" stroke="#000" stroke-width="1.9" stroke-linecap="butt" />
<text font-size="26" text-anchor="start" fill="#000" textLength="36.86" lengthAdjust="spacingAndGlyphs" x="95.17" y="2279.91" >0.6</text>
<line x1="149.61" y1="2196.64" x2="158.91" y2="2196.64" stroke="#000" stroke-width="1.9" stroke-linecap="butt" />
<text font-size="26" text-anchor="start" fill="#000" textLength="36.86" lengthAdjust="spacingAndGlyphs" x="95.17" y="2204.18" >0.8</text>
<line x1="149.61" y1="2120.91" x2="158.91" y2="2120.91" stroke="#000" stroke-width="1.9" stroke-linecap="butt" />
<text font-size="26" text-anchor="start" fill="#000" textLength="37.72" lengthAdjust="spacingAndGlyphs" x="94.19" y="2128.45" >1.0</text>
<line x1="158.91" y1="2499.56" x2="158.91" y2="2509.36" stroke="#000" stroke-width="1.9" stroke-linecap="butt" />
<line x1="249.25" y1="2499.56" x2="249.25" y2="2509.36" stroke="#000" stroke-width="1.9" stroke-linecap="butt" />
<line x1="339.3" y1="2499.56" x2="339.3" y2="2509.36" stroke="#000" stroke-width="1.9" stroke-linecap="butt" />
<line x1="429.34" y1="2499.56" x2="429.34" y2="2509.36" stroke="#000" stroke-width="1.9" stroke-linecap="butt" />
<line x1="519.38" y1="2499.56" x2="519.38" y2="2509.36" stroke="#000" stroke-width="1.9" stroke-linecap="butt" />
<text font-size="27" text-anchor="start" fill="#000" textLength="13.69" lengthAdjust="spacingAndGlyphs" x="197.33" y="2544.69" >1</text>
<text font-size="27" text-anchor="start" fill="#000" textLength="13.72" lengthAdjust="spacingAndGlyphs" x="287.73" y="2544.69" >2</text>
<text font-size="27" text-anchor="start" fill="#000" textLength="13.74" lengthAdjust="spacingAndGlyphs" x="377.76" y="2544.69" >3</text>
<text font-size="27" text-anchor="start" fill="#000" textLength="13.77" lengthAdjust="spacingAndGlyphs" x="467.91" y="2544.69" >4</text>
<text font-size="26.7" text-anchor="start" fill="#000" textLength="43.82" lengthAdjust="spacingAndGlyphs" x="96.05" y="2535.34" >Day</text>
<text font-size="26.7" text-anchor="start" fill="#000" textLength="221.72" lengthAdjust="spacingAndGlyphs" transform="translate(38.16,2432.3) rotate(-90)" x="0" y="0" >Normalized Values</text>
<text font-size="26.7" text-anchor="start" fill="#000" textLength="256.22" lengthAdjust="spacingAndGlyphs" transform="translate(73.05,2445.18) rotate(-90)" x="0" y="0" >(Absorbance 490 nm)</text>
<line x1="474.66" y1="2140.29" x2="474.66" y2="2142.08" stroke="#000" stroke-width="2" stroke-linecap="butt" />
<line x1="467.66" y1="2140.29" x2="481.66" y2="2140.29" stroke="#000" stroke-width="2" stroke-linecap="butt" />
<line x1="467.66" y1="2142.08" x2="481.66" y2="2142.08" stroke="#000" stroke-width="2" stroke-linecap="butt" />
<line x1="474.66" y1="2163.55" x2="474.66" y2="2177.56" stroke="#000" stroke-width="2" stroke-linecap="butt" />
<line x1="466.66" y1="2163.55" x2="482.66" y2="2163.55" stroke="#000" stroke-width="2" stroke-linecap="butt" />
<line x1="466.66" y1="2177.56" x2="482.66" y2="2177.56" stroke="#000" stroke-width="2" stroke-linecap="butt" />
<line x1="474.66" y1="2231.23" x2="474.66" y2="2254.48" stroke="#000" stroke-width="2" stroke-linecap="butt" />
<line x1="466.66" y1="2231.23" x2="482.66" y2="2231.23" stroke="#000" stroke-width="2" stroke-linecap="butt" />
<line x1="466.66" y1="2254.48" x2="482.66" y2="2254.48" stroke="#000" stroke-width="2" stroke-linecap="butt" />
<line x1="474.66" y1="2277.44" x2="474.66" y2="2286.68" stroke="#000" stroke-width="2" stroke-linecap="butt" />
<line x1="466.66" y1="2277.44" x2="482.66" y2="2277.44" stroke="#000" stroke-width="2" stroke-linecap="butt" />
<line x1="466.66" y1="2286.68" x2="482.66" y2="2286.68" stroke="#000" stroke-width="2" stroke-linecap="butt" />
<line x1="384.62" y1="2364.8" x2="384.62" y2="2372.25" stroke="#000" stroke-width="2" stroke-linecap="butt" />
<line x1="377.62" y1="2364.8" x2="391.62" y2="2364.8" stroke="#000" stroke-width="2" stroke-linecap="butt" />
<line x1="377.62" y1="2372.25" x2="391.62" y2="2372.25" stroke="#000" stroke-width="2" stroke-linecap="butt" />
<line x1="384.62" y1="2375.24" x2="384.62" y2="2382.69" stroke="#000" stroke-width="2" stroke-linecap="butt" />
<line x1="377.62" y1="2375.24" x2="391.62" y2="2375.24" stroke="#000" stroke-width="2" stroke-linecap="butt" />
<line x1="377.62" y1="2382.69" x2="391.62" y2="2382.69" stroke="#000" stroke-width="2" stroke-linecap="butt" />
<line x1="204.53" y1="2453.35" x2="204.53" y2="2458.12" stroke="#000" stroke-width="2" stroke-linecap="butt" />
<line x1="198.53" y1="2453.35" x2="210.53" y2="2453.35" stroke="#000" stroke-width="2" stroke-linecap="butt" />
<line x1="198.53" y1="2458.12" x2="210.53" y2="2458.12" stroke="#000" stroke-width="2" stroke-linecap="butt" />
<line x1="294.57" y1="2431.29" x2="294.57" y2="2440.83" stroke="#000" stroke-width="2" stroke-linecap="butt" />
<line x1="288.57" y1="2431.29" x2="300.57" y2="2431.29" stroke="#000" stroke-width="2" stroke-linecap="butt" />
<line x1="288.57" y1="2440.83" x2="300.57" y2="2440.83" stroke="#000" stroke-width="2" stroke-linecap="butt" />
<polyline points="204.53,2457.23 294.57,2438.44 384.62,2379.71 474.66,2242.56" fill="none" stroke="#ED7D31" stroke-width="5.4" stroke-linejoin="round" stroke-linecap="round"/>
<rect x="198.13" y="2450.83" width="12.8" height="12.8" fill="#ED7D31" stroke="none" stroke-width="0" />
<rect x="288.17" y="2432.04" width="12.8" height="12.8" fill="#ED7D31" stroke="none" stroke-width="0" />
<rect x="378.22" y="2373.31" width="12.8" height="12.8" fill="#ED7D31" stroke="none" stroke-width="0" />
<rect x="468.26" y="2236.16" width="12.8" height="12.8" fill="#ED7D31" stroke="none" stroke-width="0" />
<polyline points="204.53,2456.33 294.57,2438.74 384.62,2375.24 474.66,2282.81" fill="none" stroke="#A5A5A5" stroke-width="5.4" stroke-linejoin="round" stroke-linecap="round"/>
<polygon points="204.53,2449.93 210.93,2462.09 198.13,2462.09" fill="#A5A5A5" stroke="none" stroke-width="0"/>
<polygon points="294.57,2432.34 300.97,2444.5 288.17,2444.5" fill="#A5A5A5" stroke="none" stroke-width="0"/>
<polygon points="384.62,2368.84 391.02,2381 378.22,2381" fill="#A5A5A5" stroke="none" stroke-width="0"/>
<polygon points="474.66,2276.41 481.06,2288.57 468.26,2288.57" fill="#A5A5A5" stroke="none" stroke-width="0"/>
<polyline points="204.53,2454.25 294.57,2433.38 384.62,2370.17 474.66,2171" fill="none" stroke="#4472C4" stroke-width="5.4" stroke-linejoin="round" stroke-linecap="round"/>
<polygon points="204.53,2447.85 210.93,2454.25 204.53,2460.65 198.13,2454.25" fill="#4472C4" stroke="none" stroke-width="0"/>
<polygon points="294.57,2426.98 300.97,2433.38 294.57,2439.78 288.17,2433.38" fill="#4472C4" stroke="none" stroke-width="0"/>
<polygon points="384.62,2363.77 391.02,2370.17 384.62,2376.57 378.22,2370.17" fill="#4472C4" stroke="none" stroke-width="0"/>
<polygon points="474.66,2164.6 481.06,2171 474.66,2177.4 468.26,2171" fill="#4472C4" stroke="none" stroke-width="0"/>
<polyline points="204.53,2455.74 294.57,2433.97 384.62,2370.76 474.66,2141.19" fill="none" stroke="#FFC000" stroke-width="5.4" stroke-linejoin="round" stroke-linecap="round"/>
<line x1="198.13" y1="2449.34" x2="210.93" y2="2462.14" stroke="#FFC000" stroke-width="1.3" stroke-linecap="butt" />
<line x1="198.13" y1="2462.14" x2="210.93" y2="2449.34" stroke="#FFC000" stroke-width="1.3" stroke-linecap="butt" />
<line x1="288.17" y1="2427.57" x2="300.97" y2="2440.37" stroke="#FFC000" stroke-width="1.3" stroke-linecap="butt" />
<line x1="288.17" y1="2440.37" x2="300.97" y2="2427.57" stroke="#FFC000" stroke-width="1.3" stroke-linecap="butt" />
<line x1="378.22" y1="2364.36" x2="391.02" y2="2377.16" stroke="#FFC000" stroke-width="1.3" stroke-linecap="butt" />
<line x1="378.22" y1="2377.16" x2="391.02" y2="2364.36" stroke="#FFC000" stroke-width="1.3" stroke-linecap="butt" />
<line x1="468.26" y1="2134.79" x2="481.06" y2="2147.59" stroke="#FFC000" stroke-width="1.3" stroke-linecap="butt" />
<line x1="468.26" y1="2147.59" x2="481.06" y2="2134.79" stroke="#FFC000" stroke-width="1.3" stroke-linecap="butt" />
<line x1="164.88" y1="2073.02" x2="185.75" y2="2073.02" stroke="#4472C4" stroke-width="4.3" stroke-linecap="butt" />
<line x1="164.88" y1="2098.36" x2="185.75" y2="2098.36" stroke="#ED7D31" stroke-width="4.3" stroke-linecap="butt" />
<line x1="164.88" y1="2123.7" x2="185.75" y2="2123.7" stroke="#A5A5A5" stroke-width="4.3" stroke-linecap="butt" />
<line x1="164.88" y1="2149.04" x2="185.75" y2="2149.04" stroke="#FFC000" stroke-width="4.3" stroke-linecap="butt" />
<text font-size="26.7" text-anchor="start" fill="#000" textLength="60.66" lengthAdjust="spacingAndGlyphs" x="205.24" y="2081.56" ><tspan font-style="italic">siCTL</tspan></text>
<text font-size="26.7" text-anchor="start" fill="#000" textLength="161.19" lengthAdjust="spacingAndGlyphs" x="205.23" y="2106.9" ><tspan font-style="italic">siPRMT4</tspan><tspan font-style="normal">+CTL</tspan></text>
<text font-size="26.7" text-anchor="start" fill="#000" textLength="248.74" lengthAdjust="spacingAndGlyphs" x="205.23" y="2132.24" ><tspan font-style="italic">siPRMT4</tspan><tspan font-style="normal">+RAB27B (L)</tspan></text>
<text font-size="26.7" text-anchor="start" fill="#000" textLength="250.72" lengthAdjust="spacingAndGlyphs" x="205.23" y="2157.58" ><tspan font-style="italic">siPRMT4</tspan><tspan font-style="normal">+RAB27B (S)</tspan></text>
<path d="M372.14 2063.67 H380.14 V2093.48 H372.14" fill="none" stroke="#000" stroke-width="1.9" stroke-linejoin="round"/>
<text class="st" font-size="22" text-anchor="middle"><tspan x="392.96" y="2075.54">*</tspan><tspan x="392.96" y="2090.65">*</tspan><tspan x="392.96" y="2105.76">*</tspan></text>
<path d="M458.61 2095.57 H466.61 V2125.68 H458.61" fill="none" stroke="#000" stroke-width="1.9" stroke-linejoin="round"/>
<text class="st" font-size="22" text-anchor="middle"><tspan x="480.62" y="2115.79">*</tspan><tspan x="480.62" y="2131.1">*</tspan></text>
<path d="M494.39 2119.72 H502.39 V2150.13 H494.39" fill="none" stroke="#000" stroke-width="1.9" stroke-linejoin="round"/>
<text class="st" font-size="22" text-anchor="middle"><tspan x="515.21" y="2129.21">*</tspan><tspan x="515.21" y="2144.32">*</tspan><tspan x="515.21" y="2159.43">*</tspan></text>
<line x1="625.2" y1="2123.84" x2="625.2" y2="2501.11" stroke="#000" stroke-width="1.9" stroke-linecap="butt" />
<line x1="615.9" y1="2500.16" x2="981.84" y2="2500.16" stroke="#000" stroke-width="1.9" stroke-linecap="butt" />
<line x1="615.9" y1="2500.16" x2="625.2" y2="2500.16" stroke="#000" stroke-width="1.9" stroke-linecap="butt" />
<text font-size="27" text-anchor="start" fill="#000" textLength="36.72" lengthAdjust="spacingAndGlyphs" x="560.27" y="2507.99" >0.0</text>
<line x1="615.9" y1="2425.09" x2="625.2" y2="2425.09" stroke="#000" stroke-width="1.9" stroke-linecap="butt" />
<text font-size="27" text-anchor="start" fill="#000" textLength="37.14" lengthAdjust="spacingAndGlyphs" x="560.25" y="2432.92" >0.2</text>
<line x1="615.9" y1="2350.01" x2="625.2" y2="2350.01" stroke="#000" stroke-width="1.9" stroke-linecap="butt" />
<text font-size="27" text-anchor="start" fill="#000" textLength="36.58" lengthAdjust="spacingAndGlyphs" x="560.27" y="2357.84" >0.4</text>
<line x1="615.9" y1="2274.94" x2="625.2" y2="2274.94" stroke="#000" stroke-width="1.9" stroke-linecap="butt" />
<text font-size="27" text-anchor="start" fill="#000" textLength="36.86" lengthAdjust="spacingAndGlyphs" x="560.26" y="2282.77" >0.6</text>
<line x1="615.9" y1="2199.86" x2="625.2" y2="2199.86" stroke="#000" stroke-width="1.9" stroke-linecap="butt" />
<text font-size="27" text-anchor="start" fill="#000" textLength="36.86" lengthAdjust="spacingAndGlyphs" x="560.26" y="2207.69" >0.8</text>
<line x1="615.9" y1="2124.79" x2="625.2" y2="2124.79" stroke="#000" stroke-width="1.9" stroke-linecap="butt" />
<text font-size="27" text-anchor="start" fill="#000" textLength="37.72" lengthAdjust="spacingAndGlyphs" x="559.29" y="2132.62" >1.0</text>
<line x1="625.2" y1="2500.16" x2="625.2" y2="2509.96" stroke="#000" stroke-width="1.9" stroke-linecap="butt" />
<line x1="714.05" y1="2500.16" x2="714.05" y2="2509.96" stroke="#000" stroke-width="1.9" stroke-linecap="butt" />
<line x1="802.9" y1="2500.16" x2="802.9" y2="2509.96" stroke="#000" stroke-width="1.9" stroke-linecap="butt" />
<line x1="892.34" y1="2500.16" x2="892.34" y2="2509.96" stroke="#000" stroke-width="1.9" stroke-linecap="butt" />
<line x1="980.89" y1="2500.16" x2="980.89" y2="2509.96" stroke="#000" stroke-width="1.9" stroke-linecap="butt" />
<text font-size="27" text-anchor="start" fill="#000" textLength="13.69" lengthAdjust="spacingAndGlyphs" x="662.13" y="2546.18" >1</text>
<text font-size="27" text-anchor="start" fill="#000" textLength="13.72" lengthAdjust="spacingAndGlyphs" x="751.63" y="2546.18" >2</text>
<text font-size="27" text-anchor="start" fill="#000" textLength="13.74" lengthAdjust="spacingAndGlyphs" x="840.77" y="2546.18" >3</text>
<text font-size="27" text-anchor="start" fill="#000" textLength="13.77" lengthAdjust="spacingAndGlyphs" x="930.02" y="2546.18" >4</text>
<line x1="936.77" y1="2166.53" x2="936.77" y2="2179.95" stroke="#000" stroke-width="2" stroke-linecap="butt" />
<line x1="928.77" y1="2166.53" x2="944.77" y2="2166.53" stroke="#000" stroke-width="2" stroke-linecap="butt" />
<line x1="928.77" y1="2179.95" x2="944.77" y2="2179.95" stroke="#000" stroke-width="2" stroke-linecap="butt" />
<line x1="936.77" y1="2179.95" x2="936.77" y2="2190.38" stroke="#000" stroke-width="2" stroke-linecap="butt" />
<line x1="928.77" y1="2179.95" x2="944.77" y2="2179.95" stroke="#000" stroke-width="2" stroke-linecap="butt" />
<line x1="928.77" y1="2190.38" x2="944.77" y2="2190.38" stroke="#000" stroke-width="2" stroke-linecap="butt" />
<line x1="936.77" y1="2249.42" x2="936.77" y2="2257.47" stroke="#000" stroke-width="2" stroke-linecap="butt" />
<line x1="928.77" y1="2249.42" x2="944.77" y2="2249.42" stroke="#000" stroke-width="2" stroke-linecap="butt" />
<line x1="928.77" y1="2257.47" x2="944.77" y2="2257.47" stroke="#000" stroke-width="2" stroke-linecap="butt" />
<line x1="936.77" y1="2270.88" x2="936.77" y2="2278.34" stroke="#000" stroke-width="2" stroke-linecap="butt" />
<line x1="928.77" y1="2270.88" x2="944.77" y2="2270.88" stroke="#000" stroke-width="2" stroke-linecap="butt" />
<line x1="928.77" y1="2278.34" x2="944.77" y2="2278.34" stroke="#000" stroke-width="2" stroke-linecap="butt" />
<line x1="847.62" y1="2366.29" x2="847.62" y2="2375.24" stroke="#000" stroke-width="2" stroke-linecap="butt" />
<line x1="840.62" y1="2366.29" x2="854.62" y2="2366.29" stroke="#000" stroke-width="2" stroke-linecap="butt" />
<line x1="840.62" y1="2375.24" x2="854.62" y2="2375.24" stroke="#000" stroke-width="2" stroke-linecap="butt" />
<line x1="847.62" y1="2384.18" x2="847.62" y2="2394.62" stroke="#000" stroke-width="2" stroke-linecap="butt" />
<line x1="840.62" y1="2384.18" x2="854.62" y2="2384.18" stroke="#000" stroke-width="2" stroke-linecap="butt" />
<line x1="840.62" y1="2394.62" x2="854.62" y2="2394.62" stroke="#000" stroke-width="2" stroke-linecap="butt" />
<line x1="669.33" y1="2454.84" x2="669.33" y2="2460.21" stroke="#000" stroke-width="2" stroke-linecap="butt" />
<line x1="663.33" y1="2454.84" x2="675.33" y2="2454.84" stroke="#000" stroke-width="2" stroke-linecap="butt" />
<line x1="663.33" y1="2460.21" x2="675.33" y2="2460.21" stroke="#000" stroke-width="2" stroke-linecap="butt" />
<line x1="758.47" y1="2429.8" x2="758.47" y2="2440.83" stroke="#000" stroke-width="2" stroke-linecap="butt" />
<line x1="752.47" y1="2429.8" x2="764.47" y2="2429.8" stroke="#000" stroke-width="2" stroke-linecap="butt" />
<line x1="752.47" y1="2440.83" x2="764.47" y2="2440.83" stroke="#000" stroke-width="2" stroke-linecap="butt" />
<polyline points="669.33,2457.82 758.47,2439.34 847.62,2388.06 936.77,2274.46" fill="none" stroke="#ED7D31" stroke-width="5.4" stroke-linejoin="round" stroke-linecap="round"/>
<rect x="662.93" y="2451.42" width="12.8" height="12.8" fill="#ED7D31" stroke="none" stroke-width="0" />
<rect x="752.07" y="2432.94" width="12.8" height="12.8" fill="#ED7D31" stroke="none" stroke-width="0" />
<rect x="841.22" y="2381.66" width="12.8" height="12.8" fill="#ED7D31" stroke="none" stroke-width="0" />
<rect x="930.37" y="2268.06" width="12.8" height="12.8" fill="#ED7D31" stroke="none" stroke-width="0" />
<polyline points="669.33,2458.72 758.47,2439.34 847.62,2391.63 936.77,2254.48" fill="none" stroke="#A5A5A5" stroke-width="5.4" stroke-linejoin="round" stroke-linecap="round"/>
<polygon points="669.33,2452.32 675.73,2464.48 662.93,2464.48" fill="#A5A5A5" stroke="none" stroke-width="0"/>
<polygon points="758.47,2432.94 764.87,2445.1 752.07,2445.1" fill="#A5A5A5" stroke="none" stroke-width="0"/>
<polygon points="847.62,2385.23 854.02,2397.39 841.22,2397.39" fill="#A5A5A5" stroke="none" stroke-width="0"/>
<polygon points="936.77,2248.08 943.17,2260.24 930.37,2260.24" fill="#A5A5A5" stroke="none" stroke-width="0"/>
<polyline points="669.33,2455.74 758.47,2433.38 847.62,2370.76 936.77,2173.39" fill="none" stroke="#4472C4" stroke-width="5.4" stroke-linejoin="round" stroke-linecap="round"/>
<polygon points="669.33,2449.34 675.73,2455.74 669.33,2462.14 662.93,2455.74" fill="#4472C4" stroke="none" stroke-width="0"/>
<polygon points="758.47,2426.98 764.87,2433.38 758.47,2439.78 752.07,2433.38" fill="#4472C4" stroke="none" stroke-width="0"/>
<polygon points="847.62,2364.36 854.02,2370.76 847.62,2377.16 841.22,2370.76" fill="#4472C4" stroke="none" stroke-width="0"/>
<polygon points="936.77,2166.99 943.17,2173.39 936.77,2179.79 930.37,2173.39" fill="#4472C4" stroke="none" stroke-width="0"/>
<polyline points="669.33,2456.63 758.47,2432.78 847.62,2375.24 936.77,2184.42" fill="none" stroke="#FFC000" stroke-width="5.4" stroke-linejoin="round" stroke-linecap="round"/>
<line x1="662.93" y1="2450.23" x2="675.73" y2="2463.03" stroke="#FFC000" stroke-width="1.3" stroke-linecap="butt" />
<line x1="662.93" y1="2463.03" x2="675.73" y2="2450.23" stroke="#FFC000" stroke-width="1.3" stroke-linecap="butt" />
<line x1="752.07" y1="2426.38" x2="764.87" y2="2439.18" stroke="#FFC000" stroke-width="1.3" stroke-linecap="butt" />
<line x1="752.07" y1="2439.18" x2="764.87" y2="2426.38" stroke="#FFC000" stroke-width="1.3" stroke-linecap="butt" />
<line x1="841.22" y1="2368.84" x2="854.02" y2="2381.64" stroke="#FFC000" stroke-width="1.3" stroke-linecap="butt" />
<line x1="841.22" y1="2381.64" x2="854.02" y2="2368.84" stroke="#FFC000" stroke-width="1.3" stroke-linecap="butt" />
<line x1="930.37" y1="2178.02" x2="943.17" y2="2190.82" stroke="#FFC000" stroke-width="1.3" stroke-linecap="butt" />
<line x1="930.37" y1="2190.82" x2="943.17" y2="2178.02" stroke="#FFC000" stroke-width="1.3" stroke-linecap="butt" />
<line x1="628.48" y1="2074.21" x2="649.35" y2="2074.21" stroke="#4472C4" stroke-width="4.3" stroke-linecap="butt" />
<line x1="628.48" y1="2099.55" x2="649.35" y2="2099.55" stroke="#ED7D31" stroke-width="4.3" stroke-linecap="butt" />
<line x1="628.48" y1="2125.19" x2="649.35" y2="2125.19" stroke="#A5A5A5" stroke-width="4.3" stroke-linecap="butt" />
<line x1="628.48" y1="2150.53" x2="649.35" y2="2150.53" stroke="#FFC000" stroke-width="4.3" stroke-linecap="butt" />
<text font-size="26.7" text-anchor="start" fill="#000" textLength="60.96" lengthAdjust="spacingAndGlyphs" x="668.54" y="2082.45" ><tspan font-style="italic">siCTL</tspan></text>
<text font-size="26.7" text-anchor="start" fill="#000" textLength="160.89" lengthAdjust="spacingAndGlyphs" x="668.53" y="2108.39" ><tspan font-style="italic">siPRMT5</tspan><tspan font-style="normal">+CTL</tspan></text>
<text font-size="26.7" text-anchor="start" fill="#000" textLength="248.74" lengthAdjust="spacingAndGlyphs" x="668.53" y="2133.73" ><tspan font-style="italic">siPRMT5</tspan><tspan font-style="normal">+RAB27B (L)</tspan></text>
<text font-size="26.7" text-anchor="start" fill="#000" textLength="250.42" lengthAdjust="spacingAndGlyphs" x="668.53" y="2159.08" ><tspan font-style="italic">siPRMT5</tspan><tspan font-style="normal">+RAB27B (S)</tspan></text>
<path d="M835.15 2063.07 H843.15 V2093.48 H835.15" fill="none" stroke="#000" stroke-width="1.9" stroke-linejoin="round"/>
<text class="st" font-size="22" text-anchor="middle"><tspan x="855.67" y="2074.65">*</tspan><tspan x="855.67" y="2089.76">*</tspan><tspan x="855.67" y="2104.86">*</tspan></text>
<path d="M921.31 2094.97 H929.31 V2124.79 H921.31" fill="none" stroke="#000" stroke-width="1.9" stroke-linejoin="round"/>
<text class="st" font-size="22" text-anchor="middle"><tspan x="944.22" y="2114.3">*</tspan><tspan x="944.22" y="2129.61">*</tspan></text>
<path d="M957.09 2118.83 H965.09 V2149.53 H957.09" fill="none" stroke="#000" stroke-width="1.9" stroke-linejoin="round"/>
<text class="st" font-size="22" text-anchor="middle"><tspan x="977.32" y="2129.21">*</tspan><tspan x="977.32" y="2144.32">*</tspan><tspan x="977.32" y="2159.43">*</tspan></text>
<line x1="1085.22" y1="2122.94" x2="1085.22" y2="2500.51" stroke="#000" stroke-width="1.9" stroke-linecap="butt" />
<line x1="1075.92" y1="2499.56" x2="1443.06" y2="2499.56" stroke="#000" stroke-width="1.9" stroke-linecap="butt" />
<line x1="1075.92" y1="2499.56" x2="1085.22" y2="2499.56" stroke="#000" stroke-width="1.9" stroke-linecap="butt" />
<text font-size="27" text-anchor="start" fill="#000" textLength="36.72" lengthAdjust="spacingAndGlyphs" x="1020.89" y="2507.39" >0.0</text>
<line x1="1075.92" y1="2436.95" x2="1085.22" y2="2436.95" stroke="#000" stroke-width="1.9" stroke-linecap="butt" />
<text font-size="27" text-anchor="start" fill="#000" textLength="37.14" lengthAdjust="spacingAndGlyphs" x="1020.87" y="2444.78" >0.2</text>
<line x1="1075.92" y1="2374.34" x2="1085.22" y2="2374.34" stroke="#000" stroke-width="1.9" stroke-linecap="butt" />
<text font-size="27" text-anchor="start" fill="#000" textLength="36.58" lengthAdjust="spacingAndGlyphs" x="1020.89" y="2382.17" >0.4</text>
<line x1="1075.92" y1="2311.73" x2="1085.22" y2="2311.73" stroke="#000" stroke-width="1.9" stroke-linecap="butt" />
<text font-size="27" text-anchor="start" fill="#000" textLength="36.86" lengthAdjust="spacingAndGlyphs" x="1020.88" y="2319.56" >0.6</text>
<line x1="1075.92" y1="2249.12" x2="1085.22" y2="2249.12" stroke="#000" stroke-width="1.9" stroke-linecap="butt" />
<text font-size="27" text-anchor="start" fill="#000" textLength="36.86" lengthAdjust="spacingAndGlyphs" x="1020.88" y="2256.95" >0.8</text>
<line x1="1075.92" y1="2186.51" x2="1085.22" y2="2186.51" stroke="#000" stroke-width="1.9" stroke-linecap="butt" />
<text font-size="27" text-anchor="start" fill="#000" textLength="37.72" lengthAdjust="spacingAndGlyphs" x="1019.91" y="2194.34" >1.0</text>
<line x1="1075.92" y1="2123.89" x2="1085.22" y2="2123.89" stroke="#000" stroke-width="1.9" stroke-linecap="butt" />
<text font-size="27" text-anchor="start" fill="#000" textLength="38.17" lengthAdjust="spacingAndGlyphs" x="1019.88" y="2131.72" >1.2</text>
<line x1="1085.22" y1="2499.56" x2="1085.22" y2="2509.36" stroke="#000" stroke-width="1.9" stroke-linecap="butt" />
<line x1="1174.67" y1="2499.56" x2="1174.67" y2="2509.36" stroke="#000" stroke-width="1.9" stroke-linecap="butt" />
<line x1="1263.52" y1="2499.56" x2="1263.52" y2="2509.36" stroke="#000" stroke-width="1.9" stroke-linecap="butt" />
<line x1="1352.96" y1="2499.56" x2="1352.96" y2="2509.36" stroke="#000" stroke-width="1.9" stroke-linecap="butt" />
<line x1="1442.11" y1="2499.56" x2="1442.11" y2="2509.36" stroke="#000" stroke-width="1.9" stroke-linecap="butt" />
<text font-size="27" text-anchor="start" fill="#000" textLength="13.69" lengthAdjust="spacingAndGlyphs" x="1122.75" y="2546.18" >1</text>
<text font-size="27" text-anchor="start" fill="#000" textLength="13.72" lengthAdjust="spacingAndGlyphs" x="1211.95" y="2546.18" >2</text>
<text font-size="27" text-anchor="start" fill="#000" textLength="13.74" lengthAdjust="spacingAndGlyphs" x="1301.09" y="2546.18" >3</text>
<text font-size="27" text-anchor="start" fill="#000" textLength="13.77" lengthAdjust="spacingAndGlyphs" x="1390.64" y="2546.18" >4</text>
<line x1="1397.39" y1="2179.35" x2="1397.39" y2="2184.42" stroke="#000" stroke-width="2" stroke-linecap="butt" />
<line x1="1389.39" y1="2179.35" x2="1405.39" y2="2179.35" stroke="#000" stroke-width="2" stroke-linecap="butt" />
<line x1="1389.39" y1="2184.42" x2="1405.39" y2="2184.42" stroke="#000" stroke-width="2" stroke-linecap="butt" />
<line x1="1397.39" y1="2221.09" x2="1397.39" y2="2233.61" stroke="#000" stroke-width="2" stroke-linecap="butt" />
<line x1="1389.39" y1="2221.09" x2="1405.39" y2="2221.09" stroke="#000" stroke-width="2" stroke-linecap="butt" />
<line x1="1389.39" y1="2233.61" x2="1405.39" y2="2233.61" stroke="#000" stroke-width="2" stroke-linecap="butt" />
<line x1="1397.39" y1="2279.83" x2="1397.39" y2="2282.81" stroke="#000" stroke-width="2" stroke-linecap="butt" />
<line x1="1389.39" y1="2279.83" x2="1405.39" y2="2279.83" stroke="#000" stroke-width="2" stroke-linecap="butt" />
<line x1="1389.39" y1="2282.81" x2="1405.39" y2="2282.81" stroke="#000" stroke-width="2" stroke-linecap="butt" />
<line x1="1397.39" y1="2300.7" x2="1397.39" y2="2307.26" stroke="#000" stroke-width="2" stroke-linecap="butt" />
<line x1="1389.39" y1="2300.7" x2="1405.39" y2="2300.7" stroke="#000" stroke-width="2" stroke-linecap="butt" />
<line x1="1389.39" y1="2307.26" x2="1405.39" y2="2307.26" stroke="#000" stroke-width="2" stroke-linecap="butt" />
<line x1="1307.94" y1="2388.06" x2="1307.94" y2="2397.6" stroke="#000" stroke-width="2" stroke-linecap="butt" />
<line x1="1300.94" y1="2388.06" x2="1314.94" y2="2388.06" stroke="#000" stroke-width="2" stroke-linecap="butt" />
<line x1="1300.94" y1="2397.6" x2="1314.94" y2="2397.6" stroke="#000" stroke-width="2" stroke-linecap="butt" />
<line x1="1307.94" y1="2403.56" x2="1307.94" y2="2414" stroke="#000" stroke-width="2" stroke-linecap="butt" />
<line x1="1300.94" y1="2403.56" x2="1314.94" y2="2403.56" stroke="#000" stroke-width="2" stroke-linecap="butt" />
<line x1="1300.94" y1="2414" x2="1314.94" y2="2414" stroke="#000" stroke-width="2" stroke-linecap="butt" />
<line x1="1129.95" y1="2462.59" x2="1129.95" y2="2467.66" stroke="#000" stroke-width="2" stroke-linecap="butt" />
<line x1="1123.95" y1="2462.59" x2="1135.95" y2="2462.59" stroke="#000" stroke-width="2" stroke-linecap="butt" />
<line x1="1123.95" y1="2467.66" x2="1135.95" y2="2467.66" stroke="#000" stroke-width="2" stroke-linecap="butt" />
<line x1="1218.8" y1="2440.83" x2="1218.8" y2="2451.86" stroke="#000" stroke-width="2" stroke-linecap="butt" />
<line x1="1212.8" y1="2440.83" x2="1224.8" y2="2440.83" stroke="#000" stroke-width="2" stroke-linecap="butt" />
<line x1="1212.8" y1="2451.86" x2="1224.8" y2="2451.86" stroke="#000" stroke-width="2" stroke-linecap="butt" />
<polyline points="1129.95,2466.17 1218.8,2450.37 1307.94,2409.52 1397.39,2304.28" fill="none" stroke="#ED7D31" stroke-width="5.4" stroke-linejoin="round" stroke-linecap="round"/>
<rect x="1123.55" y="2459.77" width="12.8" height="12.8" fill="#ED7D31" stroke="none" stroke-width="0" />
<rect x="1212.4" y="2443.97" width="12.8" height="12.8" fill="#ED7D31" stroke="none" stroke-width="0" />
<rect x="1301.54" y="2403.12" width="12.8" height="12.8" fill="#ED7D31" stroke="none" stroke-width="0" />
<rect x="1390.99" y="2297.88" width="12.8" height="12.8" fill="#ED7D31" stroke="none" stroke-width="0" />
<polyline points="1129.95,2466.17 1218.8,2449.77 1307.94,2405.05 1397.39,2281.91" fill="none" stroke="#A5A5A5" stroke-width="5.4" stroke-linejoin="round" stroke-linecap="round"/>
<polygon points="1129.95,2459.77 1136.35,2471.93 1123.55,2471.93" fill="#A5A5A5" stroke="none" stroke-width="0"/>
<polygon points="1218.8,2443.37 1225.2,2455.53 1212.4,2455.53" fill="#A5A5A5" stroke="none" stroke-width="0"/>
<polygon points="1307.94,2398.65 1314.34,2410.81 1301.54,2410.81" fill="#A5A5A5" stroke="none" stroke-width="0"/>
<polygon points="1397.39,2275.51 1403.79,2287.67 1390.99,2287.67" fill="#A5A5A5" stroke="none" stroke-width="0"/>
<polyline points="1129.95,2461.7 1218.8,2442.32 1307.94,2393.12 1397.39,2227.05" fill="none" stroke="#4472C4" stroke-width="5.4" stroke-linejoin="round" stroke-linecap="round"/>
<polygon points="1129.95,2455.3 1136.35,2461.7 1129.95,2468.1 1123.55,2461.7" fill="#4472C4" stroke="none" stroke-width="0"/>
<polygon points="1218.8,2435.92 1225.2,2442.32 1218.8,2448.72 1212.4,2442.32" fill="#4472C4" stroke="none" stroke-width="0"/>
<polygon points="1307.94,2386.72 1314.34,2393.12 1307.94,2399.52 1301.54,2393.12" fill="#4472C4" stroke="none" stroke-width="0"/>
<polygon points="1397.39,2220.65 1403.79,2227.05 1397.39,2233.45 1390.99,2227.05" fill="#4472C4" stroke="none" stroke-width="0"/>
<polyline points="1129.95,2464.68 1218.8,2443.81 1307.94,2397.6 1397.39,2182.03" fill="none" stroke="#FFC000" stroke-width="5.4" stroke-linejoin="round" stroke-linecap="round"/>
<line x1="1123.55" y1="2458.28" x2="1136.35" y2="2471.08" stroke="#FFC000" stroke-width="1.3" stroke-linecap="butt" />
<line x1="1123.55" y1="2471.08" x2="1136.35" y2="2458.28" stroke="#FFC000" stroke-width="1.3" stroke-linecap="butt" />
<line x1="1212.4" y1="2437.41" x2="1225.2" y2="2450.21" stroke="#FFC000" stroke-width="1.3" stroke-linecap="butt" />
<line x1="1212.4" y1="2450.21" x2="1225.2" y2="2437.41" stroke="#FFC000" stroke-width="1.3" stroke-linecap="butt" />
<line x1="1301.54" y1="2391.2" x2="1314.34" y2="2404" stroke="#FFC000" stroke-width="1.3" stroke-linecap="butt" />
<line x1="1301.54" y1="2404" x2="1314.34" y2="2391.2" stroke="#FFC000" stroke-width="1.3" stroke-linecap="butt" />
<line x1="1390.99" y1="2175.63" x2="1403.79" y2="2188.43" stroke="#FFC000" stroke-width="1.3" stroke-linecap="butt" />
<line x1="1390.99" y1="2188.43" x2="1403.79" y2="2175.63" stroke="#FFC000" stroke-width="1.3" stroke-linecap="butt" />
<line x1="1089.1" y1="2073.02" x2="1109.97" y2="2073.02" stroke="#4472C4" stroke-width="4.3" stroke-linecap="butt" />
<line x1="1089.1" y1="2098.36" x2="1109.97" y2="2098.36" stroke="#ED7D31" stroke-width="4.3" stroke-linecap="butt" />
<line x1="1089.1" y1="2123.7" x2="1109.97" y2="2123.7" stroke="#A5A5A5" stroke-width="4.3" stroke-linecap="butt" />
<line x1="1089.1" y1="2149.04" x2="1109.97" y2="2149.04" stroke="#FFC000" stroke-width="4.3" stroke-linecap="butt" />
<text font-size="26.7" text-anchor="start" fill="#000" textLength="60.96" lengthAdjust="spacingAndGlyphs" x="1129.46" y="2081.56" ><tspan font-style="italic">siCTL</tspan></text>
<text font-size="26.7" text-anchor="start" fill="#000" textLength="161.49" lengthAdjust="spacingAndGlyphs" x="1129.45" y="2106.9" ><tspan font-style="italic">siPRMT7</tspan><tspan font-style="normal">+CTL</tspan></text>
<text font-size="26.7" text-anchor="start" fill="#000" textLength="249.34" lengthAdjust="spacingAndGlyphs" x="1129.45" y="2132.24" ><tspan font-style="italic">siPRMT7</tspan><tspan font-style="normal">+RAB27B (L)</tspan></text>
<text font-size="26.7" text-anchor="start" fill="#000" textLength="250.72" lengthAdjust="spacingAndGlyphs" x="1129.45" y="2157.58" ><tspan font-style="italic">siPRMT7</tspan><tspan font-style="normal">+RAB27B (S)</tspan></text>
<path d="M1296.36 2062.18 H1304.36 V2092.59 H1296.36" fill="none" stroke="#000" stroke-width="1.9" stroke-linejoin="round"/>
<text class="st" font-size="22" text-anchor="middle"><tspan x="1317.19" y="2074.05">*</tspan><tspan x="1317.19" y="2089.16">*</tspan><tspan x="1317.19" y="2104.27">*</tspan></text>
<path d="M1382.83 2094.08 H1390.83 V2124.19 H1382.83" fill="none" stroke="#000" stroke-width="1.9" stroke-linejoin="round"/>
<text class="st" font-size="22" text-anchor="middle"><tspan x="1403.65" y="2105.36">*</tspan><tspan x="1403.65" y="2120.47">*</tspan><tspan x="1403.65" y="2135.57">*</tspan></text>
<path d="M1418.01 2117.93 H1426.01 V2148.64 H1418.01" fill="none" stroke="#000" stroke-width="1.9" stroke-linejoin="round"/>
<text class="st" font-size="22" text-anchor="middle"><tspan x="1439.13" y="2127.72">*</tspan><tspan x="1439.13" y="2142.83">*</tspan><tspan x="1439.13" y="2157.94">*</tspan></text>
<line x1="1545.3" y1="2130.7" x2="1545.3" y2="2497.53" stroke="#000" stroke-width="1.9" stroke-linecap="butt" />
<line x1="1536" y1="2496.58" x2="1903.43" y2="2496.58" stroke="#000" stroke-width="1.9" stroke-linecap="butt" />
<line x1="1536" y1="2496.58" x2="1545.3" y2="2496.58" stroke="#000" stroke-width="1.9" stroke-linecap="butt" />
<text font-size="27" text-anchor="start" fill="#000" textLength="37.35" lengthAdjust="spacingAndGlyphs" x="1481.24" y="2504.41" >0.0</text>
<line x1="1536" y1="2423.6" x2="1545.3" y2="2423.6" stroke="#000" stroke-width="1.9" stroke-linecap="butt" />
<text font-size="27" text-anchor="start" fill="#000" textLength="37.78" lengthAdjust="spacingAndGlyphs" x="1481.23" y="2431.43" >0.2</text>
<line x1="1536" y1="2350.61" x2="1545.3" y2="2350.61" stroke="#000" stroke-width="1.9" stroke-linecap="butt" />
<text font-size="27" text-anchor="start" fill="#000" textLength="37.21" lengthAdjust="spacingAndGlyphs" x="1481.24" y="2358.44" >0.4</text>
<line x1="1536" y1="2277.62" x2="1545.3" y2="2277.62" stroke="#000" stroke-width="1.9" stroke-linecap="butt" />
<text font-size="27" text-anchor="start" fill="#000" textLength="37.49" lengthAdjust="spacingAndGlyphs" x="1481.24" y="2285.45" >0.6</text>
<line x1="1536" y1="2204.63" x2="1545.3" y2="2204.63" stroke="#000" stroke-width="1.9" stroke-linecap="butt" />
<text font-size="27" text-anchor="start" fill="#000" textLength="37.49" lengthAdjust="spacingAndGlyphs" x="1481.24" y="2212.46" >0.8</text>
<line x1="1536" y1="2131.65" x2="1545.3" y2="2131.65" stroke="#000" stroke-width="1.9" stroke-linecap="butt" />
<text font-size="27" text-anchor="start" fill="#000" textLength="38.37" lengthAdjust="spacingAndGlyphs" x="1480.24" y="2139.48" >1.0</text>
<line x1="1545.3" y1="2496.58" x2="1545.3" y2="2506.38" stroke="#000" stroke-width="1.9" stroke-linecap="butt" />
<line x1="1634.74" y1="2496.58" x2="1634.74" y2="2506.38" stroke="#000" stroke-width="1.9" stroke-linecap="butt" />
<line x1="1724.19" y1="2496.58" x2="1724.19" y2="2506.38" stroke="#000" stroke-width="1.9" stroke-linecap="butt" />
<line x1="1813.04" y1="2496.58" x2="1813.04" y2="2506.38" stroke="#000" stroke-width="1.9" stroke-linecap="butt" />
<line x1="1902.48" y1="2496.58" x2="1902.48" y2="2506.38" stroke="#000" stroke-width="1.9" stroke-linecap="butt" />
<text font-size="27" text-anchor="start" fill="#000" textLength="13.69" lengthAdjust="spacingAndGlyphs" x="1582.82" y="2543.2" >1</text>
<text font-size="27" text-anchor="start" fill="#000" textLength="13.72" lengthAdjust="spacingAndGlyphs" x="1672.03" y="2543.2" >2</text>
<text font-size="27" text-anchor="start" fill="#000" textLength="13.74" lengthAdjust="spacingAndGlyphs" x="1762.06" y="2543.2" >3</text>
<text font-size="27" text-anchor="start" fill="#000" textLength="13.77" lengthAdjust="spacingAndGlyphs" x="1851.61" y="2543.2" >4</text>
<line x1="1858.36" y1="2206.78" x2="1858.36" y2="2217.22" stroke="#000" stroke-width="2" stroke-linecap="butt" />
<line x1="1850.36" y1="2206.78" x2="1866.36" y2="2206.78" stroke="#000" stroke-width="2" stroke-linecap="butt" />
<line x1="1850.36" y1="2217.22" x2="1866.36" y2="2217.22" stroke="#000" stroke-width="2" stroke-linecap="butt" />
<line x1="1858.36" y1="2220.2" x2="1858.36" y2="2227.65" stroke="#000" stroke-width="2" stroke-linecap="butt" />
<line x1="1850.36" y1="2220.2" x2="1866.36" y2="2220.2" stroke="#000" stroke-width="2" stroke-linecap="butt" />
<line x1="1850.36" y1="2227.65" x2="1866.36" y2="2227.65" stroke="#000" stroke-width="2" stroke-linecap="butt" />
<line x1="1858.36" y1="2248.52" x2="1858.36" y2="2256.87" stroke="#000" stroke-width="2" stroke-linecap="butt" />
<line x1="1850.36" y1="2248.52" x2="1866.36" y2="2248.52" stroke="#000" stroke-width="2" stroke-linecap="butt" />
<line x1="1850.36" y1="2256.87" x2="1866.36" y2="2256.87" stroke="#000" stroke-width="2" stroke-linecap="butt" />
<line x1="1858.36" y1="2283.7" x2="1858.36" y2="2303.68" stroke="#000" stroke-width="2" stroke-linecap="butt" />
<line x1="1850.36" y1="2283.7" x2="1866.36" y2="2283.7" stroke="#000" stroke-width="2" stroke-linecap="butt" />
<line x1="1850.36" y1="2303.68" x2="1866.36" y2="2303.68" stroke="#000" stroke-width="2" stroke-linecap="butt" />
<line x1="1768.91" y1="2358.84" x2="1768.91" y2="2369.27" stroke="#000" stroke-width="2" stroke-linecap="butt" />
<line x1="1761.91" y1="2358.84" x2="1775.91" y2="2358.84" stroke="#000" stroke-width="2" stroke-linecap="butt" />
<line x1="1761.91" y1="2369.27" x2="1775.91" y2="2369.27" stroke="#000" stroke-width="2" stroke-linecap="butt" />
<line x1="1768.91" y1="2378.22" x2="1768.91" y2="2386.27" stroke="#000" stroke-width="2" stroke-linecap="butt" />
<line x1="1761.91" y1="2378.22" x2="1775.91" y2="2378.22" stroke="#000" stroke-width="2" stroke-linecap="butt" />
<line x1="1761.91" y1="2386.27" x2="1775.91" y2="2386.27" stroke="#000" stroke-width="2" stroke-linecap="butt" />
<line x1="1590.02" y1="2448.28" x2="1590.02" y2="2457.23" stroke="#000" stroke-width="2" stroke-linecap="butt" />
<line x1="1584.02" y1="2448.28" x2="1596.02" y2="2448.28" stroke="#000" stroke-width="2" stroke-linecap="butt" />
<line x1="1584.02" y1="2457.23" x2="1596.02" y2="2457.23" stroke="#000" stroke-width="2" stroke-linecap="butt" />
<line x1="1678.87" y1="2424.43" x2="1678.87" y2="2434.87" stroke="#000" stroke-width="2" stroke-linecap="butt" />
<line x1="1672.87" y1="2424.43" x2="1684.87" y2="2424.43" stroke="#000" stroke-width="2" stroke-linecap="butt" />
<line x1="1672.87" y1="2434.87" x2="1684.87" y2="2434.87" stroke="#000" stroke-width="2" stroke-linecap="butt" />
<polyline points="1590.02,2449.77 1678.87,2433.38 1768.91,2381.2 1858.36,2293.24" fill="none" stroke="#ED7D31" stroke-width="5.4" stroke-linejoin="round" stroke-linecap="round"/>
<rect x="1583.62" y="2443.37" width="12.8" height="12.8" fill="#ED7D31" stroke="none" stroke-width="0" />
<rect x="1672.47" y="2426.98" width="12.8" height="12.8" fill="#ED7D31" stroke="none" stroke-width="0" />
<rect x="1762.51" y="2374.8" width="12.8" height="12.8" fill="#ED7D31" stroke="none" stroke-width="0" />
<rect x="1851.96" y="2286.84" width="12.8" height="12.8" fill="#ED7D31" stroke="none" stroke-width="0" />
<polyline points="1590.02,2455.74 1678.87,2430.39 1768.91,2382.69 1858.36,2252.99" fill="none" stroke="#A5A5A5" stroke-width="5.4" stroke-linejoin="round" stroke-linecap="round"/>
<polygon points="1590.02,2449.34 1596.42,2461.5 1583.62,2461.5" fill="#A5A5A5" stroke="none" stroke-width="0"/>
<polygon points="1678.87,2423.99 1685.27,2436.15 1672.47,2436.15" fill="#A5A5A5" stroke="none" stroke-width="0"/>
<polygon points="1768.91,2376.29 1775.31,2388.45 1762.51,2388.45" fill="#A5A5A5" stroke="none" stroke-width="0"/>
<polygon points="1858.36,2246.59 1864.76,2258.75 1851.96,2258.75" fill="#A5A5A5" stroke="none" stroke-width="0"/>
<polyline points="1590.02,2453.35 1678.87,2427.41 1768.91,2366.29 1858.36,2212.15" fill="none" stroke="#4472C4" stroke-width="5.4" stroke-linejoin="round" stroke-linecap="round"/>
<polygon points="1590.02,2446.95 1596.42,2453.35 1590.02,2459.75 1583.62,2453.35" fill="#4472C4" stroke="none" stroke-width="0"/>
<polygon points="1678.87,2421.01 1685.27,2427.41 1678.87,2433.81 1672.47,2427.41" fill="#4472C4" stroke="none" stroke-width="0"/>
<polygon points="1768.91,2359.89 1775.31,2366.29 1768.91,2372.69 1762.51,2366.29" fill="#4472C4" stroke="none" stroke-width="0"/>
<polygon points="1858.36,2205.75 1864.76,2212.15 1858.36,2218.55 1851.96,2212.15" fill="#4472C4" stroke="none" stroke-width="0"/>
<polyline points="1590.02,2453.35 1678.87,2425.92 1768.91,2361.82 1858.36,2223.18" fill="none" stroke="#FFC000" stroke-width="5.4" stroke-linejoin="round" stroke-linecap="round"/>
<line x1="1583.62" y1="2446.95" x2="1596.42" y2="2459.75" stroke="#FFC000" stroke-width="1.3" stroke-linecap="butt" />
<line x1="1583.62" y1="2459.75" x2="1596.42" y2="2446.95" stroke="#FFC000" stroke-width="1.3" stroke-linecap="butt" />
<line x1="1672.47" y1="2419.52" x2="1685.27" y2="2432.32" stroke="#FFC000" stroke-width="1.3" stroke-linecap="butt" />
<line x1="1672.47" y1="2432.32" x2="1685.27" y2="2419.52" stroke="#FFC000" stroke-width="1.3" stroke-linecap="butt" />
<line x1="1762.51" y1="2355.42" x2="1775.31" y2="2368.22" stroke="#FFC000" stroke-width="1.3" stroke-linecap="butt" />
<line x1="1762.51" y1="2368.22" x2="1775.31" y2="2355.42" stroke="#FFC000" stroke-width="1.3" stroke-linecap="butt" />
<line x1="1851.96" y1="2216.78" x2="1864.76" y2="2229.58" stroke="#FFC000" stroke-width="1.3" stroke-linecap="butt" />
<line x1="1851.96" y1="2229.58" x2="1864.76" y2="2216.78" stroke="#FFC000" stroke-width="1.3" stroke-linecap="butt" />
<line x1="1550.37" y1="2074.21" x2="1571.24" y2="2074.21" stroke="#4472C4" stroke-width="4.3" stroke-linecap="butt" />
<line x1="1550.37" y1="2099.55" x2="1571.24" y2="2099.55" stroke="#ED7D31" stroke-width="4.3" stroke-linecap="butt" />
<line x1="1550.37" y1="2125.19" x2="1571.24" y2="2125.19" stroke="#A5A5A5" stroke-width="4.3" stroke-linecap="butt" />
<line x1="1550.37" y1="2150.53" x2="1571.24" y2="2150.53" stroke="#FFC000" stroke-width="4.3" stroke-linecap="butt" />
<text font-size="26.7" text-anchor="start" fill="#000" textLength="60.96" lengthAdjust="spacingAndGlyphs" x="1590.13" y="2082.45" ><tspan font-style="italic">siCTL</tspan></text>
<text font-size="26.7" text-anchor="start" fill="#000" textLength="187.44" lengthAdjust="spacingAndGlyphs" x="1590.12" y="2108.39" ><tspan font-style="italic">sihnRNPA1</tspan><tspan font-style="normal">+CTL</tspan></text>
<text font-size="26.7" text-anchor="start" fill="#000" textLength="275.59" lengthAdjust="spacingAndGlyphs" x="1590.12" y="2133.73" ><tspan font-style="italic">sihnRNPA1</tspan><tspan font-style="normal">+RAB27B (L)</tspan></text>
<text font-size="26.7" text-anchor="start" fill="#000" textLength="276.97" lengthAdjust="spacingAndGlyphs" x="1590.12" y="2159.08" ><tspan font-style="italic">sihnRNPA1</tspan><tspan font-style="normal">+RAB27B (S)</tspan></text>
<path d="M1783.87 2062.18 H1791.87 V2092.59 H1783.87" fill="none" stroke="#000" stroke-width="1.9" stroke-linejoin="round"/>
<text class="st" font-size="22" text-anchor="middle"><tspan x="1804.69" y="2074.05">*</tspan><tspan x="1804.69" y="2089.16">*</tspan><tspan x="1804.69" y="2104.27">*</tspan></text>
<path d="M1870.63 2094.08 H1878.63 V2124.19 H1870.63" fill="none" stroke="#000" stroke-width="1.9" stroke-linejoin="round"/>
<text class="st" font-size="22" text-anchor="middle"><tspan x="1892.64" y="2114.3">*</tspan><tspan x="1892.64" y="2128.12">*</tspan></text>
<path d="M1905.51 2118.83 H1913.51 V2148.64 H1905.51" fill="none" stroke="#000" stroke-width="1.9" stroke-linejoin="round"/>
<text class="st" font-size="22" text-anchor="middle"><tspan x="1926.04" y="2129.21">*</tspan><tspan x="1926.04" y="2144.32">*</tspan><tspan x="1926.04" y="2159.43">*</tspan></text>
</svg>
</body></html>
